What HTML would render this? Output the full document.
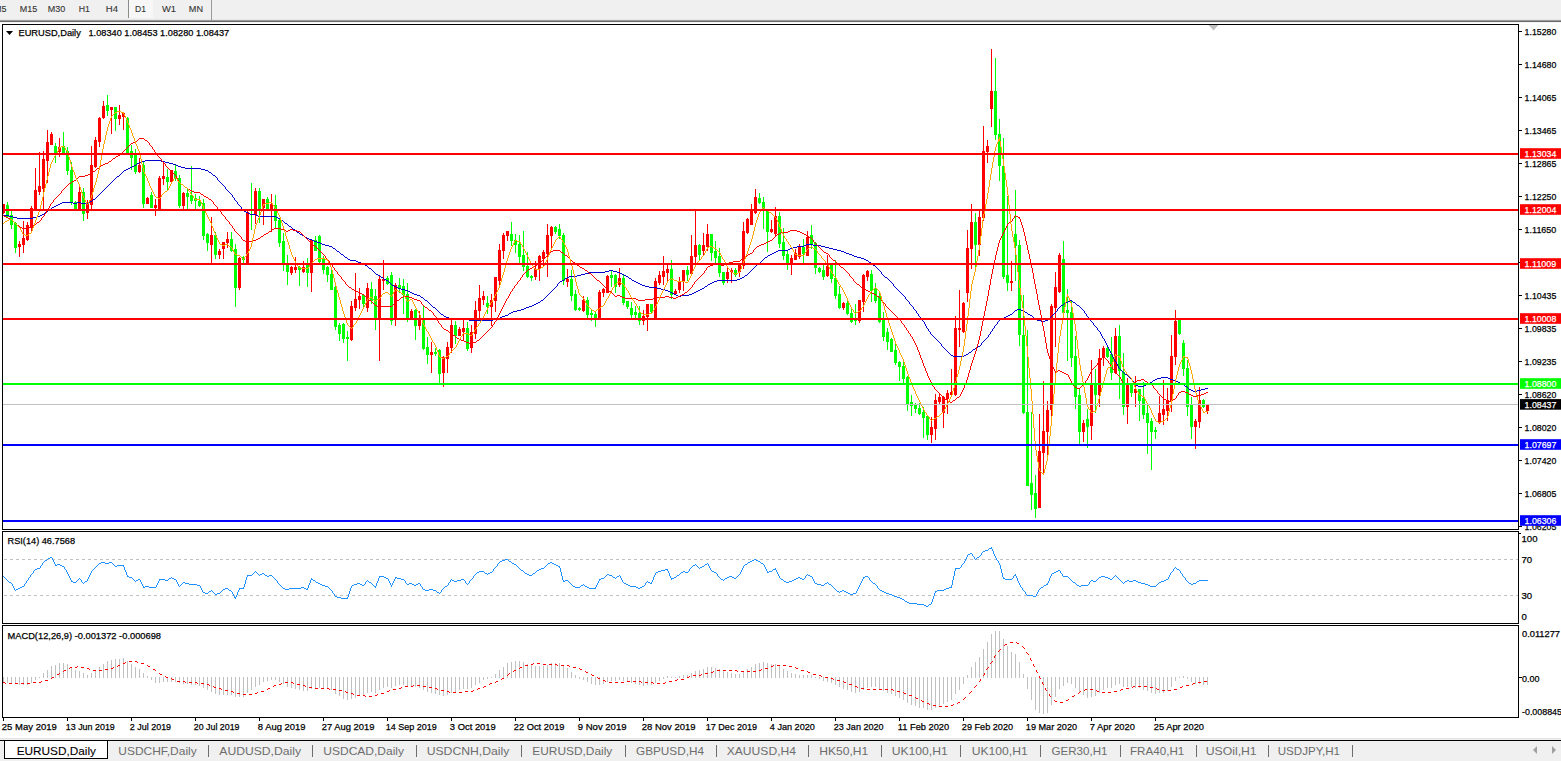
<!DOCTYPE html>
<html><head><meta charset="utf-8"><title>EURUSD,Daily</title>
<style>html,body{margin:0;padding:0;background:#fff;overflow:hidden;}svg{display:block;}text{font-family:"Liberation Sans",sans-serif;}</style>
</head><body>
<svg width="1561" height="761" viewBox="0 0 1561 761" font-family="Liberation Sans, sans-serif"><rect x="0" y="0" width="1561" height="19" fill="#F0F0F0"/>
<rect x="0" y="19" width="1561" height="1" fill="#E6E6E6"/>
<rect x="0" y="20" width="1561" height="1" fill="#9C9C9C"/>
<rect x="0" y="21" width="1561" height="1" fill="#6A6A6A"/>
<rect x="0" y="22" width="1561" height="1" fill="#F4F4F4"/>
<rect x="129" y="0" width="24" height="18" fill="#F7F7F7"/>
<rect x="128" y="0" width="1" height="18" fill="#8A8A8A"/>
<rect x="211" y="0" width="1" height="20" fill="#9A9A9A"/>
<text x="-6" y="12" font-size="9.6" fill="#333" stroke="#333" stroke-width="0.1" textLength="12.5" lengthAdjust="spacingAndGlyphs">M5</text>
<text x="19.8" y="12" font-size="9.6" fill="#333" stroke="#333" stroke-width="0.1" textLength="17.5" lengthAdjust="spacingAndGlyphs">M15</text>
<text x="47.7" y="12" font-size="9.6" fill="#333" stroke="#333" stroke-width="0.1" textLength="17.5" lengthAdjust="spacingAndGlyphs">M30</text>
<text x="78.8" y="12" font-size="9.6" fill="#333" stroke="#333" stroke-width="0.1" textLength="11.2" lengthAdjust="spacingAndGlyphs">H1</text>
<text x="105.8" y="12" font-size="9.6" fill="#333" stroke="#333" stroke-width="0.1" textLength="12.2" lengthAdjust="spacingAndGlyphs">H4</text>
<text x="135" y="12" font-size="9.6" fill="#333" stroke="#333" stroke-width="0.1" textLength="11" lengthAdjust="spacingAndGlyphs">D1</text>
<text x="162" y="12" font-size="9.6" fill="#333" stroke="#333" stroke-width="0.1" textLength="14" lengthAdjust="spacingAndGlyphs">W1</text>
<text x="188.8" y="12" font-size="9.6" fill="#333" stroke="#333" stroke-width="0.1" textLength="14.2" lengthAdjust="spacingAndGlyphs">MN</text>
<rect x="2" y="24" width="1517" height="1" fill="#000"/>
<rect x="2" y="529" width="1517" height="1" fill="#000"/>
<rect x="2" y="24" width="1" height="506" fill="#000"/>
<rect x="1518" y="24" width="1" height="506" fill="#000"/>
<rect x="2" y="531" width="1517" height="1" fill="#000"/>
<rect x="2" y="623" width="1517" height="1" fill="#000"/>
<rect x="2" y="531" width="1" height="93" fill="#000"/>
<rect x="1518" y="531" width="1" height="93" fill="#000"/>
<rect x="2" y="625" width="1517" height="1" fill="#000"/>
<rect x="2" y="717" width="1517" height="1" fill="#000"/>
<rect x="2" y="625" width="1" height="93" fill="#000"/>
<rect x="1518" y="625" width="1" height="93" fill="#000"/>
<defs><clipPath id="cm"><rect x="3" y="25" width="1515" height="504"/></clipPath><clipPath id="cr"><rect x="3" y="532" width="1515" height="91"/></clipPath><clipPath id="cd"><rect x="3" y="626" width="1515" height="91"/></clipPath></defs>
<g clip-path="url(#cm)" shape-rendering="crispEdges">
<rect x="3" y="204" width="1" height="10" fill="#FF0000"/>
<rect x="2" y="204" width="3" height="9" fill="#FF0000"/>
<rect x="7" y="202" width="1" height="15" fill="#00FF00"/>
<rect x="6" y="205" width="3" height="12" fill="#00FF00"/>
<rect x="11" y="211" width="1" height="18" fill="#00FF00"/>
<rect x="10" y="215" width="3" height="10" fill="#00FF00"/>
<rect x="15" y="222" width="1" height="31" fill="#00FF00"/>
<rect x="14" y="223" width="3" height="25" fill="#00FF00"/>
<rect x="19" y="241" width="1" height="16" fill="#FF0000"/>
<rect x="18" y="244" width="3" height="3" fill="#FF0000"/>
<rect x="23" y="221" width="1" height="32" fill="#FF0000"/>
<rect x="22" y="238" width="3" height="7" fill="#FF0000"/>
<rect x="27" y="222" width="1" height="19" fill="#FF0000"/>
<rect x="26" y="225" width="3" height="15" fill="#FF0000"/>
<rect x="31" y="206" width="1" height="26" fill="#FF0000"/>
<rect x="30" y="208" width="3" height="20" fill="#FF0000"/>
<rect x="35" y="168" width="1" height="43" fill="#FF0000"/>
<rect x="34" y="190" width="3" height="21" fill="#FF0000"/>
<rect x="39" y="152" width="1" height="43" fill="#FF0000"/>
<rect x="38" y="186" width="3" height="6" fill="#FF0000"/>
<rect x="43" y="151" width="1" height="60" fill="#FF0000"/>
<rect x="42" y="159" width="3" height="30" fill="#FF0000"/>
<rect x="47" y="130" width="1" height="53" fill="#FF0000"/>
<rect x="46" y="142" width="3" height="19" fill="#FF0000"/>
<rect x="51" y="132" width="1" height="13" fill="#FF0000"/>
<rect x="50" y="134" width="3" height="11" fill="#FF0000"/>
<rect x="55" y="143" width="1" height="20" fill="#00FF00"/>
<rect x="54" y="146" width="3" height="7" fill="#00FF00"/>
<rect x="59" y="138" width="1" height="19" fill="#FF0000"/>
<rect x="58" y="147" width="3" height="5" fill="#FF0000"/>
<rect x="63" y="132" width="1" height="22" fill="#00FF00"/>
<rect x="62" y="146" width="3" height="7" fill="#00FF00"/>
<rect x="67" y="147" width="1" height="28" fill="#00FF00"/>
<rect x="66" y="151" width="3" height="20" fill="#00FF00"/>
<rect x="71" y="162" width="1" height="43" fill="#00FF00"/>
<rect x="70" y="170" width="3" height="33" fill="#00FF00"/>
<rect x="75" y="201" width="1" height="9" fill="#00FF00"/>
<rect x="74" y="202" width="3" height="7" fill="#00FF00"/>
<rect x="79" y="186" width="1" height="24" fill="#FF0000"/>
<rect x="78" y="192" width="3" height="18" fill="#FF0000"/>
<rect x="83" y="188" width="1" height="33" fill="#00FF00"/>
<rect x="82" y="192" width="3" height="22" fill="#00FF00"/>
<rect x="87" y="200" width="1" height="19" fill="#FF0000"/>
<rect x="86" y="203" width="3" height="10" fill="#FF0000"/>
<rect x="91" y="146" width="1" height="64" fill="#FF0000"/>
<rect x="90" y="165" width="3" height="40" fill="#FF0000"/>
<rect x="95" y="137" width="1" height="31" fill="#FF0000"/>
<rect x="94" y="140" width="3" height="27" fill="#FF0000"/>
<rect x="99" y="117" width="1" height="30" fill="#FF0000"/>
<rect x="98" y="118" width="3" height="24" fill="#FF0000"/>
<rect x="103" y="101" width="1" height="18" fill="#FF0000"/>
<rect x="102" y="106" width="3" height="12" fill="#FF0000"/>
<rect x="107" y="95" width="1" height="21" fill="#00FF00"/>
<rect x="106" y="105" width="3" height="6" fill="#00FF00"/>
<rect x="111" y="107" width="1" height="27" fill="#FF0000"/>
<rect x="110" y="107" width="3" height="3" fill="#FF0000"/>
<rect x="115" y="107" width="1" height="24" fill="#00FF00"/>
<rect x="114" y="107" width="3" height="12" fill="#00FF00"/>
<rect x="119" y="105" width="1" height="20" fill="#FF0000"/>
<rect x="118" y="115" width="3" height="4" fill="#FF0000"/>
<rect x="123" y="112" width="1" height="18" fill="#FF0000"/>
<rect x="122" y="113" width="3" height="4" fill="#FF0000"/>
<rect x="127" y="117" width="1" height="38" fill="#00FF00"/>
<rect x="126" y="118" width="3" height="36" fill="#00FF00"/>
<rect x="131" y="145" width="1" height="25" fill="#00FF00"/>
<rect x="130" y="151" width="3" height="7" fill="#00FF00"/>
<rect x="135" y="149" width="1" height="25" fill="#00FF00"/>
<rect x="134" y="154" width="3" height="18" fill="#00FF00"/>
<rect x="139" y="158" width="1" height="15" fill="#FF0000"/>
<rect x="138" y="165" width="3" height="7" fill="#FF0000"/>
<rect x="143" y="162" width="1" height="46" fill="#00FF00"/>
<rect x="142" y="165" width="3" height="39" fill="#00FF00"/>
<rect x="147" y="197" width="1" height="7" fill="#FF0000"/>
<rect x="146" y="198" width="3" height="6" fill="#FF0000"/>
<rect x="151" y="192" width="1" height="16" fill="#00FF00"/>
<rect x="150" y="195" width="3" height="13" fill="#00FF00"/>
<rect x="155" y="199" width="1" height="17" fill="#FF0000"/>
<rect x="154" y="205" width="3" height="3" fill="#FF0000"/>
<rect x="159" y="176" width="1" height="35" fill="#FF0000"/>
<rect x="158" y="178" width="3" height="32" fill="#FF0000"/>
<rect x="163" y="161" width="1" height="24" fill="#FF0000"/>
<rect x="162" y="176" width="3" height="3" fill="#FF0000"/>
<rect x="167" y="169" width="1" height="21" fill="#00FF00"/>
<rect x="166" y="177" width="3" height="5" fill="#00FF00"/>
<rect x="171" y="170" width="1" height="13" fill="#FF0000"/>
<rect x="170" y="170" width="3" height="12" fill="#FF0000"/>
<rect x="175" y="165" width="1" height="16" fill="#00FF00"/>
<rect x="174" y="171" width="3" height="7" fill="#00FF00"/>
<rect x="179" y="175" width="1" height="33" fill="#00FF00"/>
<rect x="178" y="178" width="3" height="28" fill="#00FF00"/>
<rect x="183" y="192" width="1" height="18" fill="#FF0000"/>
<rect x="182" y="193" width="3" height="13" fill="#FF0000"/>
<rect x="187" y="188" width="1" height="21" fill="#00FF00"/>
<rect x="186" y="193" width="3" height="4" fill="#00FF00"/>
<rect x="191" y="166" width="1" height="38" fill="#00FF00"/>
<rect x="190" y="195" width="3" height="6" fill="#00FF00"/>
<rect x="195" y="194" width="1" height="16" fill="#00FF00"/>
<rect x="194" y="198" width="3" height="3" fill="#00FF00"/>
<rect x="199" y="196" width="1" height="11" fill="#00FF00"/>
<rect x="198" y="201" width="3" height="5" fill="#00FF00"/>
<rect x="203" y="199" width="1" height="41" fill="#00FF00"/>
<rect x="202" y="203" width="3" height="33" fill="#00FF00"/>
<rect x="207" y="233" width="1" height="18" fill="#00FF00"/>
<rect x="206" y="234" width="3" height="9" fill="#00FF00"/>
<rect x="211" y="217" width="1" height="48" fill="#FF0000"/>
<rect x="210" y="235" width="3" height="10" fill="#FF0000"/>
<rect x="215" y="232" width="1" height="27" fill="#00FF00"/>
<rect x="214" y="235" width="3" height="20" fill="#00FF00"/>
<rect x="219" y="249" width="1" height="10" fill="#FF0000"/>
<rect x="218" y="251" width="3" height="4" fill="#FF0000"/>
<rect x="223" y="242" width="1" height="17" fill="#FF0000"/>
<rect x="222" y="242" width="3" height="7" fill="#FF0000"/>
<rect x="227" y="232" width="1" height="16" fill="#FF0000"/>
<rect x="226" y="239" width="3" height="4" fill="#FF0000"/>
<rect x="231" y="232" width="1" height="20" fill="#00FF00"/>
<rect x="230" y="239" width="3" height="12" fill="#00FF00"/>
<rect x="235" y="244" width="1" height="63" fill="#00FF00"/>
<rect x="234" y="249" width="3" height="39" fill="#00FF00"/>
<rect x="239" y="257" width="1" height="33" fill="#FF0000"/>
<rect x="238" y="258" width="3" height="30" fill="#FF0000"/>
<rect x="243" y="256" width="1" height="8" fill="#00FF00"/>
<rect x="242" y="257" width="3" height="3" fill="#00FF00"/>
<rect x="247" y="211" width="1" height="54" fill="#FF0000"/>
<rect x="246" y="212" width="3" height="52" fill="#FF0000"/>
<rect x="251" y="183" width="1" height="47" fill="#00FF00"/>
<rect x="250" y="209" width="3" height="2" fill="#00FF00"/>
<rect x="255" y="188" width="1" height="36" fill="#FF0000"/>
<rect x="254" y="191" width="3" height="24" fill="#FF0000"/>
<rect x="259" y="188" width="1" height="35" fill="#00FF00"/>
<rect x="258" y="191" width="3" height="18" fill="#00FF00"/>
<rect x="263" y="199" width="1" height="26" fill="#FF0000"/>
<rect x="262" y="199" width="3" height="9" fill="#FF0000"/>
<rect x="267" y="197" width="1" height="13" fill="#00FF00"/>
<rect x="266" y="199" width="3" height="10" fill="#00FF00"/>
<rect x="271" y="194" width="1" height="38" fill="#FF0000"/>
<rect x="270" y="204" width="3" height="6" fill="#FF0000"/>
<rect x="275" y="195" width="1" height="33" fill="#00FF00"/>
<rect x="274" y="205" width="3" height="16" fill="#00FF00"/>
<rect x="279" y="219" width="1" height="28" fill="#00FF00"/>
<rect x="278" y="220" width="3" height="23" fill="#00FF00"/>
<rect x="283" y="233" width="1" height="38" fill="#00FF00"/>
<rect x="282" y="241" width="3" height="24" fill="#00FF00"/>
<rect x="287" y="255" width="1" height="30" fill="#00FF00"/>
<rect x="286" y="265" width="3" height="7" fill="#00FF00"/>
<rect x="291" y="266" width="1" height="9" fill="#FF0000"/>
<rect x="290" y="267" width="3" height="6" fill="#FF0000"/>
<rect x="295" y="257" width="1" height="16" fill="#FF0000"/>
<rect x="294" y="267" width="3" height="3" fill="#FF0000"/>
<rect x="299" y="266" width="1" height="20" fill="#00FF00"/>
<rect x="298" y="267" width="3" height="3" fill="#00FF00"/>
<rect x="303" y="261" width="1" height="12" fill="#FF0000"/>
<rect x="302" y="267" width="3" height="5" fill="#FF0000"/>
<rect x="307" y="258" width="1" height="29" fill="#00FF00"/>
<rect x="306" y="265" width="3" height="8" fill="#00FF00"/>
<rect x="311" y="239" width="1" height="53" fill="#FF0000"/>
<rect x="310" y="240" width="3" height="33" fill="#FF0000"/>
<rect x="315" y="236" width="1" height="15" fill="#00FF00"/>
<rect x="314" y="240" width="3" height="11" fill="#00FF00"/>
<rect x="319" y="235" width="1" height="28" fill="#00FF00"/>
<rect x="318" y="236" width="3" height="26" fill="#00FF00"/>
<rect x="323" y="256" width="1" height="18" fill="#00FF00"/>
<rect x="322" y="259" width="3" height="11" fill="#00FF00"/>
<rect x="327" y="266" width="1" height="16" fill="#00FF00"/>
<rect x="326" y="267" width="3" height="8" fill="#00FF00"/>
<rect x="331" y="269" width="1" height="21" fill="#00FF00"/>
<rect x="330" y="274" width="3" height="16" fill="#00FF00"/>
<rect x="335" y="286" width="1" height="44" fill="#00FF00"/>
<rect x="334" y="287" width="3" height="40" fill="#00FF00"/>
<rect x="339" y="323" width="1" height="18" fill="#00FF00"/>
<rect x="338" y="325" width="3" height="9" fill="#00FF00"/>
<rect x="343" y="323" width="1" height="20" fill="#00FF00"/>
<rect x="342" y="324" width="3" height="15" fill="#00FF00"/>
<rect x="347" y="331" width="1" height="30" fill="#00FF00"/>
<rect x="346" y="337" width="3" height="2" fill="#00FF00"/>
<rect x="351" y="301" width="1" height="40" fill="#FF0000"/>
<rect x="350" y="306" width="3" height="34" fill="#FF0000"/>
<rect x="355" y="273" width="1" height="38" fill="#FF0000"/>
<rect x="354" y="299" width="3" height="9" fill="#FF0000"/>
<rect x="359" y="288" width="1" height="21" fill="#FF0000"/>
<rect x="358" y="296" width="3" height="4" fill="#FF0000"/>
<rect x="363" y="295" width="1" height="12" fill="#00FF00"/>
<rect x="362" y="295" width="3" height="9" fill="#00FF00"/>
<rect x="367" y="283" width="1" height="29" fill="#FF0000"/>
<rect x="366" y="288" width="3" height="20" fill="#FF0000"/>
<rect x="371" y="282" width="1" height="22" fill="#00FF00"/>
<rect x="370" y="289" width="3" height="12" fill="#00FF00"/>
<rect x="375" y="289" width="1" height="41" fill="#00FF00"/>
<rect x="374" y="296" width="3" height="23" fill="#00FF00"/>
<rect x="379" y="276" width="1" height="85" fill="#FF0000"/>
<rect x="378" y="279" width="3" height="40" fill="#FF0000"/>
<rect x="383" y="260" width="1" height="30" fill="#FF0000"/>
<rect x="382" y="279" width="3" height="2" fill="#FF0000"/>
<rect x="387" y="276" width="1" height="9" fill="#00FF00"/>
<rect x="386" y="278" width="3" height="6" fill="#00FF00"/>
<rect x="391" y="272" width="1" height="53" fill="#00FF00"/>
<rect x="390" y="275" width="3" height="46" fill="#00FF00"/>
<rect x="395" y="283" width="1" height="43" fill="#FF0000"/>
<rect x="394" y="285" width="3" height="33" fill="#FF0000"/>
<rect x="399" y="278" width="1" height="15" fill="#00FF00"/>
<rect x="398" y="285" width="3" height="3" fill="#00FF00"/>
<rect x="403" y="279" width="1" height="35" fill="#00FF00"/>
<rect x="402" y="286" width="3" height="9" fill="#00FF00"/>
<rect x="407" y="283" width="1" height="39" fill="#00FF00"/>
<rect x="406" y="294" width="3" height="25" fill="#00FF00"/>
<rect x="411" y="309" width="1" height="11" fill="#FF0000"/>
<rect x="410" y="311" width="3" height="9" fill="#FF0000"/>
<rect x="415" y="309" width="1" height="31" fill="#00FF00"/>
<rect x="414" y="310" width="3" height="16" fill="#00FF00"/>
<rect x="419" y="311" width="1" height="19" fill="#FF0000"/>
<rect x="418" y="318" width="3" height="8" fill="#FF0000"/>
<rect x="423" y="306" width="1" height="44" fill="#00FF00"/>
<rect x="422" y="320" width="3" height="29" fill="#00FF00"/>
<rect x="427" y="337" width="1" height="27" fill="#00FF00"/>
<rect x="426" y="347" width="3" height="8" fill="#00FF00"/>
<rect x="431" y="342" width="1" height="31" fill="#FF0000"/>
<rect x="430" y="352" width="3" height="3" fill="#FF0000"/>
<rect x="435" y="348" width="1" height="8" fill="#00FF00"/>
<rect x="434" y="352" width="3" height="2" fill="#00FF00"/>
<rect x="439" y="349" width="1" height="35" fill="#00FF00"/>
<rect x="438" y="350" width="3" height="24" fill="#00FF00"/>
<rect x="443" y="356" width="1" height="31" fill="#FF0000"/>
<rect x="442" y="357" width="3" height="16" fill="#FF0000"/>
<rect x="447" y="342" width="1" height="31" fill="#FF0000"/>
<rect x="446" y="347" width="3" height="12" fill="#FF0000"/>
<rect x="451" y="320" width="1" height="33" fill="#FF0000"/>
<rect x="450" y="325" width="3" height="23" fill="#FF0000"/>
<rect x="455" y="321" width="1" height="23" fill="#00FF00"/>
<rect x="454" y="325" width="3" height="11" fill="#00FF00"/>
<rect x="459" y="327" width="1" height="9" fill="#FF0000"/>
<rect x="458" y="329" width="3" height="7" fill="#FF0000"/>
<rect x="463" y="319" width="1" height="21" fill="#FF0000"/>
<rect x="462" y="328" width="3" height="4" fill="#FF0000"/>
<rect x="467" y="322" width="1" height="29" fill="#00FF00"/>
<rect x="466" y="328" width="3" height="21" fill="#00FF00"/>
<rect x="471" y="325" width="1" height="28" fill="#FF0000"/>
<rect x="470" y="332" width="3" height="16" fill="#FF0000"/>
<rect x="475" y="301" width="1" height="38" fill="#FF0000"/>
<rect x="474" y="310" width="3" height="24" fill="#FF0000"/>
<rect x="479" y="285" width="1" height="34" fill="#FF0000"/>
<rect x="478" y="298" width="3" height="13" fill="#FF0000"/>
<rect x="483" y="291" width="1" height="14" fill="#FF0000"/>
<rect x="482" y="296" width="3" height="4" fill="#FF0000"/>
<rect x="487" y="296" width="1" height="18" fill="#00FF00"/>
<rect x="486" y="303" width="3" height="4" fill="#00FF00"/>
<rect x="491" y="294" width="1" height="32" fill="#FF0000"/>
<rect x="490" y="300" width="3" height="7" fill="#FF0000"/>
<rect x="495" y="277" width="1" height="35" fill="#FF0000"/>
<rect x="494" y="277" width="3" height="24" fill="#FF0000"/>
<rect x="499" y="244" width="1" height="42" fill="#FF0000"/>
<rect x="498" y="250" width="3" height="31" fill="#FF0000"/>
<rect x="503" y="233" width="1" height="26" fill="#FF0000"/>
<rect x="502" y="235" width="3" height="16" fill="#FF0000"/>
<rect x="507" y="231" width="1" height="10" fill="#FF0000"/>
<rect x="506" y="231" width="3" height="5" fill="#FF0000"/>
<rect x="511" y="222" width="1" height="24" fill="#00FF00"/>
<rect x="510" y="234" width="3" height="7" fill="#00FF00"/>
<rect x="515" y="234" width="1" height="19" fill="#00FF00"/>
<rect x="514" y="240" width="3" height="5" fill="#00FF00"/>
<rect x="519" y="235" width="1" height="29" fill="#00FF00"/>
<rect x="518" y="244" width="3" height="13" fill="#00FF00"/>
<rect x="523" y="231" width="1" height="40" fill="#00FF00"/>
<rect x="522" y="255" width="3" height="12" fill="#00FF00"/>
<rect x="527" y="252" width="1" height="26" fill="#00FF00"/>
<rect x="526" y="266" width="3" height="11" fill="#00FF00"/>
<rect x="531" y="275" width="1" height="6" fill="#00FF00"/>
<rect x="530" y="276" width="3" height="2" fill="#00FF00"/>
<rect x="535" y="261" width="1" height="19" fill="#FF0000"/>
<rect x="534" y="269" width="3" height="8" fill="#FF0000"/>
<rect x="539" y="255" width="1" height="26" fill="#FF0000"/>
<rect x="538" y="256" width="3" height="13" fill="#FF0000"/>
<rect x="543" y="250" width="1" height="17" fill="#FF0000"/>
<rect x="542" y="252" width="3" height="7" fill="#FF0000"/>
<rect x="547" y="224" width="1" height="53" fill="#FF0000"/>
<rect x="546" y="235" width="3" height="19" fill="#FF0000"/>
<rect x="551" y="226" width="1" height="22" fill="#FF0000"/>
<rect x="550" y="227" width="3" height="9" fill="#FF0000"/>
<rect x="555" y="226" width="1" height="8" fill="#00FF00"/>
<rect x="554" y="227" width="3" height="5" fill="#00FF00"/>
<rect x="559" y="224" width="1" height="15" fill="#00FF00"/>
<rect x="558" y="229" width="3" height="7" fill="#00FF00"/>
<rect x="563" y="233" width="1" height="52" fill="#00FF00"/>
<rect x="562" y="235" width="3" height="46" fill="#00FF00"/>
<rect x="567" y="269" width="1" height="18" fill="#FF0000"/>
<rect x="566" y="279" width="3" height="3" fill="#FF0000"/>
<rect x="571" y="270" width="1" height="31" fill="#00FF00"/>
<rect x="570" y="279" width="3" height="17" fill="#00FF00"/>
<rect x="575" y="290" width="1" height="21" fill="#00FF00"/>
<rect x="574" y="294" width="3" height="16" fill="#00FF00"/>
<rect x="579" y="307" width="1" height="4" fill="#00FF00"/>
<rect x="578" y="308" width="3" height="2" fill="#00FF00"/>
<rect x="583" y="296" width="1" height="16" fill="#FF0000"/>
<rect x="582" y="300" width="3" height="11" fill="#FF0000"/>
<rect x="587" y="297" width="1" height="22" fill="#00FF00"/>
<rect x="586" y="300" width="3" height="15" fill="#00FF00"/>
<rect x="591" y="310" width="1" height="11" fill="#00FF00"/>
<rect x="590" y="313" width="3" height="2" fill="#00FF00"/>
<rect x="595" y="311" width="1" height="16" fill="#00FF00"/>
<rect x="594" y="314" width="3" height="5" fill="#00FF00"/>
<rect x="599" y="290" width="1" height="29" fill="#FF0000"/>
<rect x="598" y="292" width="3" height="27" fill="#FF0000"/>
<rect x="603" y="288" width="1" height="9" fill="#FF0000"/>
<rect x="602" y="289" width="3" height="4" fill="#FF0000"/>
<rect x="607" y="275" width="1" height="18" fill="#FF0000"/>
<rect x="606" y="276" width="3" height="17" fill="#FF0000"/>
<rect x="611" y="271" width="1" height="16" fill="#00FF00"/>
<rect x="610" y="275" width="3" height="3" fill="#00FF00"/>
<rect x="615" y="274" width="1" height="19" fill="#00FF00"/>
<rect x="614" y="275" width="3" height="12" fill="#00FF00"/>
<rect x="619" y="268" width="1" height="19" fill="#FF0000"/>
<rect x="618" y="278" width="3" height="7" fill="#FF0000"/>
<rect x="623" y="274" width="1" height="31" fill="#00FF00"/>
<rect x="622" y="278" width="3" height="25" fill="#00FF00"/>
<rect x="627" y="301" width="1" height="8" fill="#00FF00"/>
<rect x="626" y="301" width="3" height="6" fill="#00FF00"/>
<rect x="631" y="302" width="1" height="17" fill="#00FF00"/>
<rect x="630" y="308" width="3" height="7" fill="#00FF00"/>
<rect x="635" y="306" width="1" height="13" fill="#00FF00"/>
<rect x="634" y="312" width="3" height="3" fill="#00FF00"/>
<rect x="639" y="306" width="1" height="19" fill="#00FF00"/>
<rect x="638" y="313" width="3" height="8" fill="#00FF00"/>
<rect x="643" y="310" width="1" height="15" fill="#FF0000"/>
<rect x="642" y="316" width="3" height="5" fill="#FF0000"/>
<rect x="647" y="304" width="1" height="27" fill="#FF0000"/>
<rect x="646" y="304" width="3" height="13" fill="#FF0000"/>
<rect x="651" y="304" width="1" height="9" fill="#00FF00"/>
<rect x="650" y="304" width="3" height="8" fill="#00FF00"/>
<rect x="655" y="278" width="1" height="41" fill="#FF0000"/>
<rect x="654" y="281" width="3" height="38" fill="#FF0000"/>
<rect x="659" y="271" width="1" height="14" fill="#FF0000"/>
<rect x="658" y="275" width="3" height="8" fill="#FF0000"/>
<rect x="663" y="256" width="1" height="29" fill="#FF0000"/>
<rect x="662" y="271" width="3" height="6" fill="#FF0000"/>
<rect x="667" y="265" width="1" height="16" fill="#FF0000"/>
<rect x="666" y="269" width="3" height="4" fill="#FF0000"/>
<rect x="671" y="260" width="1" height="39" fill="#00FF00"/>
<rect x="670" y="269" width="3" height="26" fill="#00FF00"/>
<rect x="675" y="289" width="1" height="6" fill="#FF0000"/>
<rect x="674" y="291" width="3" height="3" fill="#FF0000"/>
<rect x="679" y="277" width="1" height="16" fill="#FF0000"/>
<rect x="678" y="282" width="3" height="8" fill="#FF0000"/>
<rect x="683" y="270" width="1" height="21" fill="#FF0000"/>
<rect x="682" y="270" width="3" height="11" fill="#FF0000"/>
<rect x="687" y="266" width="1" height="15" fill="#00FF00"/>
<rect x="686" y="270" width="3" height="5" fill="#00FF00"/>
<rect x="691" y="235" width="1" height="40" fill="#FF0000"/>
<rect x="690" y="256" width="3" height="18" fill="#FF0000"/>
<rect x="695" y="211" width="1" height="53" fill="#FF0000"/>
<rect x="694" y="245" width="3" height="12" fill="#FF0000"/>
<rect x="699" y="244" width="1" height="16" fill="#00FF00"/>
<rect x="698" y="245" width="3" height="10" fill="#00FF00"/>
<rect x="703" y="233" width="1" height="22" fill="#FF0000"/>
<rect x="702" y="245" width="3" height="6" fill="#FF0000"/>
<rect x="707" y="224" width="1" height="27" fill="#FF0000"/>
<rect x="706" y="234" width="3" height="13" fill="#FF0000"/>
<rect x="711" y="234" width="1" height="27" fill="#00FF00"/>
<rect x="710" y="234" width="3" height="19" fill="#00FF00"/>
<rect x="715" y="241" width="1" height="22" fill="#00FF00"/>
<rect x="714" y="251" width="3" height="7" fill="#00FF00"/>
<rect x="719" y="248" width="1" height="29" fill="#00FF00"/>
<rect x="718" y="256" width="3" height="17" fill="#00FF00"/>
<rect x="723" y="272" width="1" height="13" fill="#00FF00"/>
<rect x="722" y="272" width="3" height="11" fill="#00FF00"/>
<rect x="727" y="268" width="1" height="15" fill="#FF0000"/>
<rect x="726" y="272" width="3" height="7" fill="#FF0000"/>
<rect x="731" y="268" width="1" height="15" fill="#FF0000"/>
<rect x="730" y="270" width="3" height="2" fill="#FF0000"/>
<rect x="735" y="268" width="1" height="9" fill="#00FF00"/>
<rect x="734" y="270" width="3" height="5" fill="#00FF00"/>
<rect x="739" y="263" width="1" height="14" fill="#FF0000"/>
<rect x="738" y="264" width="3" height="8" fill="#FF0000"/>
<rect x="743" y="222" width="1" height="47" fill="#FF0000"/>
<rect x="742" y="231" width="3" height="35" fill="#FF0000"/>
<rect x="747" y="218" width="1" height="16" fill="#FF0000"/>
<rect x="746" y="219" width="3" height="14" fill="#FF0000"/>
<rect x="751" y="204" width="1" height="21" fill="#FF0000"/>
<rect x="750" y="209" width="3" height="16" fill="#FF0000"/>
<rect x="755" y="189" width="1" height="25" fill="#FF0000"/>
<rect x="754" y="197" width="3" height="16" fill="#FF0000"/>
<rect x="759" y="193" width="1" height="11" fill="#00FF00"/>
<rect x="758" y="198" width="3" height="5" fill="#00FF00"/>
<rect x="763" y="197" width="1" height="32" fill="#00FF00"/>
<rect x="762" y="202" width="3" height="7" fill="#00FF00"/>
<rect x="767" y="209" width="1" height="43" fill="#00FF00"/>
<rect x="766" y="210" width="3" height="22" fill="#00FF00"/>
<rect x="771" y="220" width="1" height="13" fill="#FF0000"/>
<rect x="770" y="229" width="3" height="3" fill="#FF0000"/>
<rect x="775" y="207" width="1" height="29" fill="#FF0000"/>
<rect x="774" y="216" width="3" height="18" fill="#FF0000"/>
<rect x="779" y="212" width="1" height="36" fill="#00FF00"/>
<rect x="778" y="216" width="3" height="28" fill="#00FF00"/>
<rect x="783" y="228" width="1" height="32" fill="#00FF00"/>
<rect x="782" y="242" width="3" height="14" fill="#00FF00"/>
<rect x="787" y="251" width="1" height="19" fill="#00FF00"/>
<rect x="786" y="254" width="3" height="10" fill="#00FF00"/>
<rect x="791" y="255" width="1" height="20" fill="#FF0000"/>
<rect x="790" y="258" width="3" height="7" fill="#FF0000"/>
<rect x="795" y="249" width="1" height="11" fill="#FF0000"/>
<rect x="794" y="253" width="3" height="7" fill="#FF0000"/>
<rect x="799" y="244" width="1" height="15" fill="#FF0000"/>
<rect x="798" y="246" width="3" height="11" fill="#FF0000"/>
<rect x="803" y="239" width="1" height="25" fill="#00FF00"/>
<rect x="802" y="247" width="3" height="7" fill="#00FF00"/>
<rect x="807" y="231" width="1" height="25" fill="#FF0000"/>
<rect x="806" y="237" width="3" height="19" fill="#FF0000"/>
<rect x="811" y="225" width="1" height="24" fill="#00FF00"/>
<rect x="810" y="235" width="3" height="9" fill="#00FF00"/>
<rect x="815" y="242" width="1" height="32" fill="#00FF00"/>
<rect x="814" y="243" width="3" height="25" fill="#00FF00"/>
<rect x="819" y="267" width="1" height="6" fill="#00FF00"/>
<rect x="818" y="268" width="3" height="4" fill="#00FF00"/>
<rect x="823" y="265" width="1" height="15" fill="#00FF00"/>
<rect x="822" y="270" width="3" height="7" fill="#00FF00"/>
<rect x="827" y="255" width="1" height="22" fill="#FF0000"/>
<rect x="826" y="266" width="3" height="10" fill="#FF0000"/>
<rect x="831" y="265" width="1" height="18" fill="#00FF00"/>
<rect x="830" y="265" width="3" height="14" fill="#00FF00"/>
<rect x="835" y="260" width="1" height="39" fill="#00FF00"/>
<rect x="834" y="278" width="3" height="18" fill="#00FF00"/>
<rect x="839" y="286" width="1" height="23" fill="#00FF00"/>
<rect x="838" y="294" width="3" height="14" fill="#00FF00"/>
<rect x="843" y="302" width="1" height="8" fill="#FF0000"/>
<rect x="842" y="303" width="3" height="5" fill="#FF0000"/>
<rect x="847" y="301" width="1" height="14" fill="#00FF00"/>
<rect x="846" y="303" width="3" height="11" fill="#00FF00"/>
<rect x="851" y="308" width="1" height="15" fill="#00FF00"/>
<rect x="850" y="313" width="3" height="9" fill="#00FF00"/>
<rect x="855" y="304" width="1" height="21" fill="#00FF00"/>
<rect x="854" y="319" width="3" height="2" fill="#00FF00"/>
<rect x="859" y="300" width="1" height="23" fill="#FF0000"/>
<rect x="858" y="300" width="3" height="21" fill="#FF0000"/>
<rect x="863" y="274" width="1" height="38" fill="#FF0000"/>
<rect x="862" y="275" width="3" height="27" fill="#FF0000"/>
<rect x="867" y="270" width="1" height="11" fill="#FF0000"/>
<rect x="866" y="271" width="3" height="6" fill="#FF0000"/>
<rect x="871" y="270" width="1" height="32" fill="#00FF00"/>
<rect x="870" y="274" width="3" height="17" fill="#00FF00"/>
<rect x="875" y="283" width="1" height="20" fill="#00FF00"/>
<rect x="874" y="288" width="3" height="13" fill="#00FF00"/>
<rect x="879" y="293" width="1" height="30" fill="#00FF00"/>
<rect x="878" y="296" width="3" height="26" fill="#00FF00"/>
<rect x="883" y="312" width="1" height="29" fill="#00FF00"/>
<rect x="882" y="320" width="3" height="17" fill="#00FF00"/>
<rect x="887" y="328" width="1" height="22" fill="#00FF00"/>
<rect x="886" y="332" width="3" height="10" fill="#00FF00"/>
<rect x="891" y="338" width="1" height="14" fill="#00FF00"/>
<rect x="890" y="339" width="3" height="13" fill="#00FF00"/>
<rect x="895" y="343" width="1" height="22" fill="#00FF00"/>
<rect x="894" y="350" width="3" height="13" fill="#00FF00"/>
<rect x="899" y="361" width="1" height="20" fill="#00FF00"/>
<rect x="898" y="362" width="3" height="5" fill="#00FF00"/>
<rect x="903" y="360" width="1" height="24" fill="#00FF00"/>
<rect x="902" y="366" width="3" height="13" fill="#00FF00"/>
<rect x="907" y="376" width="1" height="35" fill="#00FF00"/>
<rect x="906" y="377" width="3" height="27" fill="#00FF00"/>
<rect x="911" y="395" width="1" height="21" fill="#00FF00"/>
<rect x="910" y="402" width="3" height="4" fill="#00FF00"/>
<rect x="915" y="403" width="1" height="10" fill="#00FF00"/>
<rect x="914" y="404" width="3" height="5" fill="#00FF00"/>
<rect x="919" y="403" width="1" height="12" fill="#00FF00"/>
<rect x="918" y="408" width="3" height="6" fill="#00FF00"/>
<rect x="923" y="407" width="1" height="31" fill="#00FF00"/>
<rect x="922" y="412" width="3" height="6" fill="#00FF00"/>
<rect x="927" y="416" width="1" height="24" fill="#00FF00"/>
<rect x="926" y="416" width="3" height="19" fill="#00FF00"/>
<rect x="931" y="417" width="1" height="26" fill="#FF0000"/>
<rect x="930" y="427" width="3" height="8" fill="#FF0000"/>
<rect x="935" y="394" width="1" height="46" fill="#FF0000"/>
<rect x="934" y="400" width="3" height="29" fill="#FF0000"/>
<rect x="939" y="394" width="1" height="10" fill="#FF0000"/>
<rect x="938" y="397" width="3" height="5" fill="#FF0000"/>
<rect x="943" y="396" width="1" height="32" fill="#FF0000"/>
<rect x="942" y="397" width="3" height="16" fill="#FF0000"/>
<rect x="947" y="390" width="1" height="24" fill="#FF0000"/>
<rect x="946" y="393" width="3" height="6" fill="#FF0000"/>
<rect x="951" y="369" width="1" height="27" fill="#FF0000"/>
<rect x="950" y="392" width="3" height="3" fill="#FF0000"/>
<rect x="955" y="316" width="1" height="80" fill="#FF0000"/>
<rect x="954" y="328" width="3" height="67" fill="#FF0000"/>
<rect x="959" y="290" width="1" height="57" fill="#FF0000"/>
<rect x="958" y="328" width="3" height="2" fill="#FF0000"/>
<rect x="963" y="302" width="1" height="31" fill="#FF0000"/>
<rect x="962" y="303" width="3" height="29" fill="#FF0000"/>
<rect x="967" y="230" width="1" height="72" fill="#FF0000"/>
<rect x="966" y="248" width="3" height="45" fill="#FF0000"/>
<rect x="971" y="204" width="1" height="65" fill="#FF0000"/>
<rect x="970" y="222" width="3" height="27" fill="#FF0000"/>
<rect x="975" y="213" width="1" height="55" fill="#00FF00"/>
<rect x="974" y="222" width="3" height="23" fill="#00FF00"/>
<rect x="979" y="211" width="1" height="45" fill="#FF0000"/>
<rect x="978" y="217" width="3" height="28" fill="#FF0000"/>
<rect x="983" y="126" width="1" height="95" fill="#FF0000"/>
<rect x="982" y="151" width="3" height="67" fill="#FF0000"/>
<rect x="987" y="140" width="1" height="23" fill="#FF0000"/>
<rect x="986" y="146" width="3" height="6" fill="#FF0000"/>
<rect x="991" y="49" width="1" height="78" fill="#FF0000"/>
<rect x="990" y="91" width="3" height="18" fill="#FF0000"/>
<rect x="995" y="58" width="1" height="82" fill="#00FF00"/>
<rect x="994" y="91" width="3" height="44" fill="#00FF00"/>
<rect x="999" y="119" width="1" height="62" fill="#00FF00"/>
<rect x="998" y="134" width="3" height="32" fill="#00FF00"/>
<rect x="1003" y="138" width="1" height="141" fill="#00FF00"/>
<rect x="1002" y="166" width="3" height="111" fill="#00FF00"/>
<rect x="1007" y="196" width="1" height="95" fill="#00FF00"/>
<rect x="1006" y="275" width="3" height="8" fill="#00FF00"/>
<rect x="1011" y="261" width="1" height="30" fill="#FF0000"/>
<rect x="1010" y="281" width="3" height="2" fill="#FF0000"/>
<rect x="1015" y="190" width="1" height="91" fill="#00FF00"/>
<rect x="1014" y="234" width="3" height="12" fill="#00FF00"/>
<rect x="1019" y="240" width="1" height="106" fill="#00FF00"/>
<rect x="1018" y="245" width="3" height="90" fill="#00FF00"/>
<rect x="1023" y="295" width="1" height="119" fill="#00FF00"/>
<rect x="1022" y="335" width="3" height="78" fill="#00FF00"/>
<rect x="1027" y="330" width="1" height="156" fill="#00FF00"/>
<rect x="1026" y="412" width="3" height="74" fill="#00FF00"/>
<rect x="1031" y="412" width="1" height="98" fill="#00FF00"/>
<rect x="1030" y="483" width="3" height="12" fill="#00FF00"/>
<rect x="1035" y="475" width="1" height="43" fill="#00FF00"/>
<rect x="1034" y="493" width="3" height="16" fill="#00FF00"/>
<rect x="1039" y="414" width="1" height="94" fill="#FF0000"/>
<rect x="1038" y="451" width="3" height="57" fill="#FF0000"/>
<rect x="1043" y="381" width="1" height="92" fill="#FF0000"/>
<rect x="1042" y="431" width="3" height="22" fill="#FF0000"/>
<rect x="1047" y="401" width="1" height="54" fill="#FF0000"/>
<rect x="1046" y="410" width="3" height="22" fill="#FF0000"/>
<rect x="1051" y="304" width="1" height="112" fill="#FF0000"/>
<rect x="1050" y="306" width="3" height="104" fill="#FF0000"/>
<rect x="1055" y="272" width="1" height="75" fill="#FF0000"/>
<rect x="1054" y="287" width="3" height="21" fill="#FF0000"/>
<rect x="1059" y="253" width="1" height="40" fill="#FF0000"/>
<rect x="1058" y="255" width="3" height="37" fill="#FF0000"/>
<rect x="1063" y="241" width="1" height="72" fill="#00FF00"/>
<rect x="1062" y="259" width="3" height="54" fill="#00FF00"/>
<rect x="1067" y="289" width="1" height="72" fill="#00FF00"/>
<rect x="1066" y="310" width="3" height="3" fill="#00FF00"/>
<rect x="1071" y="300" width="1" height="67" fill="#00FF00"/>
<rect x="1070" y="312" width="3" height="46" fill="#00FF00"/>
<rect x="1075" y="336" width="1" height="73" fill="#00FF00"/>
<rect x="1074" y="356" width="3" height="41" fill="#00FF00"/>
<rect x="1079" y="389" width="1" height="56" fill="#00FF00"/>
<rect x="1078" y="395" width="3" height="37" fill="#00FF00"/>
<rect x="1083" y="420" width="1" height="22" fill="#FF0000"/>
<rect x="1082" y="423" width="3" height="9" fill="#FF0000"/>
<rect x="1087" y="409" width="1" height="39" fill="#00FF00"/>
<rect x="1086" y="419" width="3" height="8" fill="#00FF00"/>
<rect x="1091" y="360" width="1" height="80" fill="#FF0000"/>
<rect x="1090" y="383" width="3" height="43" fill="#FF0000"/>
<rect x="1095" y="369" width="1" height="44" fill="#00FF00"/>
<rect x="1094" y="383" width="3" height="12" fill="#00FF00"/>
<rect x="1099" y="349" width="1" height="58" fill="#FF0000"/>
<rect x="1098" y="358" width="3" height="37" fill="#FF0000"/>
<rect x="1103" y="346" width="1" height="20" fill="#FF0000"/>
<rect x="1102" y="348" width="3" height="10" fill="#FF0000"/>
<rect x="1107" y="346" width="1" height="12" fill="#00FF00"/>
<rect x="1106" y="348" width="3" height="9" fill="#00FF00"/>
<rect x="1111" y="337" width="1" height="43" fill="#00FF00"/>
<rect x="1110" y="354" width="3" height="19" fill="#00FF00"/>
<rect x="1115" y="328" width="1" height="46" fill="#FF0000"/>
<rect x="1114" y="336" width="3" height="37" fill="#FF0000"/>
<rect x="1119" y="325" width="1" height="74" fill="#00FF00"/>
<rect x="1118" y="336" width="3" height="35" fill="#00FF00"/>
<rect x="1123" y="353" width="1" height="62" fill="#00FF00"/>
<rect x="1122" y="372" width="3" height="35" fill="#00FF00"/>
<rect x="1127" y="378" width="1" height="46" fill="#FF0000"/>
<rect x="1126" y="385" width="3" height="22" fill="#FF0000"/>
<rect x="1131" y="383" width="1" height="14" fill="#00FF00"/>
<rect x="1130" y="384" width="3" height="9" fill="#00FF00"/>
<rect x="1135" y="376" width="1" height="31" fill="#FF0000"/>
<rect x="1134" y="389" width="3" height="4" fill="#FF0000"/>
<rect x="1139" y="389" width="1" height="32" fill="#00FF00"/>
<rect x="1138" y="389" width="3" height="12" fill="#00FF00"/>
<rect x="1143" y="382" width="1" height="37" fill="#00FF00"/>
<rect x="1142" y="398" width="3" height="17" fill="#00FF00"/>
<rect x="1147" y="404" width="1" height="50" fill="#00FF00"/>
<rect x="1146" y="413" width="3" height="10" fill="#00FF00"/>
<rect x="1151" y="418" width="1" height="52" fill="#00FF00"/>
<rect x="1150" y="421" width="3" height="11" fill="#00FF00"/>
<rect x="1155" y="427" width="1" height="12" fill="#00FF00"/>
<rect x="1154" y="430" width="3" height="2" fill="#00FF00"/>
<rect x="1159" y="396" width="1" height="28" fill="#FF0000"/>
<rect x="1158" y="413" width="3" height="9" fill="#FF0000"/>
<rect x="1163" y="380" width="1" height="45" fill="#FF0000"/>
<rect x="1162" y="409" width="3" height="6" fill="#FF0000"/>
<rect x="1167" y="388" width="1" height="33" fill="#FF0000"/>
<rect x="1166" y="400" width="3" height="11" fill="#FF0000"/>
<rect x="1171" y="335" width="1" height="77" fill="#FF0000"/>
<rect x="1170" y="356" width="3" height="45" fill="#FF0000"/>
<rect x="1175" y="310" width="1" height="55" fill="#FF0000"/>
<rect x="1174" y="321" width="3" height="36" fill="#FF0000"/>
<rect x="1179" y="320" width="1" height="15" fill="#00FF00"/>
<rect x="1178" y="320" width="3" height="14" fill="#00FF00"/>
<rect x="1183" y="340" width="1" height="36" fill="#00FF00"/>
<rect x="1182" y="343" width="3" height="26" fill="#00FF00"/>
<rect x="1187" y="360" width="1" height="56" fill="#00FF00"/>
<rect x="1186" y="368" width="3" height="39" fill="#00FF00"/>
<rect x="1191" y="397" width="1" height="42" fill="#00FF00"/>
<rect x="1190" y="405" width="3" height="22" fill="#00FF00"/>
<rect x="1195" y="419" width="1" height="30" fill="#FF0000"/>
<rect x="1194" y="421" width="3" height="6" fill="#FF0000"/>
<rect x="1199" y="387" width="1" height="41" fill="#FF0000"/>
<rect x="1198" y="400" width="3" height="22" fill="#FF0000"/>
<rect x="1203" y="399" width="1" height="9" fill="#00FF00"/>
<rect x="1202" y="400" width="3" height="7" fill="#00FF00"/>
<rect x="1207" y="404" width="1" height="10" fill="#FF0000"/>
<rect x="1206" y="404" width="3" height="7" fill="#FF0000"/>
<path d="M145 160h16v1h-16zM141 161h4v1h-4zM161 161h4v1h-4zM139 162h2v1h-2zM165 162h4v1h-4zM137 163h2v1h-2zM169 163h4v1h-4zM136 164h1v1h-1zM173 164h3v1h-3zM134 165h2v1h-2zM176 165h2v1h-2zM132 166h2v1h-2zM178 166h3v1h-3zM130 167h2v1h-2zM181 167h4v1h-4zM128 168h2v1h-2zM185 168h16v1h-16zM126 169h2v1h-2zM201 169h4v1h-4zM124 170h2v1h-2zM205 170h3v1h-3zM123 171h1v1h-1zM208 171h1v1h-1zM122 172h1v1h-1zM209 172h2v1h-2zM121 173h1v1h-1zM211 173h1v1h-1zM120 174h1v1h-1zM212 174h1v1h-1zM119 175h1v1h-1zM213 175h2v1h-2zM117 176h2v1h-2zM215 176h1v1h-1zM116 177h1v1h-1zM216 177h1v1h-1zM115 178h1v1h-1zM217 178h1v1h-1zM114 179h1v1h-1zM217 179h1v1h-1zM113 180h1v1h-1zM218 180h1v1h-1zM112 181h1v1h-1zM219 181h1v1h-1zM111 182h1v1h-1zM220 182h1v1h-1zM110 183h1v1h-1zM221 183h1v1h-1zM109 184h1v1h-1zM222 184h1v1h-1zM108 185h1v1h-1zM223 185h1v1h-1zM107 186h1v1h-1zM224 186h1v1h-1zM106 187h1v1h-1zM225 187h1v1h-1zM105 188h1v1h-1zM225 188h1v1h-1zM104 189h1v1h-1zM226 189h1v1h-1zM103 190h1v1h-1zM227 190h1v1h-1zM102 191h1v1h-1zM228 191h1v1h-1zM101 192h1v1h-1zM229 192h1v1h-1zM100 193h1v1h-1zM230 193h1v1h-1zM99 194h1v1h-1zM231 194h1v1h-1zM98 195h1v1h-1zM232 195h1v1h-1zM97 196h1v1h-1zM232 196h1v1h-1zM96 197h1v1h-1zM233 197h1v1h-1zM95 198h1v1h-1zM234 198h1v1h-1zM93 199h2v1h-2zM234 199h1v1h-1zM92 200h1v1h-1zM235 200h1v1h-1zM90 201h2v1h-2zM236 201h1v1h-1zM62 202h11v1h-11zM77 202h4v1h-4zM88 202h2v1h-2zM237 202h1v1h-1zM60 203h2v1h-2zM73 203h4v1h-4zM81 203h7v1h-7zM237 203h1v1h-1zM58 204h2v1h-2zM238 204h1v1h-1zM56 205h2v1h-2zM239 205h1v1h-1zM54 206h2v1h-2zM240 206h1v1h-1zM52 207h2v1h-2zM241 207h1v1h-1zM51 208h1v1h-1zM241 208h1v1h-1zM49 209h2v1h-2zM242 209h1v1h-1zM48 210h1v1h-1zM243 210h1v1h-1zM47 211h1v1h-1zM244 211h2v1h-2zM45 212h2v1h-2zM246 212h2v1h-2zM44 213h1v1h-1zM248 213h2v1h-2zM42 214h2v1h-2zM250 214h6v1h-6zM3 215h6v1h-6zM40 215h2v1h-2zM256 215h2v1h-2zM9 216h4v1h-4zM37 216h3v1h-3zM258 216h18v1h-18zM13 217h4v1h-4zM33 217h4v1h-4zM276 217h2v1h-2zM17 218h16v1h-16zM278 218h2v1h-2zM280 219h1v1h-1zM281 220h2v1h-2zM283 221h1v1h-1zM284 222h1v1h-1zM285 223h2v1h-2zM287 224h1v1h-1zM288 225h1v1h-1zM289 226h2v1h-2zM291 227h1v1h-1zM292 228h1v1h-1zM293 229h2v1h-2zM295 230h1v1h-1zM296 231h1v1h-1zM297 232h2v1h-2zM299 233h1v1h-1zM300 234h2v1h-2zM302 235h2v1h-2zM304 236h1v1h-1zM305 237h2v1h-2zM307 238h2v1h-2zM309 239h3v1h-3zM312 240h2v1h-2zM314 241h3v1h-3zM317 242h3v1h-3zM320 243h2v1h-2zM322 244h3v1h-3zM806 244h7v1h-7zM325 245h4v1h-4zM804 245h2v1h-2zM813 245h8v1h-8zM329 246h3v1h-3zM797 246h7v1h-7zM821 246h4v1h-4zM332 247h1v1h-1zM793 247h4v1h-4zM825 247h4v1h-4zM333 248h2v1h-2zM790 248h3v1h-3zM829 248h4v1h-4zM335 249h1v1h-1zM788 249h2v1h-2zM833 249h4v1h-4zM336 250h1v1h-1zM778 250h10v1h-10zM837 250h4v1h-4zM337 251h2v1h-2zM776 251h2v1h-2zM841 251h3v1h-3zM339 252h1v1h-1zM774 252h2v1h-2zM844 252h2v1h-2zM340 253h1v1h-1zM772 253h2v1h-2zM846 253h3v1h-3zM341 254h2v1h-2zM770 254h2v1h-2zM849 254h3v1h-3zM343 255h1v1h-1zM768 255h2v1h-2zM852 255h2v1h-2zM344 256h1v1h-1zM767 256h1v1h-1zM854 256h3v1h-3zM345 257h2v1h-2zM765 257h2v1h-2zM857 257h4v1h-4zM347 258h1v1h-1zM764 258h1v1h-1zM861 258h3v1h-3zM348 259h2v1h-2zM763 259h1v1h-1zM864 259h2v1h-2zM350 260h6v1h-6zM762 260h1v1h-1zM866 260h2v1h-2zM356 261h2v1h-2zM761 261h1v1h-1zM868 261h1v1h-1zM358 262h3v1h-3zM760 262h1v1h-1zM869 262h2v1h-2zM361 263h3v1h-3zM759 263h1v1h-1zM871 263h1v1h-1zM364 264h1v1h-1zM757 264h2v1h-2zM872 264h1v1h-1zM365 265h2v1h-2zM756 265h1v1h-1zM873 265h2v1h-2zM367 266h1v1h-1zM755 266h1v1h-1zM875 266h1v1h-1zM368 267h1v1h-1zM754 267h1v1h-1zM876 267h1v1h-1zM369 268h2v1h-2zM753 268h1v1h-1zM877 268h1v1h-1zM371 269h1v1h-1zM752 269h1v1h-1zM878 269h1v1h-1zM372 270h1v1h-1zM609 270h4v1h-4zM751 270h1v1h-1zM879 270h1v1h-1zM373 271h1v1h-1zM605 271h4v1h-4zM613 271h4v1h-4zM750 271h1v1h-1zM880 271h1v1h-1zM374 272h1v1h-1zM589 272h16v1h-16zM617 272h3v1h-3zM749 272h1v1h-1zM881 272h1v1h-1zM375 273h1v1h-1zM585 273h4v1h-4zM620 273h2v1h-2zM748 273h1v1h-1zM881 273h1v1h-1zM376 274h2v1h-2zM581 274h4v1h-4zM622 274h2v1h-2zM747 274h1v1h-1zM882 274h1v1h-1zM378 275h2v1h-2zM577 275h4v1h-4zM624 275h2v1h-2zM745 275h2v1h-2zM883 275h1v1h-1zM380 276h1v1h-1zM569 276h8v1h-8zM626 276h2v1h-2zM744 276h1v1h-1zM884 276h1v1h-1zM381 277h2v1h-2zM567 277h2v1h-2zM628 277h1v1h-1zM742 277h2v1h-2zM885 277h2v1h-2zM383 278h1v1h-1zM565 278h2v1h-2zM629 278h2v1h-2zM740 278h2v1h-2zM887 278h1v1h-1zM384 279h2v1h-2zM564 279h1v1h-1zM631 279h1v1h-1zM737 279h3v1h-3zM888 279h1v1h-1zM386 280h2v1h-2zM562 280h2v1h-2zM632 280h2v1h-2zM717 280h20v1h-20zM889 280h1v1h-1zM388 281h1v1h-1zM560 281h2v1h-2zM634 281h2v1h-2zM714 281h3v1h-3zM890 281h1v1h-1zM389 282h1v1h-1zM559 282h1v1h-1zM636 282h2v1h-2zM712 282h2v1h-2zM891 282h1v1h-1zM390 283h1v1h-1zM558 283h1v1h-1zM638 283h2v1h-2zM710 283h2v1h-2zM892 283h1v1h-1zM391 284h1v1h-1zM557 284h1v1h-1zM640 284h2v1h-2zM708 284h2v1h-2zM893 284h1v1h-1zM392 285h2v1h-2zM557 285h1v1h-1zM642 285h3v1h-3zM707 285h1v1h-1zM893 285h1v1h-1zM394 286h2v1h-2zM556 286h1v1h-1zM645 286h4v1h-4zM705 286h2v1h-2zM894 286h1v1h-1zM396 287h2v1h-2zM555 287h1v1h-1zM649 287h8v1h-8zM704 287h1v1h-1zM895 287h1v1h-1zM398 288h3v1h-3zM554 288h1v1h-1zM657 288h4v1h-4zM702 288h2v1h-2zM896 288h1v1h-1zM401 289h4v1h-4zM553 289h1v1h-1zM661 289h4v1h-4zM700 289h2v1h-2zM897 289h1v1h-1zM405 290h3v1h-3zM552 290h1v1h-1zM665 290h3v1h-3zM698 290h2v1h-2zM898 290h1v1h-1zM408 291h2v1h-2zM551 291h1v1h-1zM668 291h2v1h-2zM696 291h2v1h-2zM899 291h1v1h-1zM410 292h2v1h-2zM550 292h1v1h-1zM670 292h2v1h-2zM694 292h2v1h-2zM900 292h1v1h-1zM412 293h2v1h-2zM549 293h1v1h-1zM672 293h2v1h-2zM692 293h2v1h-2zM901 293h1v1h-1zM414 294h3v1h-3zM548 294h1v1h-1zM674 294h2v1h-2zM689 294h3v1h-3zM902 294h1v1h-1zM417 295h3v1h-3zM547 295h1v1h-1zM676 295h2v1h-2zM681 295h8v1h-8zM903 295h1v1h-1zM420 296h1v1h-1zM546 296h1v1h-1zM678 296h3v1h-3zM904 296h1v1h-1zM421 297h2v1h-2zM545 297h1v1h-1zM905 297h1v1h-1zM423 298h1v1h-1zM544 298h1v1h-1zM905 298h1v1h-1zM424 299h1v1h-1zM543 299h1v1h-1zM906 299h1v1h-1zM425 300h2v1h-2zM541 300h2v1h-2zM907 300h1v1h-1zM1070 300h2v1h-2zM427 301h1v1h-1zM540 301h1v1h-1zM908 301h1v1h-1zM1068 301h2v1h-2zM1072 301h1v1h-1zM428 302h1v1h-1zM538 302h2v1h-2zM909 302h1v1h-1zM1066 302h2v1h-2zM1073 302h2v1h-2zM429 303h1v1h-1zM536 303h2v1h-2zM909 303h1v1h-1zM1064 303h2v1h-2zM1075 303h1v1h-1zM430 304h1v1h-1zM534 304h2v1h-2zM910 304h1v1h-1zM1063 304h1v1h-1zM1076 304h1v1h-1zM431 305h1v1h-1zM532 305h2v1h-2zM911 305h1v1h-1zM1061 305h2v1h-2zM1077 305h2v1h-2zM432 306h1v1h-1zM529 306h3v1h-3zM912 306h1v1h-1zM1060 306h1v1h-1zM1079 306h1v1h-1zM433 307h2v1h-2zM526 307h3v1h-3zM913 307h1v1h-1zM1059 307h1v1h-1zM1080 307h1v1h-1zM435 308h1v1h-1zM524 308h2v1h-2zM913 308h1v1h-1zM1058 308h1v1h-1zM1081 308h1v1h-1zM436 309h1v1h-1zM521 309h3v1h-3zM914 309h1v1h-1zM1017 309h4v1h-4zM1057 309h1v1h-1zM1082 309h1v1h-1zM437 310h1v1h-1zM517 310h4v1h-4zM915 310h1v1h-1zM1015 310h2v1h-2zM1021 310h3v1h-3zM1057 310h1v1h-1zM1083 310h1v1h-1zM438 311h1v1h-1zM513 311h4v1h-4zM916 311h1v1h-1zM1014 311h1v1h-1zM1024 311h1v1h-1zM1056 311h1v1h-1zM1084 311h1v1h-1zM439 312h1v1h-1zM511 312h2v1h-2zM916 312h1v1h-1zM1013 312h1v1h-1zM1025 312h2v1h-2zM1055 312h1v1h-1zM1084 312h1v1h-1zM440 313h1v1h-1zM509 313h2v1h-2zM917 313h1v1h-1zM1012 313h1v1h-1zM1027 313h1v1h-1zM1054 313h1v1h-1zM1085 313h1v1h-1zM441 314h2v1h-2zM508 314h1v1h-1zM918 314h1v1h-1zM1010 314h2v1h-2zM1028 314h2v1h-2zM1053 314h1v1h-1zM1086 314h1v1h-1zM443 315h1v1h-1zM505 315h3v1h-3zM918 315h1v1h-1zM1008 315h2v1h-2zM1030 315h2v1h-2zM1052 315h1v1h-1zM1086 315h1v1h-1zM444 316h2v1h-2zM502 316h3v1h-3zM919 316h1v1h-1zM1006 316h2v1h-2zM1032 316h1v1h-1zM1051 316h1v1h-1zM1087 316h1v1h-1zM446 317h3v1h-3zM500 317h2v1h-2zM920 317h1v1h-1zM1004 317h2v1h-2zM1033 317h1v1h-1zM1050 317h1v1h-1zM1088 317h1v1h-1zM449 318h4v1h-4zM461 318h4v1h-4zM497 318h3v1h-3zM921 318h1v1h-1zM1002 318h2v1h-2zM1034 318h1v1h-1zM1049 318h1v1h-1zM1089 318h1v1h-1zM453 319h8v1h-8zM465 319h4v1h-4zM493 319h4v1h-4zM921 319h1v1h-1zM1000 319h2v1h-2zM1035 319h2v1h-2zM1048 319h1v1h-1zM1089 319h1v1h-1zM469 320h24v1h-24zM922 320h1v1h-1zM999 320h1v1h-1zM1037 320h4v1h-4zM1045 320h3v1h-3zM1090 320h1v1h-1zM923 321h1v1h-1zM998 321h1v1h-1zM1041 321h4v1h-4zM1091 321h1v1h-1zM924 322h1v1h-1zM997 322h1v1h-1zM1092 322h1v1h-1zM924 323h1v1h-1zM997 323h1v1h-1zM1093 323h1v1h-1zM925 324h1v1h-1zM996 324h1v1h-1zM1093 324h1v1h-1zM925 325h1v1h-1zM995 325h1v1h-1zM1094 325h1v1h-1zM926 326h1v1h-1zM994 326h1v1h-1zM1095 326h1v1h-1zM926 327h1v1h-1zM994 327h1v1h-1zM1096 327h1v1h-1zM927 328h1v1h-1zM993 328h1v1h-1zM1097 328h1v1h-1zM928 329h1v1h-1zM992 329h1v1h-1zM1097 329h1v1h-1zM928 330h1v1h-1zM992 330h1v1h-1zM1098 330h1v1h-1zM929 331h1v1h-1zM991 331h1v1h-1zM1099 331h1v1h-1zM930 332h1v1h-1zM990 332h1v1h-1zM1100 332h1v1h-1zM930 333h1v1h-1zM990 333h1v1h-1zM1100 333h1v1h-1zM931 334h1v1h-1zM989 334h1v1h-1zM1101 334h1v1h-1zM932 335h1v1h-1zM988 335h1v1h-1zM1101 335h1v1h-1zM933 336h1v1h-1zM988 336h1v1h-1zM1102 336h1v1h-1zM934 337h1v1h-1zM987 337h1v1h-1zM1102 337h1v1h-1zM935 338h1v1h-1zM986 338h1v1h-1zM1103 338h1v1h-1zM936 339h1v1h-1zM985 339h1v1h-1zM1104 339h1v1h-1zM937 340h1v1h-1zM984 340h1v1h-1zM1104 340h1v1h-1zM938 341h1v1h-1zM983 341h1v1h-1zM1105 341h1v1h-1zM939 342h1v1h-1zM982 342h1v1h-1zM1105 342h1v1h-1zM940 343h1v1h-1zM981 343h1v1h-1zM1106 343h1v1h-1zM941 344h1v1h-1zM981 344h1v1h-1zM1106 344h1v1h-1zM941 345h1v1h-1zM980 345h1v1h-1zM1107 345h1v1h-1zM942 346h1v1h-1zM978 346h2v1h-2zM1107 346h1v1h-1zM943 347h1v1h-1zM976 347h2v1h-2zM1108 347h1v1h-1zM944 348h1v1h-1zM975 348h1v1h-1zM1108 348h1v1h-1zM945 349h1v1h-1zM973 349h2v1h-2zM1109 349h1v1h-1zM946 350h1v1h-1zM972 350h1v1h-1zM1109 350h1v1h-1zM947 351h1v1h-1zM971 351h1v1h-1zM1110 351h1v1h-1zM948 352h1v1h-1zM969 352h2v1h-2zM1110 352h1v1h-1zM949 353h1v1h-1zM968 353h1v1h-1zM1111 353h1v1h-1zM950 354h1v1h-1zM966 354h2v1h-2zM1111 354h1v1h-1zM951 355h2v1h-2zM964 355h2v1h-2zM1112 355h1v1h-1zM953 356h11v1h-11zM1112 356h1v1h-1zM1113 357h1v1h-1zM1113 358h1v1h-1zM1114 359h1v1h-1zM1114 360h1v1h-1zM1115 361h1v1h-1zM1116 362h1v1h-1zM1116 363h1v1h-1zM1117 364h1v1h-1zM1117 365h1v1h-1zM1118 366h1v1h-1zM1118 367h1v1h-1zM1119 368h1v1h-1zM1120 369h1v1h-1zM1121 370h1v1h-1zM1122 371h1v1h-1zM1123 372h1v1h-1zM1124 373h1v1h-1zM1125 374h2v1h-2zM1127 375h1v1h-1zM1128 376h1v1h-1zM1129 377h1v1h-1zM1161 377h7v1h-7zM1130 378h1v1h-1zM1157 378h4v1h-4zM1168 378h2v1h-2zM1131 379h1v1h-1zM1155 379h2v1h-2zM1170 379h3v1h-3zM1132 380h1v1h-1zM1153 380h2v1h-2zM1173 380h3v1h-3zM1133 381h1v1h-1zM1152 381h1v1h-1zM1176 381h2v1h-2zM1133 382h1v1h-1zM1150 382h2v1h-2zM1178 382h2v1h-2zM1134 383h1v1h-1zM1148 383h2v1h-2zM1180 383h2v1h-2zM1135 384h1v1h-1zM1146 384h2v1h-2zM1182 384h2v1h-2zM1136 385h2v1h-2zM1144 385h2v1h-2zM1184 385h1v1h-1zM1138 386h6v1h-6zM1185 386h2v1h-2zM1187 387h1v1h-1zM1188 388h1v1h-1zM1205 388h3v1h-3zM1189 389h2v1h-2zM1201 389h4v1h-4zM1191 390h2v1h-2zM1197 390h4v1h-4zM1193 391h4v1h-4z" fill="#0000CD"/>
<path d="M139 138h5v1h-5zM138 139h1v1h-1zM144 139h1v1h-1zM137 140h1v1h-1zM145 140h2v1h-2zM136 141h1v1h-1zM147 141h1v1h-1zM133 142h3v1h-3zM148 142h1v1h-1zM131 143h2v1h-2zM149 143h1v1h-1zM130 144h1v1h-1zM149 144h1v1h-1zM129 145h1v1h-1zM150 145h1v1h-1zM128 146h1v1h-1zM151 146h1v1h-1zM127 147h1v1h-1zM152 147h1v1h-1zM126 148h1v1h-1zM152 148h1v1h-1zM125 149h1v1h-1zM153 149h1v1h-1zM124 150h1v1h-1zM154 150h1v1h-1zM123 151h1v1h-1zM154 151h1v1h-1zM122 152h1v1h-1zM155 152h1v1h-1zM121 153h1v1h-1zM156 153h1v1h-1zM120 154h1v1h-1zM157 154h1v1h-1zM118 155h2v1h-2zM157 155h1v1h-1zM116 156h2v1h-2zM158 156h1v1h-1zM115 157h1v1h-1zM159 157h1v1h-1zM113 158h2v1h-2zM160 158h1v1h-1zM112 159h1v1h-1zM161 159h1v1h-1zM111 160h1v1h-1zM161 160h1v1h-1zM109 161h2v1h-2zM162 161h1v1h-1zM108 162h1v1h-1zM163 162h1v1h-1zM105 163h3v1h-3zM164 163h1v1h-1zM103 164h2v1h-2zM165 164h1v1h-1zM101 165h2v1h-2zM165 165h1v1h-1zM100 166h1v1h-1zM166 166h1v1h-1zM99 167h1v1h-1zM167 167h1v1h-1zM97 168h2v1h-2zM168 168h1v1h-1zM96 169h1v1h-1zM169 169h1v1h-1zM95 170h1v1h-1zM170 170h1v1h-1zM93 171h2v1h-2zM171 171h1v1h-1zM92 172h1v1h-1zM172 172h1v1h-1zM90 173h2v1h-2zM173 173h1v1h-1zM88 174h2v1h-2zM174 174h1v1h-1zM85 175h3v1h-3zM175 175h1v1h-1zM79 176h6v1h-6zM176 176h1v1h-1zM78 177h1v1h-1zM176 177h1v1h-1zM77 178h1v1h-1zM177 178h1v1h-1zM76 179h1v1h-1zM177 179h1v1h-1zM74 180h2v1h-2zM178 180h1v1h-1zM72 181h2v1h-2zM178 181h1v1h-1zM71 182h1v1h-1zM179 182h1v1h-1zM69 183h2v1h-2zM180 183h1v1h-1zM68 184h1v1h-1zM181 184h2v1h-2zM67 185h1v1h-1zM183 185h1v1h-1zM66 186h1v1h-1zM184 186h1v1h-1zM65 187h1v1h-1zM185 187h2v1h-2zM64 188h1v1h-1zM187 188h1v1h-1zM63 189h1v1h-1zM188 189h2v1h-2zM62 190h1v1h-1zM190 190h2v1h-2zM61 191h1v1h-1zM192 191h2v1h-2zM61 192h1v1h-1zM194 192h6v1h-6zM60 193h1v1h-1zM200 193h1v1h-1zM59 194h1v1h-1zM201 194h2v1h-2zM58 195h1v1h-1zM203 195h1v1h-1zM57 196h1v1h-1zM204 196h2v1h-2zM56 197h1v1h-1zM206 197h2v1h-2zM55 198h1v1h-1zM208 198h1v1h-1zM54 199h1v1h-1zM209 199h2v1h-2zM53 200h1v1h-1zM211 200h1v1h-1zM53 201h1v1h-1zM212 201h1v1h-1zM52 202h1v1h-1zM213 202h1v1h-1zM51 203h1v1h-1zM213 203h1v1h-1zM50 204h1v1h-1zM214 204h1v1h-1zM50 205h1v1h-1zM215 205h1v1h-1zM49 206h1v1h-1zM216 206h1v1h-1zM49 207h1v1h-1zM217 207h1v1h-1zM48 208h1v1h-1zM217 208h1v1h-1zM48 209h1v1h-1zM218 209h1v1h-1zM47 210h1v1h-1zM219 210h1v1h-1zM46 211h1v1h-1zM220 211h1v1h-1zM46 212h1v1h-1zM221 212h1v1h-1zM45 213h1v1h-1zM221 213h1v1h-1zM44 214h1v1h-1zM222 214h1v1h-1zM3 215h1v1h-1zM44 215h1v1h-1zM223 215h1v1h-1zM1015 215h1v1h-1zM4 216h2v1h-2zM43 216h1v1h-1zM224 216h1v1h-1zM1014 216h1v1h-1zM1016 216h2v1h-2zM6 217h2v1h-2zM42 217h1v1h-1zM225 217h1v1h-1zM1014 217h1v1h-1zM1018 217h2v1h-2zM8 218h2v1h-2zM41 218h1v1h-1zM225 218h1v1h-1zM1013 218h1v1h-1zM1019 218h1v1h-1zM10 219h2v1h-2zM41 219h1v1h-1zM226 219h1v1h-1zM1012 219h1v1h-1zM1020 219h1v1h-1zM12 220h1v1h-1zM40 220h1v1h-1zM227 220h1v1h-1zM1012 220h1v1h-1zM1020 220h1v1h-1zM13 221h1v1h-1zM39 221h1v1h-1zM228 221h1v1h-1zM1011 221h1v1h-1zM1020 221h1v1h-1zM14 222h1v1h-1zM37 222h2v1h-2zM229 222h1v1h-1zM1009 222h2v1h-2zM1021 222h1v1h-1zM15 223h1v1h-1zM36 223h1v1h-1zM229 223h1v1h-1zM1008 223h1v1h-1zM1021 223h1v1h-1zM16 224h1v1h-1zM35 224h1v1h-1zM230 224h1v1h-1zM1007 224h1v1h-1zM1021 224h1v1h-1zM17 225h2v1h-2zM33 225h2v1h-2zM231 225h1v1h-1zM1007 225h1v1h-1zM1022 225h1v1h-1zM19 226h1v1h-1zM32 226h1v1h-1zM232 226h1v1h-1zM1006 226h1v1h-1zM1022 226h1v1h-1zM20 227h2v1h-2zM29 227h3v1h-3zM232 227h1v1h-1zM1006 227h1v1h-1zM1022 227h1v1h-1zM22 228h7v1h-7zM233 228h1v1h-1zM274 228h7v1h-7zM1005 228h1v1h-1zM1023 228h1v1h-1zM234 229h1v1h-1zM272 229h2v1h-2zM281 229h3v1h-3zM290 229h3v1h-3zM1005 229h1v1h-1zM1023 229h1v1h-1zM234 230h1v1h-1zM271 230h1v1h-1zM284 230h2v1h-2zM288 230h2v1h-2zM293 230h4v1h-4zM790 230h7v1h-7zM1004 230h1v1h-1zM1023 230h1v1h-1zM235 231h1v1h-1zM269 231h2v1h-2zM286 231h2v1h-2zM297 231h3v1h-3zM788 231h2v1h-2zM797 231h3v1h-3zM1004 231h1v1h-1zM1023 231h1v1h-1zM236 232h1v1h-1zM268 232h1v1h-1zM300 232h1v1h-1zM781 232h7v1h-7zM800 232h2v1h-2zM1003 232h1v1h-1zM1024 232h1v1h-1zM237 233h1v1h-1zM266 233h2v1h-2zM301 233h1v1h-1zM779 233h2v1h-2zM802 233h2v1h-2zM1003 233h1v1h-1zM1024 233h1v1h-1zM238 234h1v1h-1zM264 234h2v1h-2zM302 234h1v1h-1zM777 234h2v1h-2zM804 234h2v1h-2zM1002 234h1v1h-1zM1024 234h1v1h-1zM239 235h1v1h-1zM263 235h1v1h-1zM303 235h1v1h-1zM776 235h1v1h-1zM806 235h2v1h-2zM1002 235h1v1h-1zM1024 235h1v1h-1zM240 236h1v1h-1zM261 236h2v1h-2zM304 236h1v1h-1zM775 236h1v1h-1zM808 236h1v1h-1zM1001 236h1v1h-1zM1025 236h1v1h-1zM241 237h1v1h-1zM260 237h1v1h-1zM305 237h1v1h-1zM774 237h1v1h-1zM809 237h2v1h-2zM1001 237h1v1h-1zM1025 237h1v1h-1zM241 238h1v1h-1zM258 238h2v1h-2zM306 238h1v1h-1zM773 238h1v1h-1zM811 238h1v1h-1zM1000 238h1v1h-1zM1025 238h1v1h-1zM242 239h1v1h-1zM256 239h2v1h-2zM307 239h1v1h-1zM772 239h1v1h-1zM812 239h1v1h-1zM1000 239h1v1h-1zM1025 239h1v1h-1zM243 240h2v1h-2zM253 240h3v1h-3zM308 240h1v1h-1zM770 240h2v1h-2zM813 240h1v1h-1zM999 240h1v1h-1zM1025 240h1v1h-1zM245 241h8v1h-8zM309 241h1v1h-1zM768 241h2v1h-2zM813 241h1v1h-1zM999 241h1v1h-1zM1026 241h1v1h-1zM310 242h1v1h-1zM766 242h2v1h-2zM814 242h1v1h-1zM999 242h1v1h-1zM1026 242h1v1h-1zM311 243h1v1h-1zM764 243h2v1h-2zM815 243h1v1h-1zM998 243h1v1h-1zM1026 243h1v1h-1zM312 244h1v1h-1zM761 244h3v1h-3zM816 244h1v1h-1zM998 244h1v1h-1zM1026 244h1v1h-1zM313 245h2v1h-2zM759 245h2v1h-2zM817 245h1v1h-1zM998 245h1v1h-1zM1027 245h1v1h-1zM315 246h1v1h-1zM757 246h2v1h-2zM818 246h1v1h-1zM998 246h1v1h-1zM1027 246h1v1h-1zM316 247h1v1h-1zM756 247h1v1h-1zM819 247h1v1h-1zM997 247h1v1h-1zM1027 247h1v1h-1zM317 248h1v1h-1zM755 248h1v1h-1zM820 248h1v1h-1zM997 248h1v1h-1zM1027 248h1v1h-1zM318 249h1v1h-1zM754 249h1v1h-1zM821 249h1v1h-1zM997 249h1v1h-1zM1027 249h1v1h-1zM319 250h1v1h-1zM553 250h7v1h-7zM753 250h1v1h-1zM822 250h1v1h-1zM997 250h1v1h-1zM1028 250h1v1h-1zM320 251h1v1h-1zM551 251h2v1h-2zM560 251h1v1h-1zM753 251h1v1h-1zM823 251h1v1h-1zM996 251h1v1h-1zM1028 251h1v1h-1zM321 252h1v1h-1zM550 252h1v1h-1zM561 252h2v1h-2zM752 252h1v1h-1zM824 252h2v1h-2zM996 252h1v1h-1zM1028 252h1v1h-1zM322 253h1v1h-1zM549 253h1v1h-1zM563 253h1v1h-1zM750 253h2v1h-2zM826 253h2v1h-2zM996 253h1v1h-1zM1028 253h1v1h-1zM323 254h1v1h-1zM548 254h1v1h-1zM564 254h1v1h-1zM748 254h2v1h-2zM828 254h1v1h-1zM996 254h1v1h-1zM1029 254h1v1h-1zM324 255h1v1h-1zM547 255h1v1h-1zM565 255h2v1h-2zM747 255h1v1h-1zM829 255h1v1h-1zM995 255h1v1h-1zM1029 255h1v1h-1zM325 256h1v1h-1zM546 256h1v1h-1zM567 256h1v1h-1zM745 256h2v1h-2zM829 256h1v1h-1zM995 256h1v1h-1zM1029 256h1v1h-1zM325 257h1v1h-1zM545 257h1v1h-1zM568 257h1v1h-1zM744 257h1v1h-1zM830 257h1v1h-1zM995 257h1v1h-1zM1029 257h1v1h-1zM326 258h1v1h-1zM544 258h1v1h-1zM569 258h1v1h-1zM743 258h1v1h-1zM831 258h1v1h-1zM995 258h1v1h-1zM1029 258h1v1h-1zM327 259h1v1h-1zM543 259h1v1h-1zM570 259h1v1h-1zM741 259h2v1h-2zM832 259h1v1h-1zM995 259h1v1h-1zM1030 259h1v1h-1zM328 260h1v1h-1zM542 260h1v1h-1zM571 260h1v1h-1zM740 260h1v1h-1zM833 260h2v1h-2zM994 260h1v1h-1zM1030 260h1v1h-1zM329 261h1v1h-1zM541 261h1v1h-1zM572 261h1v1h-1zM733 261h7v1h-7zM835 261h1v1h-1zM994 261h1v1h-1zM1030 261h1v1h-1zM329 262h1v1h-1zM540 262h1v1h-1zM573 262h2v1h-2zM729 262h4v1h-4zM836 262h1v1h-1zM994 262h1v1h-1zM1030 262h1v1h-1zM330 263h1v1h-1zM539 263h1v1h-1zM575 263h1v1h-1zM726 263h3v1h-3zM837 263h1v1h-1zM994 263h1v1h-1zM1031 263h1v1h-1zM331 264h1v1h-1zM537 264h2v1h-2zM576 264h1v1h-1zM713 264h8v1h-8zM724 264h2v1h-2zM838 264h1v1h-1zM994 264h1v1h-1zM1031 264h1v1h-1zM332 265h1v1h-1zM536 265h1v1h-1zM577 265h2v1h-2zM710 265h3v1h-3zM721 265h3v1h-3zM839 265h1v1h-1zM993 265h1v1h-1zM1031 265h1v1h-1zM332 266h1v1h-1zM534 266h2v1h-2zM579 266h1v1h-1zM708 266h2v1h-2zM840 266h1v1h-1zM993 266h1v1h-1zM1031 266h1v1h-1zM333 267h1v1h-1zM532 267h2v1h-2zM580 267h2v1h-2zM707 267h1v1h-1zM841 267h2v1h-2zM993 267h1v1h-1zM1031 267h1v1h-1zM334 268h1v1h-1zM530 268h2v1h-2zM582 268h2v1h-2zM706 268h1v1h-1zM843 268h1v1h-1zM993 268h1v1h-1zM1032 268h1v1h-1zM334 269h1v1h-1zM528 269h2v1h-2zM584 269h1v1h-1zM706 269h1v1h-1zM844 269h1v1h-1zM992 269h1v1h-1zM1032 269h1v1h-1zM335 270h1v1h-1zM527 270h1v1h-1zM585 270h2v1h-2zM705 270h1v1h-1zM845 270h1v1h-1zM992 270h1v1h-1zM1032 270h1v1h-1zM336 271h1v1h-1zM526 271h1v1h-1zM587 271h1v1h-1zM704 271h1v1h-1zM846 271h1v1h-1zM992 271h1v1h-1zM1032 271h1v1h-1zM337 272h1v1h-1zM525 272h1v1h-1zM588 272h1v1h-1zM704 272h1v1h-1zM847 272h1v1h-1zM992 272h1v1h-1zM1032 272h1v1h-1zM337 273h1v1h-1zM524 273h1v1h-1zM589 273h2v1h-2zM703 273h1v1h-1zM848 273h1v1h-1zM992 273h1v1h-1zM1033 273h1v1h-1zM338 274h1v1h-1zM523 274h1v1h-1zM591 274h1v1h-1zM702 274h1v1h-1zM849 274h1v1h-1zM991 274h1v1h-1zM1033 274h1v1h-1zM339 275h1v1h-1zM522 275h1v1h-1zM592 275h1v1h-1zM701 275h1v1h-1zM849 275h1v1h-1zM991 275h1v1h-1zM1033 275h1v1h-1zM340 276h1v1h-1zM522 276h1v1h-1zM593 276h1v1h-1zM700 276h1v1h-1zM850 276h1v1h-1zM991 276h1v1h-1zM1033 276h1v1h-1zM341 277h1v1h-1zM521 277h1v1h-1zM594 277h1v1h-1zM699 277h1v1h-1zM851 277h1v1h-1zM991 277h1v1h-1zM1033 277h1v1h-1zM341 278h1v1h-1zM520 278h1v1h-1zM595 278h1v1h-1zM698 278h1v1h-1zM852 278h1v1h-1zM991 278h1v1h-1zM1033 278h1v1h-1zM342 279h1v1h-1zM520 279h1v1h-1zM596 279h1v1h-1zM697 279h1v1h-1zM853 279h1v1h-1zM990 279h1v1h-1zM1034 279h1v1h-1zM343 280h1v1h-1zM519 280h1v1h-1zM597 280h2v1h-2zM696 280h1v1h-1zM853 280h1v1h-1zM990 280h1v1h-1zM1034 280h1v1h-1zM344 281h1v1h-1zM518 281h1v1h-1zM599 281h1v1h-1zM695 281h1v1h-1zM854 281h1v1h-1zM990 281h1v1h-1zM1034 281h1v1h-1zM345 282h1v1h-1zM517 282h1v1h-1zM600 282h1v1h-1zM694 282h1v1h-1zM855 282h1v1h-1zM990 282h1v1h-1zM1034 282h1v1h-1zM345 283h1v1h-1zM517 283h1v1h-1zM601 283h1v1h-1zM694 283h1v1h-1zM856 283h1v1h-1zM990 283h1v1h-1zM1034 283h1v1h-1zM346 284h1v1h-1zM516 284h1v1h-1zM602 284h1v1h-1zM693 284h1v1h-1zM857 284h2v1h-2zM990 284h1v1h-1zM1035 284h1v1h-1zM347 285h1v1h-1zM515 285h1v1h-1zM603 285h1v1h-1zM692 285h1v1h-1zM859 285h1v1h-1zM989 285h1v1h-1zM1035 285h1v1h-1zM348 286h1v1h-1zM514 286h1v1h-1zM604 286h1v1h-1zM692 286h1v1h-1zM860 286h1v1h-1zM989 286h1v1h-1zM1035 286h1v1h-1zM349 287h2v1h-2zM514 287h1v1h-1zM605 287h1v1h-1zM691 287h1v1h-1zM861 287h2v1h-2zM989 287h1v1h-1zM1035 287h1v1h-1zM351 288h1v1h-1zM513 288h1v1h-1zM606 288h1v1h-1zM690 288h1v1h-1zM863 288h1v1h-1zM989 288h1v1h-1zM1035 288h1v1h-1zM352 289h2v1h-2zM512 289h1v1h-1zM607 289h1v1h-1zM689 289h1v1h-1zM864 289h2v1h-2zM989 289h1v1h-1zM1036 289h1v1h-1zM354 290h2v1h-2zM512 290h1v1h-1zM608 290h1v1h-1zM688 290h1v1h-1zM866 290h2v1h-2zM988 290h1v1h-1zM1036 290h1v1h-1zM356 291h2v1h-2zM511 291h1v1h-1zM609 291h2v1h-2zM687 291h1v1h-1zM868 291h2v1h-2zM988 291h1v1h-1zM1036 291h1v1h-1zM358 292h2v1h-2zM510 292h1v1h-1zM611 292h1v1h-1zM685 292h2v1h-2zM870 292h2v1h-2zM988 292h1v1h-1zM1036 292h1v1h-1zM360 293h2v1h-2zM510 293h1v1h-1zM612 293h1v1h-1zM684 293h1v1h-1zM872 293h2v1h-2zM988 293h1v1h-1zM1036 293h1v1h-1zM362 294h2v1h-2zM509 294h1v1h-1zM613 294h1v1h-1zM682 294h2v1h-2zM874 294h2v1h-2zM988 294h1v1h-1zM1037 294h1v1h-1zM364 295h1v1h-1zM509 295h1v1h-1zM614 295h1v1h-1zM617 295h3v1h-3zM680 295h2v1h-2zM876 295h1v1h-1zM988 295h1v1h-1zM1037 295h1v1h-1zM365 296h1v1h-1zM403 296h6v1h-6zM508 296h1v1h-1zM615 296h2v1h-2zM620 296h2v1h-2zM665 296h4v1h-4zM678 296h2v1h-2zM877 296h2v1h-2zM987 296h1v1h-1zM1037 296h1v1h-1zM366 297h1v1h-1zM401 297h2v1h-2zM409 297h3v1h-3zM508 297h1v1h-1zM622 297h3v1h-3zM657 297h8v1h-8zM669 297h4v1h-4zM676 297h2v1h-2zM879 297h1v1h-1zM987 297h1v1h-1zM1037 297h1v1h-1zM367 298h1v1h-1zM400 298h1v1h-1zM412 298h2v1h-2zM507 298h1v1h-1zM625 298h11v1h-11zM653 298h4v1h-4zM673 298h3v1h-3zM880 298h1v1h-1zM987 298h1v1h-1zM1037 298h1v1h-1zM368 299h1v1h-1zM399 299h1v1h-1zM414 299h3v1h-3zM506 299h1v1h-1zM636 299h2v1h-2zM645 299h8v1h-8zM881 299h1v1h-1zM987 299h1v1h-1zM1037 299h1v1h-1zM369 300h2v1h-2zM397 300h2v1h-2zM417 300h3v1h-3zM506 300h1v1h-1zM638 300h7v1h-7zM881 300h1v1h-1zM987 300h1v1h-1zM1038 300h1v1h-1zM371 301h1v1h-1zM396 301h1v1h-1zM420 301h1v1h-1zM505 301h1v1h-1zM882 301h1v1h-1zM986 301h1v1h-1zM1038 301h1v1h-1zM372 302h1v1h-1zM395 302h1v1h-1zM421 302h1v1h-1zM505 302h1v1h-1zM883 302h1v1h-1zM986 302h1v1h-1zM1038 302h1v1h-1zM373 303h1v1h-1zM394 303h1v1h-1zM421 303h1v1h-1zM504 303h1v1h-1zM884 303h1v1h-1zM986 303h1v1h-1zM1038 303h1v1h-1zM374 304h1v1h-1zM393 304h1v1h-1zM422 304h1v1h-1zM504 304h1v1h-1zM885 304h1v1h-1zM986 304h1v1h-1zM1038 304h1v1h-1zM375 305h2v1h-2zM392 305h1v1h-1zM423 305h1v1h-1zM503 305h1v1h-1zM885 305h1v1h-1zM986 305h1v1h-1zM1039 305h1v1h-1zM377 306h15v1h-15zM424 306h1v1h-1zM503 306h1v1h-1zM886 306h1v1h-1zM985 306h1v1h-1zM1039 306h1v1h-1zM425 307h2v1h-2zM502 307h1v1h-1zM887 307h1v1h-1zM985 307h1v1h-1zM1039 307h1v1h-1zM427 308h1v1h-1zM502 308h1v1h-1zM888 308h1v1h-1zM985 308h1v1h-1zM1039 308h1v1h-1zM428 309h1v1h-1zM501 309h1v1h-1zM889 309h1v1h-1zM985 309h1v1h-1zM1039 309h1v1h-1zM429 310h2v1h-2zM501 310h1v1h-1zM890 310h1v1h-1zM985 310h1v1h-1zM1040 310h1v1h-1zM431 311h1v1h-1zM500 311h1v1h-1zM891 311h1v1h-1zM984 311h1v1h-1zM1040 311h1v1h-1zM432 312h1v1h-1zM500 312h1v1h-1zM892 312h1v1h-1zM984 312h1v1h-1zM1040 312h1v1h-1zM433 313h1v1h-1zM499 313h1v1h-1zM893 313h1v1h-1zM984 313h1v1h-1zM1040 313h1v1h-1zM433 314h1v1h-1zM499 314h1v1h-1zM894 314h1v1h-1zM984 314h1v1h-1zM1040 314h1v1h-1zM434 315h1v1h-1zM498 315h1v1h-1zM895 315h1v1h-1zM984 315h1v1h-1zM1041 315h1v1h-1zM435 316h1v1h-1zM498 316h1v1h-1zM896 316h1v1h-1zM983 316h1v1h-1zM1041 316h1v1h-1zM436 317h1v1h-1zM497 317h1v1h-1zM897 317h1v1h-1zM983 317h1v1h-1zM1041 317h1v1h-1zM436 318h1v1h-1zM497 318h1v1h-1zM898 318h1v1h-1zM983 318h1v1h-1zM1041 318h1v1h-1zM437 319h1v1h-1zM496 319h1v1h-1zM899 319h1v1h-1zM983 319h1v1h-1zM1041 319h1v1h-1zM437 320h1v1h-1zM496 320h1v1h-1zM900 320h1v1h-1zM983 320h1v1h-1zM1041 320h1v1h-1zM438 321h1v1h-1zM495 321h1v1h-1zM901 321h1v1h-1zM982 321h1v1h-1zM1042 321h1v1h-1zM438 322h1v1h-1zM494 322h1v1h-1zM901 322h1v1h-1zM982 322h1v1h-1zM1042 322h1v1h-1zM439 323h1v1h-1zM494 323h1v1h-1zM902 323h1v1h-1zM982 323h1v1h-1zM1042 323h1v1h-1zM440 324h1v1h-1zM493 324h1v1h-1zM903 324h1v1h-1zM982 324h1v1h-1zM1042 324h1v1h-1zM441 325h1v1h-1zM492 325h1v1h-1zM904 325h1v1h-1zM982 325h1v1h-1zM1042 325h1v1h-1zM441 326h1v1h-1zM492 326h1v1h-1zM904 326h1v1h-1zM981 326h1v1h-1zM1043 326h1v1h-1zM442 327h1v1h-1zM491 327h1v1h-1zM905 327h1v1h-1zM981 327h1v1h-1zM1043 327h1v1h-1zM443 328h1v1h-1zM490 328h1v1h-1zM906 328h1v1h-1zM981 328h1v1h-1zM1043 328h1v1h-1zM444 329h2v1h-2zM489 329h1v1h-1zM906 329h1v1h-1zM981 329h1v1h-1zM1043 329h1v1h-1zM446 330h2v1h-2zM488 330h1v1h-1zM907 330h1v1h-1zM981 330h1v1h-1zM1043 330h1v1h-1zM448 331h1v1h-1zM487 331h1v1h-1zM908 331h1v1h-1zM980 331h1v1h-1zM1044 331h1v1h-1zM449 332h2v1h-2zM486 332h1v1h-1zM908 332h1v1h-1zM980 332h1v1h-1zM1044 332h1v1h-1zM451 333h1v1h-1zM485 333h1v1h-1zM909 333h1v1h-1zM980 333h1v1h-1zM1044 333h1v1h-1zM452 334h1v1h-1zM484 334h1v1h-1zM910 334h1v1h-1zM980 334h1v1h-1zM1044 334h1v1h-1zM453 335h2v1h-2zM483 335h1v1h-1zM910 335h1v1h-1zM980 335h1v1h-1zM1044 335h1v1h-1zM455 336h1v1h-1zM482 336h1v1h-1zM911 336h1v1h-1zM979 336h1v1h-1zM1044 336h1v1h-1zM456 337h1v1h-1zM481 337h1v1h-1zM912 337h1v1h-1zM979 337h1v1h-1zM1045 337h1v1h-1zM457 338h2v1h-2zM480 338h1v1h-1zM912 338h1v1h-1zM979 338h1v1h-1zM1045 338h1v1h-1zM459 339h2v1h-2zM479 339h1v1h-1zM913 339h1v1h-1zM979 339h1v1h-1zM1045 339h1v1h-1zM461 340h3v1h-3zM477 340h2v1h-2zM913 340h1v1h-1zM978 340h1v1h-1zM1045 340h1v1h-1zM464 341h2v1h-2zM476 341h1v1h-1zM914 341h1v1h-1zM978 341h1v1h-1zM1045 341h1v1h-1zM466 342h3v1h-3zM473 342h3v1h-3zM914 342h1v1h-1zM978 342h1v1h-1zM1045 342h1v1h-1zM469 343h4v1h-4zM915 343h1v1h-1zM978 343h1v1h-1zM1046 343h1v1h-1zM915 344h1v1h-1zM977 344h1v1h-1zM1046 344h1v1h-1zM916 345h1v1h-1zM977 345h1v1h-1zM1046 345h1v1h-1zM916 346h1v1h-1zM977 346h1v1h-1zM1046 346h1v1h-1zM917 347h1v1h-1zM976 347h1v1h-1zM1046 347h1v1h-1zM917 348h1v1h-1zM976 348h1v1h-1zM1046 348h1v1h-1zM917 349h1v1h-1zM976 349h1v1h-1zM1047 349h1v1h-1zM918 350h1v1h-1zM976 350h1v1h-1zM1047 350h1v1h-1zM918 351h1v1h-1zM975 351h1v1h-1zM1047 351h1v1h-1zM919 352h1v1h-1zM975 352h1v1h-1zM1047 352h1v1h-1zM919 353h1v1h-1zM975 353h1v1h-1zM1048 353h1v1h-1zM919 354h1v1h-1zM974 354h1v1h-1zM1048 354h1v1h-1zM920 355h1v1h-1zM974 355h1v1h-1zM1048 355h1v1h-1zM920 356h1v1h-1zM974 356h1v1h-1zM1049 356h1v1h-1zM1103 356h1v1h-1zM920 357h1v1h-1zM973 357h1v1h-1zM1049 357h1v1h-1zM1102 357h1v1h-1zM1104 357h1v1h-1zM921 358h1v1h-1zM973 358h1v1h-1zM1049 358h1v1h-1zM1101 358h1v1h-1zM1105 358h1v1h-1zM921 359h1v1h-1zM973 359h1v1h-1zM1050 359h1v1h-1zM1101 359h1v1h-1zM1106 359h1v1h-1zM922 360h1v1h-1zM972 360h1v1h-1zM1050 360h1v1h-1zM1100 360h1v1h-1zM1107 360h1v1h-1zM922 361h1v1h-1zM972 361h1v1h-1zM1050 361h1v1h-1zM1099 361h1v1h-1zM1108 361h1v1h-1zM922 362h1v1h-1zM972 362h1v1h-1zM1051 362h1v1h-1zM1098 362h1v1h-1zM1108 362h1v1h-1zM923 363h1v1h-1zM971 363h1v1h-1zM1051 363h1v1h-1zM1097 363h1v1h-1zM1109 363h1v1h-1zM923 364h1v1h-1zM971 364h1v1h-1zM1051 364h1v1h-1zM1097 364h1v1h-1zM1110 364h1v1h-1zM923 365h1v1h-1zM971 365h1v1h-1zM1052 365h1v1h-1zM1096 365h1v1h-1zM1110 365h1v1h-1zM924 366h1v1h-1zM970 366h1v1h-1zM1052 366h1v1h-1zM1095 366h1v1h-1zM1111 366h1v1h-1zM924 367h1v1h-1zM970 367h1v1h-1zM1053 367h1v1h-1zM1094 367h1v1h-1zM1112 367h1v1h-1zM925 368h1v1h-1zM970 368h1v1h-1zM1053 368h1v1h-1zM1093 368h1v1h-1zM1112 368h1v1h-1zM925 369h1v1h-1zM970 369h1v1h-1zM1054 369h1v1h-1zM1092 369h1v1h-1zM1113 369h1v1h-1zM925 370h1v1h-1zM969 370h1v1h-1zM1054 370h1v1h-1zM1058 370h2v1h-2zM1091 370h1v1h-1zM1114 370h1v1h-1zM926 371h1v1h-1zM969 371h1v1h-1zM1055 371h3v1h-3zM1060 371h2v1h-2zM1091 371h1v1h-1zM1114 371h1v1h-1zM926 372h1v1h-1zM969 372h1v1h-1zM1055 372h1v1h-1zM1062 372h2v1h-2zM1090 372h1v1h-1zM1115 372h1v1h-1zM927 373h1v1h-1zM968 373h1v1h-1zM1064 373h2v1h-2zM1090 373h1v1h-1zM1116 373h1v1h-1zM927 374h1v1h-1zM968 374h1v1h-1zM1066 374h2v1h-2zM1089 374h1v1h-1zM1117 374h1v1h-1zM927 375h1v1h-1zM968 375h1v1h-1zM1068 375h1v1h-1zM1089 375h1v1h-1zM1118 375h1v1h-1zM928 376h1v1h-1zM968 376h1v1h-1zM1068 376h1v1h-1zM1088 376h1v1h-1zM1119 376h1v1h-1zM928 377h1v1h-1zM967 377h1v1h-1zM1069 377h1v1h-1zM1088 377h1v1h-1zM1120 377h1v1h-1zM929 378h1v1h-1zM967 378h1v1h-1zM1069 378h1v1h-1zM1087 378h1v1h-1zM1120 378h1v1h-1zM929 379h1v1h-1zM967 379h1v1h-1zM1070 379h1v1h-1zM1087 379h1v1h-1zM1121 379h1v1h-1zM1141 379h3v1h-3zM930 380h1v1h-1zM966 380h1v1h-1zM1070 380h1v1h-1zM1086 380h1v1h-1zM1121 380h1v1h-1zM1137 380h4v1h-4zM1144 380h1v1h-1zM930 381h1v1h-1zM966 381h1v1h-1zM1071 381h1v1h-1zM1085 381h1v1h-1zM1122 381h1v1h-1zM1135 381h2v1h-2zM1145 381h2v1h-2zM931 382h1v1h-1zM966 382h1v1h-1zM1071 382h1v1h-1zM1085 382h1v1h-1zM1122 382h1v1h-1zM1133 382h2v1h-2zM1147 382h1v1h-1zM931 383h1v1h-1zM965 383h1v1h-1zM1072 383h1v1h-1zM1084 383h1v1h-1zM1123 383h1v1h-1zM1132 383h1v1h-1zM1148 383h2v1h-2zM932 384h1v1h-1zM965 384h1v1h-1zM1073 384h1v1h-1zM1083 384h1v1h-1zM1124 384h2v1h-2zM1129 384h3v1h-3zM1150 384h2v1h-2zM932 385h1v1h-1zM964 385h1v1h-1zM1073 385h1v1h-1zM1082 385h1v1h-1zM1126 385h3v1h-3zM1152 385h1v1h-1zM933 386h1v1h-1zM964 386h1v1h-1zM1074 386h1v1h-1zM1081 386h1v1h-1zM1153 386h1v1h-1zM934 387h1v1h-1zM964 387h1v1h-1zM1075 387h2v1h-2zM1080 387h1v1h-1zM1153 387h1v1h-1zM934 388h1v1h-1zM963 388h1v1h-1zM1077 388h3v1h-3zM1154 388h1v1h-1zM935 389h1v1h-1zM963 389h1v1h-1zM1155 389h1v1h-1zM936 390h1v1h-1zM962 390h1v1h-1zM1156 390h1v1h-1zM937 391h1v1h-1zM962 391h1v1h-1zM1157 391h1v1h-1zM1181 391h4v1h-4zM938 392h1v1h-1zM961 392h1v1h-1zM1157 392h1v1h-1zM1179 392h2v1h-2zM1185 392h3v1h-3zM1206 392h2v1h-2zM939 393h1v1h-1zM961 393h1v1h-1zM1158 393h1v1h-1zM1178 393h1v1h-1zM1188 393h1v1h-1zM1204 393h2v1h-2zM940 394h1v1h-1zM960 394h1v1h-1zM1159 394h1v1h-1zM1178 394h1v1h-1zM1189 394h2v1h-2zM1201 394h3v1h-3zM941 395h1v1h-1zM960 395h1v1h-1zM1160 395h1v1h-1zM1177 395h1v1h-1zM1191 395h2v1h-2zM1197 395h4v1h-4zM942 396h1v1h-1zM959 396h1v1h-1zM1161 396h1v1h-1zM1176 396h1v1h-1zM1193 396h4v1h-4zM943 397h1v1h-1zM957 397h2v1h-2zM1162 397h1v1h-1zM1176 397h1v1h-1zM944 398h1v1h-1zM956 398h1v1h-1zM1163 398h1v1h-1zM1175 398h1v1h-1zM945 399h2v1h-2zM955 399h1v1h-1zM1164 399h2v1h-2zM1173 399h2v1h-2zM947 400h1v1h-1zM953 400h2v1h-2zM1166 400h3v1h-3zM1172 400h1v1h-1zM948 401h2v1h-2zM952 401h1v1h-1zM1169 401h3v1h-3zM950 402h2v1h-2z" fill="#FF0000"/>
<path d="M117 111h4v1h-4zM115 112h2v1h-2zM121 112h3v1h-3zM114 113h1v1h-1zM123 113h1v1h-1zM113 114h1v1h-1zM124 114h1v1h-1zM112 115h1v1h-1zM124 115h1v1h-1zM111 116h1v1h-1zM125 116h1v1h-1zM111 117h1v1h-1zM125 117h1v1h-1zM110 118h1v1h-1zM126 118h1v1h-1zM110 119h1v1h-1zM126 119h1v1h-1zM110 120h1v1h-1zM127 120h1v1h-1zM109 121h1v1h-1zM127 121h1v1h-1zM109 122h1v1h-1zM127 122h1v1h-1zM109 123h1v1h-1zM128 123h1v1h-1zM108 124h1v1h-1zM128 124h1v1h-1zM108 125h1v1h-1zM129 125h1v1h-1zM108 126h1v1h-1zM129 126h1v1h-1zM107 127h1v1h-1zM129 127h1v1h-1zM107 128h1v1h-1zM130 128h1v1h-1zM107 129h1v1h-1zM130 129h1v1h-1zM107 130h1v1h-1zM131 130h1v1h-1zM106 131h1v1h-1zM131 131h1v1h-1zM106 132h1v1h-1zM131 132h1v1h-1zM106 133h1v1h-1zM132 133h1v1h-1zM106 134h1v1h-1zM132 134h1v1h-1zM105 135h1v1h-1zM132 135h1v1h-1zM105 136h1v1h-1zM133 136h1v1h-1zM105 137h1v1h-1zM133 137h1v1h-1zM999 137h1v1h-1zM105 138h1v1h-1zM134 138h1v1h-1zM999 138h1v1h-1zM105 139h1v1h-1zM134 139h1v1h-1zM998 139h2v1h-2zM104 140h1v1h-1zM134 140h1v1h-1zM998 140h2v1h-2zM104 141h1v1h-1zM135 141h1v1h-1zM998 141h1v1h-1zM1000 141h1v1h-1zM104 142h1v1h-1zM135 142h1v1h-1zM997 142h1v1h-1zM1000 142h1v1h-1zM104 143h1v1h-1zM135 143h1v1h-1zM997 143h1v1h-1zM1000 143h1v1h-1zM103 144h1v1h-1zM136 144h1v1h-1zM996 144h1v1h-1zM1000 144h1v1h-1zM103 145h1v1h-1zM136 145h1v1h-1zM996 145h1v1h-1zM1000 145h1v1h-1zM61 146h3v1h-3zM103 146h1v1h-1zM137 146h1v1h-1zM996 146h1v1h-1zM1000 146h1v1h-1zM59 147h2v1h-2zM64 147h1v1h-1zM103 147h1v1h-1zM137 147h1v1h-1zM995 147h1v1h-1zM1001 147h1v1h-1zM59 148h1v1h-1zM65 148h1v1h-1zM103 148h1v1h-1zM137 148h1v1h-1zM995 148h1v1h-1zM1001 148h1v1h-1zM58 149h1v1h-1zM65 149h1v1h-1zM102 149h1v1h-1zM138 149h1v1h-1zM995 149h1v1h-1zM1001 149h1v1h-1zM58 150h1v1h-1zM66 150h1v1h-1zM102 150h1v1h-1zM138 150h1v1h-1zM995 150h1v1h-1zM1001 150h1v1h-1zM57 151h1v1h-1zM67 151h1v1h-1zM102 151h1v1h-1zM139 151h1v1h-1zM994 151h1v1h-1zM1001 151h1v1h-1zM57 152h1v1h-1zM67 152h1v1h-1zM102 152h1v1h-1zM139 152h1v1h-1zM994 152h1v1h-1zM1001 152h1v1h-1zM56 153h1v1h-1zM68 153h1v1h-1zM102 153h1v1h-1zM139 153h1v1h-1zM994 153h1v1h-1zM1002 153h1v1h-1zM56 154h1v1h-1zM68 154h1v1h-1zM102 154h1v1h-1zM139 154h1v1h-1zM994 154h1v1h-1zM1002 154h1v1h-1zM55 155h1v1h-1zM68 155h1v1h-1zM101 155h1v1h-1zM140 155h1v1h-1zM994 155h1v1h-1zM1002 155h1v1h-1zM54 156h1v1h-1zM68 156h1v1h-1zM101 156h1v1h-1zM140 156h1v1h-1zM994 156h1v1h-1zM1002 156h1v1h-1zM54 157h1v1h-1zM69 157h1v1h-1zM101 157h1v1h-1zM140 157h1v1h-1zM993 157h1v1h-1zM1002 157h1v1h-1zM53 158h1v1h-1zM69 158h1v1h-1zM101 158h1v1h-1zM140 158h1v1h-1zM993 158h1v1h-1zM1002 158h1v1h-1zM53 159h1v1h-1zM69 159h1v1h-1zM101 159h1v1h-1zM141 159h1v1h-1zM993 159h1v1h-1zM1003 159h1v1h-1zM52 160h1v1h-1zM70 160h1v1h-1zM100 160h1v1h-1zM141 160h1v1h-1zM993 160h1v1h-1zM1003 160h1v1h-1zM52 161h1v1h-1zM70 161h1v1h-1zM100 161h1v1h-1zM141 161h1v1h-1zM993 161h1v1h-1zM1003 161h1v1h-1zM51 162h1v1h-1zM70 162h1v1h-1zM100 162h1v1h-1zM141 162h1v1h-1zM992 162h1v1h-1zM1003 162h1v1h-1zM51 163h1v1h-1zM70 163h1v1h-1zM100 163h1v1h-1zM141 163h1v1h-1zM992 163h1v1h-1zM1003 163h1v1h-1zM50 164h1v1h-1zM71 164h1v1h-1zM100 164h1v1h-1zM142 164h1v1h-1zM992 164h1v1h-1zM1003 164h1v1h-1zM50 165h1v1h-1zM71 165h1v1h-1zM100 165h1v1h-1zM142 165h1v1h-1zM992 165h1v1h-1zM1003 165h1v1h-1zM50 166h1v1h-1zM71 166h1v1h-1zM99 166h1v1h-1zM142 166h1v1h-1zM992 166h1v1h-1zM1004 166h1v1h-1zM50 167h1v1h-1zM72 167h1v1h-1zM99 167h1v1h-1zM142 167h1v1h-1zM992 167h1v1h-1zM1004 167h1v1h-1zM49 168h1v1h-1zM72 168h1v1h-1zM99 168h1v1h-1zM143 168h1v1h-1zM991 168h1v1h-1zM1004 168h1v1h-1zM49 169h1v1h-1zM72 169h1v1h-1zM99 169h1v1h-1zM143 169h1v1h-1zM991 169h1v1h-1zM1004 169h1v1h-1zM49 170h1v1h-1zM73 170h1v1h-1zM98 170h1v1h-1zM143 170h1v1h-1zM991 170h1v1h-1zM1004 170h1v1h-1zM49 171h1v1h-1zM73 171h1v1h-1zM98 171h1v1h-1zM143 171h1v1h-1zM991 171h1v1h-1zM1004 171h1v1h-1zM48 172h1v1h-1zM74 172h1v1h-1zM98 172h1v1h-1zM144 172h1v1h-1zM991 172h1v1h-1zM1004 172h1v1h-1zM48 173h1v1h-1zM74 173h1v1h-1zM98 173h1v1h-1zM144 173h1v1h-1zM991 173h1v1h-1zM1005 173h1v1h-1zM48 174h1v1h-1zM74 174h1v1h-1zM97 174h1v1h-1zM145 174h1v1h-1zM990 174h1v1h-1zM1005 174h1v1h-1zM48 175h1v1h-1zM75 175h1v1h-1zM97 175h1v1h-1zM145 175h1v1h-1zM990 175h1v1h-1zM1005 175h1v1h-1zM47 176h1v1h-1zM75 176h1v1h-1zM97 176h1v1h-1zM146 176h1v1h-1zM990 176h1v1h-1zM1005 176h1v1h-1zM47 177h1v1h-1zM75 177h1v1h-1zM97 177h1v1h-1zM146 177h1v1h-1zM175 177h1v1h-1zM990 177h1v1h-1zM1005 177h1v1h-1zM47 178h1v1h-1zM76 178h1v1h-1zM96 178h1v1h-1zM147 178h1v1h-1zM174 178h1v1h-1zM176 178h1v1h-1zM990 178h1v1h-1zM1005 178h1v1h-1zM47 179h1v1h-1zM76 179h1v1h-1zM96 179h1v1h-1zM147 179h1v1h-1zM173 179h1v1h-1zM177 179h1v1h-1zM990 179h1v1h-1zM1005 179h1v1h-1zM46 180h1v1h-1zM77 180h1v1h-1zM96 180h1v1h-1zM147 180h1v1h-1zM173 180h1v1h-1zM177 180h1v1h-1zM989 180h1v1h-1zM1006 180h1v1h-1zM46 181h1v1h-1zM77 181h1v1h-1zM96 181h1v1h-1zM148 181h1v1h-1zM172 181h1v1h-1zM178 181h1v1h-1zM989 181h1v1h-1zM1006 181h1v1h-1zM46 182h1v1h-1zM78 182h1v1h-1zM95 182h1v1h-1zM148 182h1v1h-1zM171 182h1v1h-1zM179 182h1v1h-1zM989 182h1v1h-1zM1006 182h1v1h-1zM46 183h1v1h-1zM78 183h1v1h-1zM95 183h1v1h-1zM149 183h1v1h-1zM171 183h1v1h-1zM180 183h1v1h-1zM989 183h1v1h-1zM1006 183h1v1h-1zM45 184h1v1h-1zM79 184h1v1h-1zM95 184h1v1h-1zM149 184h1v1h-1zM170 184h1v1h-1zM181 184h2v1h-2zM989 184h1v1h-1zM1006 184h1v1h-1zM45 185h1v1h-1zM79 185h1v1h-1zM94 185h1v1h-1zM149 185h1v1h-1zM170 185h1v1h-1zM183 185h1v1h-1zM989 185h1v1h-1zM1006 185h1v1h-1zM45 186h1v1h-1zM79 186h1v1h-1zM94 186h1v1h-1zM150 186h1v1h-1zM169 186h1v1h-1zM184 186h1v1h-1zM989 186h1v1h-1zM1006 186h1v1h-1zM45 187h1v1h-1zM80 187h1v1h-1zM94 187h1v1h-1zM150 187h1v1h-1zM169 187h1v1h-1zM185 187h2v1h-2zM988 187h1v1h-1zM1007 187h1v1h-1zM44 188h1v1h-1zM80 188h1v1h-1zM93 188h1v1h-1zM151 188h1v1h-1zM168 188h1v1h-1zM187 188h1v1h-1zM988 188h1v1h-1zM1007 188h1v1h-1zM44 189h1v1h-1zM80 189h1v1h-1zM93 189h1v1h-1zM151 189h1v1h-1zM168 189h1v1h-1zM188 189h1v1h-1zM988 189h1v1h-1zM1007 189h1v1h-1zM44 190h1v1h-1zM81 190h1v1h-1zM93 190h1v1h-1zM152 190h1v1h-1zM167 190h1v1h-1zM188 190h1v1h-1zM988 190h1v1h-1zM1007 190h1v1h-1zM44 191h1v1h-1zM81 191h1v1h-1zM93 191h1v1h-1zM152 191h1v1h-1zM165 191h2v1h-2zM189 191h1v1h-1zM988 191h1v1h-1zM1007 191h1v1h-1zM43 192h1v1h-1zM81 192h1v1h-1zM92 192h1v1h-1zM153 192h1v1h-1zM164 192h1v1h-1zM190 192h1v1h-1zM988 192h1v1h-1zM1007 192h1v1h-1zM43 193h1v1h-1zM82 193h1v1h-1zM92 193h1v1h-1zM153 193h1v1h-1zM163 193h1v1h-1zM190 193h1v1h-1zM987 193h1v1h-1zM1007 193h1v1h-1zM43 194h1v1h-1zM82 194h1v1h-1zM92 194h1v1h-1zM154 194h1v1h-1zM162 194h1v1h-1zM191 194h1v1h-1zM987 194h1v1h-1zM1007 194h1v1h-1zM43 195h1v1h-1zM82 195h1v1h-1zM91 195h1v1h-1zM154 195h1v1h-1zM161 195h1v1h-1zM192 195h1v1h-1zM987 195h1v1h-1zM1008 195h1v1h-1zM43 196h1v1h-1zM83 196h1v1h-1zM91 196h1v1h-1zM155 196h1v1h-1zM161 196h1v1h-1zM193 196h1v1h-1zM987 196h1v1h-1zM1008 196h1v1h-1zM42 197h1v1h-1zM83 197h1v1h-1zM91 197h1v1h-1zM156 197h2v1h-2zM160 197h1v1h-1zM193 197h1v1h-1zM987 197h1v1h-1zM1008 197h1v1h-1zM42 198h1v1h-1zM84 198h1v1h-1zM90 198h1v1h-1zM158 198h2v1h-2zM194 198h1v1h-1zM987 198h1v1h-1zM1008 198h1v1h-1zM42 199h1v1h-1zM84 199h1v1h-1zM90 199h1v1h-1zM195 199h5v1h-5zM986 199h1v1h-1zM1008 199h1v1h-1zM42 200h1v1h-1zM85 200h1v1h-1zM89 200h1v1h-1zM200 200h1v1h-1zM986 200h1v1h-1zM1008 200h1v1h-1zM41 201h1v1h-1zM85 201h1v1h-1zM89 201h1v1h-1zM200 201h1v1h-1zM986 201h1v1h-1zM1008 201h1v1h-1zM41 202h1v1h-1zM86 202h1v1h-1zM88 202h1v1h-1zM201 202h1v1h-1zM269 202h3v1h-3zM986 202h1v1h-1zM1008 202h1v1h-1zM41 203h1v1h-1zM86 203h1v1h-1zM88 203h1v1h-1zM201 203h1v1h-1zM265 203h4v1h-4zM272 203h1v1h-1zM986 203h1v1h-1zM1008 203h1v1h-1zM41 204h1v1h-1zM87 204h1v1h-1zM202 204h1v1h-1zM263 204h2v1h-2zM272 204h1v1h-1zM985 204h1v1h-1zM1008 204h1v1h-1zM40 205h1v1h-1zM202 205h1v1h-1zM263 205h1v1h-1zM273 205h1v1h-1zM985 205h1v1h-1zM1009 205h1v1h-1zM40 206h1v1h-1zM203 206h1v1h-1zM262 206h1v1h-1zM274 206h1v1h-1zM985 206h1v1h-1zM1009 206h1v1h-1zM40 207h1v1h-1zM203 207h1v1h-1zM262 207h1v1h-1zM274 207h1v1h-1zM763 207h1v1h-1zM985 207h1v1h-1zM1009 207h1v1h-1zM40 208h1v1h-1zM203 208h1v1h-1zM262 208h1v1h-1zM275 208h1v1h-1zM762 208h1v1h-1zM764 208h1v1h-1zM985 208h1v1h-1zM1009 208h1v1h-1zM39 209h1v1h-1zM204 209h1v1h-1zM261 209h1v1h-1zM276 209h1v1h-1zM761 209h1v1h-1zM765 209h2v1h-2zM984 209h1v1h-1zM1009 209h1v1h-1zM39 210h1v1h-1zM204 210h1v1h-1zM261 210h1v1h-1zM276 210h1v1h-1zM761 210h1v1h-1zM767 210h1v1h-1zM984 210h1v1h-1zM1009 210h1v1h-1zM39 211h1v1h-1zM205 211h1v1h-1zM261 211h1v1h-1zM277 211h1v1h-1zM760 211h1v1h-1zM768 211h1v1h-1zM984 211h1v1h-1zM1009 211h1v1h-1zM38 212h1v1h-1zM205 212h1v1h-1zM260 212h1v1h-1zM277 212h1v1h-1zM759 212h1v1h-1zM769 212h2v1h-2zM984 212h1v1h-1zM1009 212h1v1h-1zM38 213h1v1h-1zM206 213h1v1h-1zM260 213h1v1h-1zM278 213h1v1h-1zM759 213h1v1h-1zM771 213h1v1h-1zM984 213h1v1h-1zM1009 213h1v1h-1zM38 214h1v1h-1zM206 214h1v1h-1zM260 214h1v1h-1zM278 214h1v1h-1zM758 214h1v1h-1zM772 214h1v1h-1zM983 214h1v1h-1zM1010 214h1v1h-1zM37 215h1v1h-1zM207 215h1v1h-1zM259 215h1v1h-1zM279 215h1v1h-1zM758 215h1v1h-1zM773 215h1v1h-1zM983 215h1v1h-1zM1010 215h1v1h-1zM37 216h1v1h-1zM207 216h1v1h-1zM259 216h1v1h-1zM279 216h1v1h-1zM758 216h1v1h-1zM774 216h1v1h-1zM983 216h1v1h-1zM1010 216h1v1h-1zM36 217h1v1h-1zM208 217h1v1h-1zM259 217h1v1h-1zM280 217h1v1h-1zM757 217h1v1h-1zM775 217h1v1h-1zM983 217h1v1h-1zM1010 217h1v1h-1zM36 218h1v1h-1zM208 218h1v1h-1zM258 218h1v1h-1zM280 218h1v1h-1zM757 218h1v1h-1zM776 218h1v1h-1zM983 218h1v1h-1zM1010 218h1v1h-1zM9 219h3v1h-3zM36 219h1v1h-1zM209 219h1v1h-1zM258 219h1v1h-1zM280 219h1v1h-1zM757 219h1v1h-1zM776 219h1v1h-1zM983 219h1v1h-1zM1010 219h1v1h-1zM7 220h2v1h-2zM12 220h1v1h-1zM35 220h1v1h-1zM209 220h1v1h-1zM257 220h1v1h-1zM281 220h1v1h-1zM756 220h1v1h-1zM777 220h1v1h-1zM982 220h1v1h-1zM1010 220h1v1h-1zM5 221h2v1h-2zM13 221h1v1h-1zM35 221h1v1h-1zM210 221h1v1h-1zM257 221h1v1h-1zM281 221h1v1h-1zM756 221h1v1h-1zM777 221h1v1h-1zM982 221h1v1h-1zM1010 221h1v1h-1zM4 222h1v1h-1zM14 222h1v1h-1zM35 222h1v1h-1zM210 222h1v1h-1zM257 222h1v1h-1zM281 222h1v1h-1zM756 222h1v1h-1zM778 222h1v1h-1zM982 222h1v1h-1zM1010 222h1v1h-1zM3 223h1v1h-1zM15 223h1v1h-1zM34 223h1v1h-1zM211 223h1v1h-1zM256 223h1v1h-1zM282 223h1v1h-1zM755 223h1v1h-1zM778 223h1v1h-1zM982 223h1v1h-1zM1010 223h1v1h-1zM16 224h1v1h-1zM34 224h1v1h-1zM211 224h1v1h-1zM256 224h1v1h-1zM282 224h1v1h-1zM755 224h1v1h-1zM779 224h1v1h-1zM982 224h1v1h-1zM1011 224h1v1h-1zM17 225h1v1h-1zM34 225h1v1h-1zM211 225h1v1h-1zM255 225h1v1h-1zM282 225h1v1h-1zM755 225h1v1h-1zM779 225h1v1h-1zM982 225h1v1h-1zM1011 225h1v1h-1zM18 226h1v1h-1zM33 226h1v1h-1zM212 226h1v1h-1zM255 226h1v1h-1zM283 226h1v1h-1zM755 226h1v1h-1zM779 226h1v1h-1zM982 226h1v1h-1zM1011 226h1v1h-1zM19 227h1v1h-1zM33 227h1v1h-1zM212 227h1v1h-1zM255 227h1v1h-1zM283 227h1v1h-1zM754 227h1v1h-1zM780 227h1v1h-1zM982 227h1v1h-1zM1011 227h1v1h-1zM20 228h1v1h-1zM32 228h1v1h-1zM213 228h1v1h-1zM255 228h1v1h-1zM283 228h1v1h-1zM754 228h1v1h-1zM780 228h1v1h-1zM981 228h1v1h-1zM1011 228h1v1h-1zM20 229h1v1h-1zM32 229h1v1h-1zM213 229h1v1h-1zM254 229h1v1h-1zM284 229h1v1h-1zM754 229h1v1h-1zM781 229h1v1h-1zM981 229h1v1h-1zM1011 229h1v1h-1zM21 230h1v1h-1zM32 230h1v1h-1zM213 230h1v1h-1zM254 230h1v1h-1zM284 230h1v1h-1zM754 230h1v1h-1zM781 230h1v1h-1zM981 230h1v1h-1zM1011 230h1v1h-1zM21 231h1v1h-1zM31 231h1v1h-1zM214 231h1v1h-1zM254 231h1v1h-1zM284 231h1v1h-1zM753 231h1v1h-1zM781 231h1v1h-1zM981 231h1v1h-1zM1012 231h1v1h-1zM22 232h1v1h-1zM31 232h1v1h-1zM214 232h1v1h-1zM254 232h1v1h-1zM285 232h1v1h-1zM753 232h1v1h-1zM782 232h1v1h-1zM981 232h1v1h-1zM1012 232h1v1h-1zM22 233h1v1h-1zM29 233h2v1h-2zM215 233h1v1h-1zM254 233h1v1h-1zM285 233h1v1h-1zM753 233h1v1h-1zM782 233h1v1h-1zM981 233h1v1h-1zM1012 233h1v1h-1zM23 234h2v1h-2zM28 234h1v1h-1zM215 234h1v1h-1zM253 234h1v1h-1zM285 234h1v1h-1zM753 234h1v1h-1zM783 234h1v1h-1zM981 234h1v1h-1zM1012 234h1v1h-1zM25 235h3v1h-3zM215 235h1v1h-1zM253 235h1v1h-1zM285 235h1v1h-1zM752 235h1v1h-1zM783 235h1v1h-1zM981 235h1v1h-1zM1012 235h1v1h-1zM216 236h1v1h-1zM253 236h1v1h-1zM286 236h1v1h-1zM559 236h1v1h-1zM752 236h1v1h-1zM784 236h1v1h-1zM980 236h1v1h-1zM1012 236h1v1h-1zM216 237h1v1h-1zM253 237h1v1h-1zM286 237h1v1h-1zM558 237h1v1h-1zM560 237h1v1h-1zM752 237h1v1h-1zM784 237h1v1h-1zM980 237h1v1h-1zM1013 237h1v1h-1zM217 238h1v1h-1zM252 238h1v1h-1zM286 238h1v1h-1zM557 238h1v1h-1zM560 238h1v1h-1zM752 238h1v1h-1zM785 238h1v1h-1zM980 238h1v1h-1zM1013 238h1v1h-1zM217 239h1v1h-1zM252 239h1v1h-1zM287 239h1v1h-1zM556 239h1v1h-1zM561 239h1v1h-1zM751 239h1v1h-1zM786 239h1v1h-1zM980 239h1v1h-1zM1013 239h1v1h-1zM218 240h1v1h-1zM252 240h1v1h-1zM287 240h1v1h-1zM515 240h2v1h-2zM555 240h1v1h-1zM562 240h1v1h-1zM751 240h1v1h-1zM786 240h1v1h-1zM980 240h1v1h-1zM1013 240h1v1h-1zM218 241h1v1h-1zM252 241h1v1h-1zM287 241h1v1h-1zM514 241h1v1h-1zM517 241h3v1h-3zM555 241h1v1h-1zM562 241h1v1h-1zM751 241h1v1h-1zM787 241h1v1h-1zM980 241h1v1h-1zM1013 241h1v1h-1zM219 242h1v1h-1zM252 242h1v1h-1zM288 242h1v1h-1zM514 242h1v1h-1zM520 242h1v1h-1zM554 242h1v1h-1zM563 242h1v1h-1zM750 242h1v1h-1zM788 242h1v1h-1zM980 242h1v1h-1zM1014 242h1v1h-1zM219 243h1v1h-1zM251 243h1v1h-1zM288 243h1v1h-1zM513 243h1v1h-1zM520 243h1v1h-1zM554 243h1v1h-1zM564 243h1v1h-1zM750 243h1v1h-1zM788 243h1v1h-1zM980 243h1v1h-1zM1014 243h1v1h-1zM220 244h2v1h-2zM225 244h3v1h-3zM251 244h1v1h-1zM288 244h1v1h-1zM513 244h1v1h-1zM521 244h1v1h-1zM553 244h1v1h-1zM564 244h1v1h-1zM750 244h1v1h-1zM789 244h1v1h-1zM979 244h1v1h-1zM1014 244h1v1h-1zM222 245h3v1h-3zM228 245h1v1h-1zM251 245h1v1h-1zM289 245h1v1h-1zM512 245h1v1h-1zM522 245h1v1h-1zM553 245h1v1h-1zM565 245h1v1h-1zM749 245h1v1h-1zM790 245h1v1h-1zM979 245h1v1h-1zM1014 245h1v1h-1zM229 246h2v1h-2zM251 246h1v1h-1zM289 246h1v1h-1zM512 246h1v1h-1zM522 246h1v1h-1zM552 246h1v1h-1zM565 246h1v1h-1zM709 246h3v1h-3zM749 246h1v1h-1zM790 246h1v1h-1zM811 246h1v1h-1zM979 246h1v1h-1zM1014 246h1v1h-1zM231 247h1v1h-1zM250 247h1v1h-1zM289 247h1v1h-1zM511 247h1v1h-1zM523 247h1v1h-1zM552 247h1v1h-1zM566 247h1v1h-1zM707 247h2v1h-2zM712 247h2v1h-2zM749 247h1v1h-1zM791 247h1v1h-1zM809 247h2v1h-2zM812 247h1v1h-1zM979 247h1v1h-1zM1014 247h1v1h-1zM232 248h1v1h-1zM250 248h1v1h-1zM289 248h1v1h-1zM511 248h1v1h-1zM523 248h1v1h-1zM551 248h1v1h-1zM566 248h1v1h-1zM707 248h1v1h-1zM714 248h2v1h-2zM748 248h1v1h-1zM792 248h1v1h-1zM808 248h1v1h-1zM813 248h2v1h-2zM979 248h1v1h-1zM1015 248h1v1h-1zM232 249h1v1h-1zM249 249h1v1h-1zM290 249h1v1h-1zM510 249h1v1h-1zM524 249h1v1h-1zM551 249h1v1h-1zM567 249h1v1h-1zM706 249h1v1h-1zM716 249h1v1h-1zM748 249h1v1h-1zM792 249h1v1h-1zM807 249h1v1h-1zM815 249h1v1h-1zM979 249h1v1h-1zM1015 249h1v1h-1zM233 250h1v1h-1zM249 250h1v1h-1zM290 250h1v1h-1zM510 250h1v1h-1zM524 250h1v1h-1zM550 250h1v1h-1zM567 250h1v1h-1zM706 250h1v1h-1zM717 250h1v1h-1zM748 250h1v1h-1zM793 250h1v1h-1zM806 250h1v1h-1zM816 250h1v1h-1zM978 250h1v1h-1zM1015 250h1v1h-1zM233 251h1v1h-1zM248 251h1v1h-1zM290 251h1v1h-1zM510 251h1v1h-1zM525 251h1v1h-1zM550 251h1v1h-1zM567 251h1v1h-1zM705 251h1v1h-1zM718 251h1v1h-1zM747 251h1v1h-1zM793 251h1v1h-1zM806 251h1v1h-1zM817 251h1v1h-1zM978 251h1v1h-1zM1015 251h1v1h-1zM234 252h1v1h-1zM248 252h1v1h-1zM291 252h1v1h-1zM509 252h1v1h-1zM525 252h1v1h-1zM549 252h1v1h-1zM568 252h1v1h-1zM705 252h1v1h-1zM719 252h1v1h-1zM747 252h1v1h-1zM794 252h1v1h-1zM805 252h1v1h-1zM817 252h1v1h-1zM978 252h1v1h-1zM1015 252h1v1h-1zM234 253h1v1h-1zM247 253h1v1h-1zM291 253h1v1h-1zM509 253h1v1h-1zM526 253h1v1h-1zM549 253h1v1h-1zM568 253h1v1h-1zM704 253h1v1h-1zM720 253h1v1h-1zM747 253h1v1h-1zM794 253h1v1h-1zM804 253h1v1h-1zM818 253h1v1h-1zM978 253h1v1h-1zM1015 253h1v1h-1zM235 254h2v1h-2zM246 254h1v1h-1zM291 254h1v1h-1zM509 254h1v1h-1zM526 254h1v1h-1zM549 254h1v1h-1zM568 254h1v1h-1zM704 254h1v1h-1zM720 254h1v1h-1zM746 254h1v1h-1zM795 254h2v1h-2zM804 254h1v1h-1zM819 254h1v1h-1zM978 254h1v1h-1zM1015 254h1v1h-1zM237 255h3v1h-3zM246 255h1v1h-1zM292 255h1v1h-1zM508 255h1v1h-1zM527 255h1v1h-1zM548 255h1v1h-1zM568 255h1v1h-1zM703 255h1v1h-1zM721 255h1v1h-1zM746 255h1v1h-1zM797 255h7v1h-7zM820 255h1v1h-1zM978 255h1v1h-1zM1016 255h1v1h-1zM240 256h1v1h-1zM245 256h1v1h-1zM292 256h1v1h-1zM508 256h1v1h-1zM527 256h1v1h-1zM548 256h1v1h-1zM569 256h1v1h-1zM702 256h1v1h-1zM721 256h1v1h-1zM745 256h1v1h-1zM821 256h1v1h-1zM977 256h1v1h-1zM1016 256h1v1h-1zM241 257h1v1h-1zM244 257h1v1h-1zM293 257h1v1h-1zM508 257h1v1h-1zM528 257h1v1h-1zM547 257h1v1h-1zM569 257h1v1h-1zM701 257h1v1h-1zM722 257h1v1h-1zM745 257h1v1h-1zM821 257h1v1h-1zM977 257h1v1h-1zM1016 257h1v1h-1zM242 258h1v1h-1zM244 258h1v1h-1zM293 258h1v1h-1zM317 258h8v1h-8zM507 258h1v1h-1zM528 258h1v1h-1zM547 258h1v1h-1zM569 258h1v1h-1zM701 258h1v1h-1zM722 258h1v1h-1zM745 258h1v1h-1zM822 258h1v1h-1zM977 258h1v1h-1zM1016 258h1v1h-1zM243 259h1v1h-1zM294 259h1v1h-1zM315 259h2v1h-2zM325 259h3v1h-3zM507 259h1v1h-1zM529 259h1v1h-1zM547 259h1v1h-1zM570 259h1v1h-1zM700 259h1v1h-1zM723 259h1v1h-1zM744 259h1v1h-1zM823 259h1v1h-1zM977 259h1v1h-1zM1016 259h1v1h-1zM294 260h1v1h-1zM314 260h1v1h-1zM327 260h1v1h-1zM507 260h1v1h-1zM529 260h1v1h-1zM546 260h1v1h-1zM570 260h1v1h-1zM699 260h1v1h-1zM724 260h1v1h-1zM744 260h1v1h-1zM824 260h1v1h-1zM977 260h1v1h-1zM1016 260h1v1h-1zM295 261h1v1h-1zM313 261h1v1h-1zM328 261h1v1h-1zM506 261h1v1h-1zM530 261h1v1h-1zM546 261h1v1h-1zM570 261h1v1h-1zM698 261h1v1h-1zM724 261h1v1h-1zM743 261h1v1h-1zM825 261h1v1h-1zM976 261h1v1h-1zM1016 261h1v1h-1zM295 262h1v1h-1zM312 262h1v1h-1zM328 262h1v1h-1zM506 262h1v1h-1zM530 262h1v1h-1zM545 262h1v1h-1zM570 262h1v1h-1zM697 262h1v1h-1zM725 262h1v1h-1zM743 262h1v1h-1zM825 262h1v1h-1zM976 262h1v1h-1zM1016 262h1v1h-1zM296 263h1v1h-1zM311 263h1v1h-1zM329 263h1v1h-1zM506 263h1v1h-1zM531 263h1v1h-1zM545 263h1v1h-1zM571 263h1v1h-1zM697 263h1v1h-1zM725 263h1v1h-1zM743 263h1v1h-1zM826 263h1v1h-1zM976 263h1v1h-1zM1017 263h1v1h-1zM297 264h1v1h-1zM310 264h1v1h-1zM329 264h1v1h-1zM506 264h1v1h-1zM531 264h1v1h-1zM544 264h1v1h-1zM571 264h1v1h-1zM696 264h1v1h-1zM726 264h1v1h-1zM742 264h1v1h-1zM827 264h1v1h-1zM976 264h1v1h-1zM1017 264h1v1h-1zM297 265h1v1h-1zM309 265h1v1h-1zM330 265h1v1h-1zM505 265h1v1h-1zM532 265h1v1h-1zM544 265h1v1h-1zM571 265h1v1h-1zM695 265h1v1h-1zM726 265h1v1h-1zM742 265h1v1h-1zM828 265h1v1h-1zM976 265h1v1h-1zM1017 265h1v1h-1zM298 266h1v1h-1zM309 266h1v1h-1zM330 266h1v1h-1zM505 266h1v1h-1zM533 266h1v1h-1zM543 266h1v1h-1zM572 266h1v1h-1zM695 266h1v1h-1zM727 266h1v1h-1zM741 266h1v1h-1zM828 266h1v1h-1zM976 266h1v1h-1zM1017 266h1v1h-1zM299 267h2v1h-2zM308 267h1v1h-1zM331 267h1v1h-1zM505 267h1v1h-1zM533 267h1v1h-1zM541 267h2v1h-2zM572 267h1v1h-1zM694 267h1v1h-1zM727 267h1v1h-1zM741 267h1v1h-1zM829 267h1v1h-1zM975 267h1v1h-1zM1017 267h1v1h-1zM301 268h7v1h-7zM331 268h1v1h-1zM504 268h1v1h-1zM534 268h1v1h-1zM540 268h1v1h-1zM572 268h1v1h-1zM694 268h1v1h-1zM728 268h1v1h-1zM741 268h1v1h-1zM829 268h1v1h-1zM975 268h1v1h-1zM1017 268h1v1h-1zM331 269h1v1h-1zM504 269h1v1h-1zM535 269h5v1h-5zM572 269h1v1h-1zM693 269h1v1h-1zM729 269h1v1h-1zM740 269h1v1h-1zM830 269h1v1h-1zM975 269h1v1h-1zM1017 269h1v1h-1zM332 270h1v1h-1zM504 270h1v1h-1zM573 270h1v1h-1zM693 270h1v1h-1zM730 270h1v1h-1zM740 270h1v1h-1zM830 270h1v1h-1zM975 270h1v1h-1zM1017 270h1v1h-1zM332 271h1v1h-1zM504 271h1v1h-1zM573 271h1v1h-1zM692 271h1v1h-1zM731 271h1v1h-1zM739 271h1v1h-1zM831 271h1v1h-1zM975 271h1v1h-1zM1017 271h1v1h-1zM332 272h1v1h-1zM503 272h1v1h-1zM573 272h1v1h-1zM692 272h1v1h-1zM732 272h1v1h-1zM738 272h2v1h-2zM831 272h1v1h-1zM974 272h1v1h-1zM1018 272h1v1h-1zM332 273h1v1h-1zM503 273h1v1h-1zM573 273h1v1h-1zM691 273h1v1h-1zM733 273h2v1h-2zM736 273h2v1h-2zM832 273h1v1h-1zM974 273h1v1h-1zM1018 273h1v1h-1zM333 274h1v1h-1zM503 274h1v1h-1zM574 274h1v1h-1zM691 274h1v1h-1zM735 274h1v1h-1zM833 274h1v1h-1zM974 274h1v1h-1zM1018 274h1v1h-1zM333 275h1v1h-1zM502 275h1v1h-1zM574 275h1v1h-1zM691 275h1v1h-1zM833 275h1v1h-1zM974 275h1v1h-1zM1018 275h1v1h-1zM333 276h1v1h-1zM502 276h1v1h-1zM574 276h1v1h-1zM690 276h1v1h-1zM834 276h1v1h-1zM973 276h1v1h-1zM1018 276h1v1h-1zM333 277h1v1h-1zM502 277h1v1h-1zM574 277h1v1h-1zM690 277h1v1h-1zM835 277h1v1h-1zM973 277h1v1h-1zM1018 277h1v1h-1zM334 278h1v1h-1zM501 278h1v1h-1zM575 278h1v1h-1zM671 278h1v1h-1zM689 278h1v1h-1zM836 278h1v1h-1zM973 278h1v1h-1zM1018 278h1v1h-1zM334 279h1v1h-1zM501 279h1v1h-1zM575 279h1v1h-1zM669 279h2v1h-2zM672 279h2v1h-2zM689 279h1v1h-1zM836 279h1v1h-1zM973 279h1v1h-1zM1018 279h1v1h-1zM334 280h1v1h-1zM501 280h1v1h-1zM575 280h1v1h-1zM668 280h1v1h-1zM674 280h3v1h-3zM688 280h1v1h-1zM837 280h1v1h-1zM972 280h1v1h-1zM1019 280h1v1h-1zM334 281h1v1h-1zM501 281h1v1h-1zM575 281h1v1h-1zM619 281h1v1h-1zM667 281h1v1h-1zM677 281h8v1h-8zM688 281h1v1h-1zM837 281h1v1h-1zM972 281h1v1h-1zM1019 281h1v1h-1zM335 282h1v1h-1zM500 282h1v1h-1zM576 282h1v1h-1zM617 282h2v1h-2zM620 282h1v1h-1zM667 282h1v1h-1zM685 282h3v1h-3zM838 282h1v1h-1zM972 282h1v1h-1zM1019 282h1v1h-1zM335 283h1v1h-1zM500 283h1v1h-1zM576 283h1v1h-1zM616 283h1v1h-1zM621 283h2v1h-2zM666 283h1v1h-1zM838 283h1v1h-1zM972 283h1v1h-1zM1019 283h1v1h-1zM335 284h1v1h-1zM500 284h1v1h-1zM576 284h1v1h-1zM615 284h1v1h-1zM623 284h1v1h-1zM666 284h1v1h-1zM839 284h1v1h-1zM971 284h1v1h-1zM1019 284h1v1h-1zM335 285h1v1h-1zM499 285h1v1h-1zM576 285h1v1h-1zM614 285h1v1h-1zM624 285h1v1h-1zM665 285h1v1h-1zM840 285h1v1h-1zM971 285h1v1h-1zM1019 285h1v1h-1zM336 286h1v1h-1zM499 286h1v1h-1zM577 286h1v1h-1zM614 286h1v1h-1zM624 286h1v1h-1zM665 286h1v1h-1zM840 286h1v1h-1zM971 286h1v1h-1zM1019 286h1v1h-1zM336 287h1v1h-1zM499 287h1v1h-1zM577 287h1v1h-1zM613 287h1v1h-1zM625 287h1v1h-1zM664 287h1v1h-1zM841 287h1v1h-1zM875 287h1v1h-1zM971 287h1v1h-1zM1019 287h1v1h-1zM336 288h1v1h-1zM498 288h1v1h-1zM577 288h1v1h-1zM612 288h1v1h-1zM626 288h1v1h-1zM664 288h1v1h-1zM842 288h1v1h-1zM874 288h1v1h-1zM876 288h1v1h-1zM971 288h1v1h-1zM1020 288h1v1h-1zM336 289h1v1h-1zM395 289h1v1h-1zM498 289h1v1h-1zM578 289h1v1h-1zM612 289h1v1h-1zM626 289h1v1h-1zM663 289h1v1h-1zM842 289h1v1h-1zM873 289h1v1h-1zM877 289h1v1h-1zM971 289h1v1h-1zM1020 289h1v1h-1zM337 290h1v1h-1zM394 290h1v1h-1zM396 290h2v1h-2zM497 290h1v1h-1zM578 290h1v1h-1zM611 290h1v1h-1zM627 290h1v1h-1zM663 290h1v1h-1zM843 290h1v1h-1zM872 290h1v1h-1zM878 290h1v1h-1zM971 290h1v1h-1zM1020 290h1v1h-1zM337 291h1v1h-1zM394 291h1v1h-1zM398 291h2v1h-2zM497 291h1v1h-1zM578 291h1v1h-1zM611 291h1v1h-1zM628 291h1v1h-1zM662 291h1v1h-1zM843 291h1v1h-1zM871 291h1v1h-1zM879 291h1v1h-1zM970 291h1v1h-1zM1020 291h1v1h-1zM337 292h1v1h-1zM385 292h3v1h-3zM393 292h1v1h-1zM400 292h1v1h-1zM496 292h1v1h-1zM578 292h1v1h-1zM610 292h1v1h-1zM628 292h1v1h-1zM662 292h1v1h-1zM844 292h1v1h-1zM870 292h1v1h-1zM879 292h1v1h-1zM970 292h1v1h-1zM1020 292h1v1h-1zM338 293h1v1h-1zM383 293h2v1h-2zM388 293h1v1h-1zM393 293h1v1h-1zM401 293h2v1h-2zM496 293h1v1h-1zM579 293h1v1h-1zM610 293h1v1h-1zM629 293h1v1h-1zM661 293h1v1h-1zM844 293h1v1h-1zM870 293h1v1h-1zM880 293h1v1h-1zM970 293h1v1h-1zM1020 293h1v1h-1zM338 294h1v1h-1zM382 294h1v1h-1zM389 294h1v1h-1zM392 294h1v1h-1zM403 294h1v1h-1zM495 294h1v1h-1zM579 294h1v1h-1zM609 294h1v1h-1zM629 294h1v1h-1zM661 294h1v1h-1zM845 294h1v1h-1zM869 294h1v1h-1zM880 294h1v1h-1zM970 294h1v1h-1zM1020 294h1v1h-1zM1067 294h1v1h-1zM338 295h1v1h-1zM381 295h1v1h-1zM390 295h1v1h-1zM392 295h1v1h-1zM404 295h1v1h-1zM495 295h1v1h-1zM580 295h1v1h-1zM609 295h1v1h-1zM630 295h1v1h-1zM660 295h1v1h-1zM845 295h1v1h-1zM868 295h1v1h-1zM880 295h1v1h-1zM970 295h1v1h-1zM1021 295h1v1h-1zM1067 295h1v1h-1zM338 296h1v1h-1zM381 296h1v1h-1zM391 296h1v1h-1zM404 296h1v1h-1zM494 296h1v1h-1zM581 296h1v1h-1zM608 296h1v1h-1zM630 296h1v1h-1zM660 296h1v1h-1zM846 296h1v1h-1zM868 296h1v1h-1zM881 296h1v1h-1zM970 296h1v1h-1zM1021 296h1v1h-1zM1067 296h2v1h-2zM339 297h1v1h-1zM370 297h2v1h-2zM380 297h1v1h-1zM405 297h1v1h-1zM494 297h1v1h-1zM582 297h1v1h-1zM608 297h1v1h-1zM631 297h1v1h-1zM659 297h1v1h-1zM846 297h1v1h-1zM867 297h1v1h-1zM881 297h1v1h-1zM970 297h1v1h-1zM1021 297h1v1h-1zM1066 297h1v1h-1zM1068 297h1v1h-1zM339 298h1v1h-1zM368 298h2v1h-2zM372 298h1v1h-1zM379 298h1v1h-1zM405 298h1v1h-1zM493 298h1v1h-1zM583 298h1v1h-1zM607 298h1v1h-1zM632 298h1v1h-1zM659 298h1v1h-1zM847 298h1v1h-1zM867 298h1v1h-1zM881 298h1v1h-1zM970 298h1v1h-1zM1021 298h1v1h-1zM1066 298h1v1h-1zM1069 298h1v1h-1zM339 299h1v1h-1zM367 299h1v1h-1zM373 299h1v1h-1zM377 299h2v1h-2zM406 299h1v1h-1zM410 299h2v1h-2zM493 299h1v1h-1zM584 299h1v1h-1zM606 299h1v1h-1zM632 299h1v1h-1zM659 299h1v1h-1zM847 299h1v1h-1zM866 299h1v1h-1zM881 299h1v1h-1zM969 299h1v1h-1zM1021 299h1v1h-1zM1066 299h1v1h-1zM1069 299h1v1h-1zM340 300h1v1h-1zM367 300h1v1h-1zM374 300h1v1h-1zM376 300h1v1h-1zM406 300h1v1h-1zM408 300h2v1h-2zM412 300h1v1h-1zM492 300h1v1h-1zM584 300h1v1h-1zM606 300h1v1h-1zM633 300h1v1h-1zM658 300h1v1h-1zM847 300h1v1h-1zM866 300h1v1h-1zM882 300h1v1h-1zM969 300h1v1h-1zM1021 300h1v1h-1zM1066 300h1v1h-1zM1069 300h1v1h-1zM340 301h1v1h-1zM366 301h1v1h-1zM375 301h1v1h-1zM407 301h1v1h-1zM412 301h1v1h-1zM492 301h1v1h-1zM585 301h1v1h-1zM605 301h1v1h-1zM634 301h1v1h-1zM658 301h1v1h-1zM848 301h1v1h-1zM865 301h1v1h-1zM882 301h1v1h-1zM969 301h1v1h-1zM1022 301h1v1h-1zM1066 301h1v1h-1zM1070 301h1v1h-1zM340 302h1v1h-1zM366 302h1v1h-1zM413 302h1v1h-1zM491 302h1v1h-1zM585 302h1v1h-1zM605 302h1v1h-1zM634 302h1v1h-1zM657 302h1v1h-1zM848 302h1v1h-1zM865 302h1v1h-1zM882 302h1v1h-1zM969 302h1v1h-1zM1022 302h1v1h-1zM1065 302h1v1h-1zM1070 302h1v1h-1zM340 303h1v1h-1zM365 303h1v1h-1zM413 303h1v1h-1zM490 303h1v1h-1zM586 303h1v1h-1zM604 303h1v1h-1zM635 303h1v1h-1zM657 303h1v1h-1zM849 303h1v1h-1zM864 303h1v1h-1zM883 303h1v1h-1zM969 303h1v1h-1zM1022 303h1v1h-1zM1065 303h1v1h-1zM1071 303h1v1h-1zM341 304h1v1h-1zM365 304h1v1h-1zM414 304h1v1h-1zM490 304h1v1h-1zM586 304h1v1h-1zM604 304h1v1h-1zM636 304h1v1h-1zM656 304h1v1h-1zM849 304h1v1h-1zM864 304h1v1h-1zM883 304h1v1h-1zM969 304h1v1h-1zM1022 304h1v1h-1zM1065 304h1v1h-1zM1071 304h1v1h-1zM341 305h1v1h-1zM364 305h1v1h-1zM414 305h1v1h-1zM489 305h1v1h-1zM587 305h1v1h-1zM603 305h1v1h-1zM636 305h1v1h-1zM656 305h1v1h-1zM850 305h1v1h-1zM863 305h1v1h-1zM883 305h1v1h-1zM969 305h1v1h-1zM1022 305h1v1h-1zM1065 305h1v1h-1zM1071 305h1v1h-1zM341 306h1v1h-1zM364 306h1v1h-1zM415 306h1v1h-1zM488 306h1v1h-1zM588 306h1v1h-1zM601 306h2v1h-2zM637 306h1v1h-1zM655 306h1v1h-1zM850 306h1v1h-1zM863 306h1v1h-1zM884 306h1v1h-1zM969 306h1v1h-1zM1022 306h1v1h-1zM1065 306h1v1h-1zM1071 306h1v1h-1zM342 307h1v1h-1zM363 307h1v1h-1zM415 307h1v1h-1zM488 307h1v1h-1zM589 307h1v1h-1zM600 307h1v1h-1zM637 307h1v1h-1zM655 307h1v1h-1zM851 307h1v1h-1zM862 307h1v1h-1zM884 307h1v1h-1zM969 307h1v1h-1zM1022 307h1v1h-1zM1064 307h1v1h-1zM1072 307h1v1h-1zM342 308h1v1h-1zM363 308h1v1h-1zM416 308h1v1h-1zM487 308h1v1h-1zM590 308h1v1h-1zM599 308h1v1h-1zM638 308h1v1h-1zM654 308h1v1h-1zM851 308h1v1h-1zM861 308h1v1h-1zM884 308h1v1h-1zM968 308h1v1h-1zM1023 308h1v1h-1zM1064 308h1v1h-1zM1072 308h1v1h-1zM342 309h1v1h-1zM362 309h1v1h-1zM416 309h1v1h-1zM487 309h1v1h-1zM591 309h1v1h-1zM597 309h2v1h-2zM638 309h1v1h-1zM654 309h1v1h-1zM852 309h1v1h-1zM861 309h1v1h-1zM884 309h1v1h-1zM968 309h1v1h-1zM1023 309h1v1h-1zM1064 309h1v1h-1zM1072 309h1v1h-1zM342 310h1v1h-1zM362 310h1v1h-1zM417 310h1v1h-1zM486 310h1v1h-1zM592 310h2v1h-2zM596 310h1v1h-1zM639 310h1v1h-1zM653 310h1v1h-1zM853 310h1v1h-1zM860 310h1v1h-1zM885 310h1v1h-1zM968 310h1v1h-1zM1023 310h1v1h-1zM1064 310h1v1h-1zM1072 310h1v1h-1zM343 311h1v1h-1zM361 311h1v1h-1zM418 311h1v1h-1zM486 311h1v1h-1zM594 311h2v1h-2zM639 311h1v1h-1zM652 311h1v1h-1zM853 311h1v1h-1zM858 311h2v1h-2zM885 311h1v1h-1zM968 311h1v1h-1zM1023 311h1v1h-1zM1064 311h1v1h-1zM1072 311h1v1h-1zM343 312h1v1h-1zM361 312h1v1h-1zM418 312h1v1h-1zM485 312h1v1h-1zM640 312h1v1h-1zM652 312h1v1h-1zM854 312h1v1h-1zM856 312h2v1h-2zM885 312h1v1h-1zM968 312h1v1h-1zM1023 312h1v1h-1zM1063 312h1v1h-1zM1072 312h1v1h-1zM343 313h1v1h-1zM360 313h1v1h-1zM419 313h1v1h-1zM485 313h1v1h-1zM641 313h2v1h-2zM649 313h3v1h-3zM855 313h1v1h-1zM886 313h1v1h-1zM968 313h1v1h-1zM1023 313h1v1h-1zM1063 313h1v1h-1zM1073 313h1v1h-1zM344 314h1v1h-1zM360 314h1v1h-1zM419 314h1v1h-1zM484 314h1v1h-1zM643 314h6v1h-6zM886 314h1v1h-1zM968 314h1v1h-1zM1023 314h1v1h-1zM1063 314h1v1h-1zM1073 314h1v1h-1zM344 315h1v1h-1zM359 315h1v1h-1zM420 315h1v1h-1zM484 315h1v1h-1zM886 315h1v1h-1zM968 315h1v1h-1zM1023 315h1v1h-1zM1063 315h1v1h-1zM1073 315h1v1h-1zM344 316h1v1h-1zM359 316h1v1h-1zM420 316h1v1h-1zM483 316h1v1h-1zM886 316h1v1h-1zM967 316h1v1h-1zM1024 316h1v1h-1zM1063 316h1v1h-1zM1073 316h1v1h-1zM345 317h1v1h-1zM358 317h1v1h-1zM420 317h1v1h-1zM483 317h1v1h-1zM887 317h1v1h-1zM967 317h1v1h-1zM1024 317h1v1h-1zM1063 317h1v1h-1zM1073 317h1v1h-1zM345 318h1v1h-1zM358 318h1v1h-1zM421 318h1v1h-1zM482 318h1v1h-1zM887 318h1v1h-1zM967 318h1v1h-1zM1024 318h1v1h-1zM1062 318h1v1h-1zM1074 318h1v1h-1zM345 319h1v1h-1zM357 319h1v1h-1zM421 319h1v1h-1zM482 319h1v1h-1zM887 319h1v1h-1zM967 319h1v1h-1zM1024 319h1v1h-1zM1062 319h1v1h-1zM1074 319h1v1h-1zM346 320h1v1h-1zM357 320h1v1h-1zM422 320h1v1h-1zM481 320h1v1h-1zM888 320h1v1h-1zM967 320h1v1h-1zM1024 320h1v1h-1zM1062 320h1v1h-1zM1074 320h1v1h-1zM346 321h1v1h-1zM356 321h1v1h-1zM422 321h1v1h-1zM480 321h1v1h-1zM888 321h1v1h-1zM967 321h1v1h-1zM1024 321h1v1h-1zM1062 321h1v1h-1zM1074 321h1v1h-1zM346 322h1v1h-1zM356 322h1v1h-1zM422 322h1v1h-1zM480 322h1v1h-1zM888 322h1v1h-1zM967 322h1v1h-1zM1024 322h1v1h-1zM1062 322h1v1h-1zM1074 322h1v1h-1zM347 323h1v1h-1zM355 323h1v1h-1zM423 323h1v1h-1zM479 323h1v1h-1zM889 323h1v1h-1zM967 323h1v1h-1zM1024 323h1v1h-1zM1062 323h1v1h-1zM1074 323h1v1h-1zM347 324h1v1h-1zM354 324h1v1h-1zM423 324h1v1h-1zM478 324h1v1h-1zM889 324h1v1h-1zM966 324h1v1h-1zM1024 324h1v1h-1zM1061 324h1v1h-1zM1075 324h1v1h-1zM348 325h1v1h-1zM353 325h1v1h-1zM424 325h1v1h-1zM478 325h1v1h-1zM889 325h1v1h-1zM966 325h1v1h-1zM1024 325h1v1h-1zM1061 325h1v1h-1zM1075 325h1v1h-1zM349 326h1v1h-1zM353 326h1v1h-1zM424 326h1v1h-1zM477 326h1v1h-1zM890 326h1v1h-1zM966 326h1v1h-1zM1025 326h1v1h-1zM1061 326h1v1h-1zM1075 326h1v1h-1zM350 327h1v1h-1zM352 327h1v1h-1zM425 327h1v1h-1zM476 327h1v1h-1zM890 327h1v1h-1zM966 327h1v1h-1zM1025 327h1v1h-1zM1061 327h1v1h-1zM1075 327h1v1h-1zM351 328h1v1h-1zM425 328h1v1h-1zM476 328h1v1h-1zM890 328h1v1h-1zM966 328h1v1h-1zM1025 328h1v1h-1zM1061 328h1v1h-1zM1075 328h1v1h-1zM426 329h1v1h-1zM475 329h1v1h-1zM891 329h1v1h-1zM966 329h1v1h-1zM1025 329h1v1h-1zM1061 329h1v1h-1zM1075 329h1v1h-1zM426 330h1v1h-1zM474 330h1v1h-1zM891 330h1v1h-1zM966 330h1v1h-1zM1025 330h1v1h-1zM1060 330h1v1h-1zM1075 330h1v1h-1zM427 331h1v1h-1zM474 331h1v1h-1zM891 331h1v1h-1zM965 331h1v1h-1zM1025 331h1v1h-1zM1060 331h1v1h-1zM1076 331h1v1h-1zM428 332h1v1h-1zM473 332h1v1h-1zM892 332h1v1h-1zM965 332h1v1h-1zM1025 332h1v1h-1zM1060 332h1v1h-1zM1076 332h1v1h-1zM428 333h1v1h-1zM463 333h5v1h-5zM472 333h1v1h-1zM892 333h1v1h-1zM965 333h1v1h-1zM1025 333h1v1h-1zM1060 333h1v1h-1zM1076 333h1v1h-1zM429 334h1v1h-1zM462 334h1v1h-1zM468 334h2v1h-2zM472 334h1v1h-1zM892 334h1v1h-1zM965 334h1v1h-1zM1025 334h1v1h-1zM1060 334h1v1h-1zM1076 334h1v1h-1zM429 335h1v1h-1zM462 335h1v1h-1zM470 335h2v1h-2zM893 335h1v1h-1zM965 335h1v1h-1zM1025 335h1v1h-1zM1060 335h1v1h-1zM1076 335h1v1h-1zM430 336h1v1h-1zM461 336h1v1h-1zM893 336h1v1h-1zM965 336h1v1h-1zM1026 336h1v1h-1zM1059 336h1v1h-1zM1076 336h1v1h-1zM430 337h1v1h-1zM460 337h1v1h-1zM893 337h1v1h-1zM965 337h1v1h-1zM1026 337h1v1h-1zM1059 337h1v1h-1zM1076 337h1v1h-1zM431 338h1v1h-1zM460 338h1v1h-1zM894 338h1v1h-1zM965 338h1v1h-1zM1026 338h1v1h-1zM1059 338h1v1h-1zM1076 338h1v1h-1zM431 339h1v1h-1zM459 339h1v1h-1zM894 339h1v1h-1zM964 339h1v1h-1zM1026 339h1v1h-1zM1059 339h1v1h-1zM1076 339h1v1h-1zM432 340h1v1h-1zM459 340h1v1h-1zM894 340h1v1h-1zM964 340h1v1h-1zM1026 340h1v1h-1zM1059 340h1v1h-1zM1077 340h1v1h-1zM432 341h1v1h-1zM458 341h1v1h-1zM895 341h1v1h-1zM964 341h1v1h-1zM1026 341h1v1h-1zM1059 341h1v1h-1zM1077 341h1v1h-1zM433 342h1v1h-1zM458 342h1v1h-1zM895 342h1v1h-1zM964 342h1v1h-1zM1026 342h1v1h-1zM1059 342h1v1h-1zM1077 342h1v1h-1zM434 343h1v1h-1zM457 343h1v1h-1zM895 343h1v1h-1zM964 343h1v1h-1zM1026 343h1v1h-1zM1058 343h1v1h-1zM1077 343h1v1h-1zM434 344h1v1h-1zM457 344h1v1h-1zM896 344h1v1h-1zM964 344h1v1h-1zM1026 344h1v1h-1zM1058 344h1v1h-1zM1077 344h1v1h-1zM435 345h1v1h-1zM456 345h1v1h-1zM896 345h1v1h-1zM964 345h1v1h-1zM1026 345h1v1h-1zM1058 345h1v1h-1zM1077 345h1v1h-1zM435 346h1v1h-1zM456 346h1v1h-1zM897 346h1v1h-1zM963 346h1v1h-1zM1027 346h1v1h-1zM1058 346h1v1h-1zM1077 346h1v1h-1zM436 347h1v1h-1zM455 347h1v1h-1zM897 347h1v1h-1zM963 347h1v1h-1zM1027 347h1v1h-1zM1058 347h1v1h-1zM1077 347h1v1h-1zM436 348h1v1h-1zM454 348h1v1h-1zM898 348h1v1h-1zM963 348h1v1h-1zM1027 348h1v1h-1zM1058 348h1v1h-1zM1077 348h1v1h-1zM436 349h1v1h-1zM453 349h1v1h-1zM898 349h1v1h-1zM963 349h1v1h-1zM1027 349h1v1h-1zM1058 349h1v1h-1zM1078 349h1v1h-1zM437 350h1v1h-1zM452 350h1v1h-1zM899 350h1v1h-1zM963 350h1v1h-1zM1027 350h1v1h-1zM1058 350h1v1h-1zM1078 350h1v1h-1zM437 351h1v1h-1zM451 351h1v1h-1zM899 351h1v1h-1zM963 351h1v1h-1zM1027 351h1v1h-1zM1058 351h1v1h-1zM1078 351h1v1h-1zM438 352h1v1h-1zM450 352h1v1h-1zM899 352h1v1h-1zM962 352h1v1h-1zM1027 352h1v1h-1zM1058 352h1v1h-1zM1078 352h1v1h-1zM438 353h1v1h-1zM449 353h1v1h-1zM900 353h1v1h-1zM962 353h1v1h-1zM1027 353h1v1h-1zM1057 353h1v1h-1zM1078 353h1v1h-1zM438 354h1v1h-1zM449 354h1v1h-1zM900 354h1v1h-1zM962 354h1v1h-1zM1027 354h1v1h-1zM1057 354h1v1h-1zM1078 354h1v1h-1zM1115 354h1v1h-1zM439 355h1v1h-1zM448 355h1v1h-1zM901 355h1v1h-1zM962 355h1v1h-1zM1027 355h1v1h-1zM1057 355h1v1h-1zM1078 355h1v1h-1zM1115 355h3v1h-3zM439 356h1v1h-1zM446 356h2v1h-2zM901 356h1v1h-1zM962 356h1v1h-1zM1027 356h1v1h-1zM1057 356h1v1h-1zM1078 356h1v1h-1zM1114 356h1v1h-1zM1118 356h2v1h-2zM1183 356h2v1h-2zM440 357h2v1h-2zM444 357h2v1h-2zM902 357h1v1h-1zM961 357h1v1h-1zM1028 357h1v1h-1zM1057 357h1v1h-1zM1078 357h1v1h-1zM1114 357h1v1h-1zM1119 357h1v1h-1zM1183 357h1v1h-1zM1185 357h3v1h-3zM442 358h2v1h-2zM902 358h1v1h-1zM961 358h1v1h-1zM1028 358h1v1h-1zM1057 358h1v1h-1zM1079 358h1v1h-1zM1114 358h1v1h-1zM1120 358h1v1h-1zM1182 358h1v1h-1zM1187 358h1v1h-1zM903 359h1v1h-1zM961 359h1v1h-1zM1028 359h1v1h-1zM1057 359h1v1h-1zM1079 359h1v1h-1zM1113 359h1v1h-1zM1120 359h1v1h-1zM1182 359h1v1h-1zM1188 359h1v1h-1zM903 360h1v1h-1zM961 360h1v1h-1zM1028 360h1v1h-1zM1057 360h1v1h-1zM1079 360h1v1h-1zM1113 360h1v1h-1zM1120 360h1v1h-1zM1181 360h1v1h-1zM1188 360h1v1h-1zM903 361h1v1h-1zM960 361h1v1h-1zM1028 361h1v1h-1zM1057 361h1v1h-1zM1079 361h1v1h-1zM1113 361h1v1h-1zM1121 361h1v1h-1zM1181 361h1v1h-1zM1188 361h1v1h-1zM904 362h1v1h-1zM960 362h1v1h-1zM1028 362h1v1h-1zM1057 362h1v1h-1zM1079 362h1v1h-1zM1112 362h1v1h-1zM1121 362h1v1h-1zM1180 362h1v1h-1zM1188 362h1v1h-1zM904 363h1v1h-1zM960 363h1v1h-1zM1028 363h1v1h-1zM1056 363h1v1h-1zM1079 363h1v1h-1zM1112 363h1v1h-1zM1121 363h1v1h-1zM1180 363h1v1h-1zM1189 363h1v1h-1zM904 364h1v1h-1zM960 364h1v1h-1zM1028 364h1v1h-1zM1056 364h1v1h-1zM1079 364h1v1h-1zM1112 364h1v1h-1zM1122 364h1v1h-1zM1179 364h1v1h-1zM1189 364h1v1h-1zM905 365h1v1h-1zM960 365h1v1h-1zM1028 365h1v1h-1zM1056 365h1v1h-1zM1080 365h1v1h-1zM1111 365h1v1h-1zM1122 365h1v1h-1zM1179 365h1v1h-1zM1189 365h1v1h-1zM905 366h1v1h-1zM959 366h1v1h-1zM1028 366h1v1h-1zM1056 366h1v1h-1zM1080 366h1v1h-1zM1110 366h2v1h-2zM1122 366h1v1h-1zM1179 366h1v1h-1zM1190 366h1v1h-1zM905 367h1v1h-1zM959 367h1v1h-1zM1028 367h1v1h-1zM1056 367h1v1h-1zM1080 367h1v1h-1zM1108 367h2v1h-2zM1123 367h1v1h-1zM1178 367h1v1h-1zM1190 367h1v1h-1zM906 368h1v1h-1zM959 368h1v1h-1zM1029 368h1v1h-1zM1056 368h1v1h-1zM1080 368h1v1h-1zM1107 368h1v1h-1zM1123 368h1v1h-1zM1178 368h1v1h-1zM1190 368h1v1h-1zM906 369h1v1h-1zM959 369h1v1h-1zM1029 369h1v1h-1zM1056 369h1v1h-1zM1080 369h1v1h-1zM1107 369h1v1h-1zM1124 369h1v1h-1zM1178 369h1v1h-1zM1190 369h1v1h-1zM906 370h1v1h-1zM958 370h1v1h-1zM1029 370h1v1h-1zM1056 370h1v1h-1zM1080 370h1v1h-1zM1106 370h1v1h-1zM1124 370h1v1h-1zM1178 370h1v1h-1zM1191 370h1v1h-1zM907 371h1v1h-1zM958 371h1v1h-1zM1029 371h1v1h-1zM1056 371h1v1h-1zM1081 371h1v1h-1zM1106 371h1v1h-1zM1125 371h1v1h-1zM1177 371h1v1h-1zM1191 371h1v1h-1zM907 372h1v1h-1zM958 372h1v1h-1zM1029 372h1v1h-1zM1056 372h1v1h-1zM1081 372h1v1h-1zM1106 372h1v1h-1zM1126 372h1v1h-1zM1177 372h1v1h-1zM1191 372h1v1h-1zM907 373h1v1h-1zM958 373h1v1h-1zM1029 373h1v1h-1zM1055 373h1v1h-1zM1081 373h1v1h-1zM1106 373h1v1h-1zM1126 373h1v1h-1zM1177 373h1v1h-1zM1191 373h1v1h-1zM908 374h1v1h-1zM957 374h1v1h-1zM1029 374h1v1h-1zM1055 374h1v1h-1zM1081 374h1v1h-1zM1105 374h1v1h-1zM1127 374h1v1h-1zM1177 374h1v1h-1zM1192 374h1v1h-1zM908 375h1v1h-1zM957 375h1v1h-1zM1029 375h1v1h-1zM1055 375h1v1h-1zM1081 375h1v1h-1zM1105 375h1v1h-1zM1128 375h1v1h-1zM1176 375h1v1h-1zM1192 375h1v1h-1zM908 376h1v1h-1zM957 376h1v1h-1zM1029 376h1v1h-1zM1055 376h1v1h-1zM1082 376h1v1h-1zM1105 376h1v1h-1zM1129 376h1v1h-1zM1176 376h1v1h-1zM1192 376h1v1h-1zM909 377h1v1h-1zM956 377h1v1h-1zM1029 377h1v1h-1zM1055 377h1v1h-1zM1082 377h1v1h-1zM1104 377h1v1h-1zM1130 377h1v1h-1zM1176 377h1v1h-1zM1192 377h1v1h-1zM909 378h1v1h-1zM956 378h1v1h-1zM1030 378h1v1h-1zM1055 378h1v1h-1zM1082 378h1v1h-1zM1104 378h1v1h-1zM1131 378h1v1h-1zM1176 378h1v1h-1zM1192 378h1v1h-1zM910 379h1v1h-1zM956 379h1v1h-1zM1030 379h1v1h-1zM1055 379h1v1h-1zM1082 379h1v1h-1zM1104 379h1v1h-1zM1131 379h1v1h-1zM1175 379h1v1h-1zM1193 379h1v1h-1zM910 380h1v1h-1zM956 380h1v1h-1zM1030 380h1v1h-1zM1055 380h1v1h-1zM1082 380h1v1h-1zM1104 380h1v1h-1zM1132 380h1v1h-1zM1175 380h1v1h-1zM1193 380h1v1h-1zM910 381h1v1h-1zM955 381h1v1h-1zM1030 381h1v1h-1zM1055 381h1v1h-1zM1082 381h1v1h-1zM1103 381h1v1h-1zM1132 381h1v1h-1zM1175 381h1v1h-1zM1193 381h1v1h-1zM911 382h1v1h-1zM955 382h1v1h-1zM1030 382h1v1h-1zM1055 382h1v1h-1zM1083 382h1v1h-1zM1103 382h1v1h-1zM1133 382h1v1h-1zM1175 382h1v1h-1zM1193 382h1v1h-1zM911 383h1v1h-1zM955 383h1v1h-1zM1030 383h1v1h-1zM1054 383h1v1h-1zM1083 383h1v1h-1zM1103 383h1v1h-1zM1133 383h1v1h-1zM1174 383h1v1h-1zM1193 383h1v1h-1zM911 384h1v1h-1zM954 384h1v1h-1zM1030 384h1v1h-1zM1054 384h1v1h-1zM1083 384h1v1h-1zM1102 384h1v1h-1zM1133 384h1v1h-1zM1174 384h1v1h-1zM1194 384h1v1h-1zM912 385h1v1h-1zM954 385h1v1h-1zM1030 385h1v1h-1zM1054 385h1v1h-1zM1083 385h1v1h-1zM1102 385h1v1h-1zM1134 385h1v1h-1zM1174 385h1v1h-1zM1194 385h1v1h-1zM912 386h1v1h-1zM954 386h1v1h-1zM1030 386h1v1h-1zM1054 386h1v1h-1zM1083 386h1v1h-1zM1102 386h1v1h-1zM1134 386h1v1h-1zM1174 386h1v1h-1zM1194 386h1v1h-1zM913 387h1v1h-1zM954 387h1v1h-1zM1030 387h1v1h-1zM1054 387h1v1h-1zM1084 387h1v1h-1zM1102 387h1v1h-1zM1135 387h1v1h-1zM1174 387h1v1h-1zM1194 387h1v1h-1zM913 388h1v1h-1zM953 388h1v1h-1zM1030 388h1v1h-1zM1054 388h1v1h-1zM1084 388h1v1h-1zM1101 388h1v1h-1zM1135 388h1v1h-1zM1174 388h1v1h-1zM1194 388h1v1h-1zM914 389h1v1h-1zM953 389h1v1h-1zM1031 389h1v1h-1zM1054 389h1v1h-1zM1084 389h1v1h-1zM1101 389h1v1h-1zM1136 389h1v1h-1zM1173 389h1v1h-1zM1195 389h1v1h-1zM914 390h1v1h-1zM953 390h1v1h-1zM1031 390h1v1h-1zM1054 390h1v1h-1zM1084 390h1v1h-1zM1101 390h1v1h-1zM1136 390h1v1h-1zM1173 390h1v1h-1zM1195 390h1v1h-1zM915 391h1v1h-1zM952 391h1v1h-1zM1031 391h1v1h-1zM1054 391h1v1h-1zM1084 391h1v1h-1zM1101 391h1v1h-1zM1137 391h1v1h-1zM1173 391h1v1h-1zM1195 391h1v1h-1zM915 392h1v1h-1zM952 392h1v1h-1zM1031 392h1v1h-1zM1054 392h1v1h-1zM1084 392h1v1h-1zM1100 392h1v1h-1zM1138 392h1v1h-1zM1173 392h1v1h-1zM1195 392h1v1h-1zM915 393h1v1h-1zM952 393h1v1h-1zM1031 393h1v1h-1zM1054 393h1v1h-1zM1085 393h1v1h-1zM1100 393h1v1h-1zM1138 393h1v1h-1zM1173 393h1v1h-1zM1196 393h1v1h-1zM916 394h1v1h-1zM952 394h1v1h-1zM1031 394h1v1h-1zM1053 394h1v1h-1zM1085 394h1v1h-1zM1100 394h1v1h-1zM1139 394h1v1h-1zM1172 394h1v1h-1zM1196 394h1v1h-1zM916 395h1v1h-1zM951 395h1v1h-1zM1031 395h1v1h-1zM1053 395h1v1h-1zM1085 395h1v1h-1zM1100 395h1v1h-1zM1140 395h2v1h-2zM1172 395h1v1h-1zM1196 395h1v1h-1zM917 396h1v1h-1zM951 396h1v1h-1zM1031 396h1v1h-1zM1053 396h1v1h-1zM1085 396h1v1h-1zM1099 396h1v1h-1zM1142 396h2v1h-2zM1172 396h1v1h-1zM1197 396h1v1h-1zM917 397h1v1h-1zM950 397h1v1h-1zM1031 397h1v1h-1zM1053 397h1v1h-1zM1085 397h1v1h-1zM1099 397h1v1h-1zM1144 397h1v1h-1zM1172 397h1v1h-1zM1197 397h1v1h-1zM918 398h1v1h-1zM950 398h1v1h-1zM1031 398h1v1h-1zM1053 398h1v1h-1zM1086 398h1v1h-1zM1099 398h1v1h-1zM1144 398h1v1h-1zM1172 398h1v1h-1zM1197 398h1v1h-1zM918 399h1v1h-1zM949 399h1v1h-1zM1031 399h1v1h-1zM1053 399h1v1h-1zM1086 399h1v1h-1zM1098 399h1v1h-1zM1145 399h1v1h-1zM1172 399h1v1h-1zM1197 399h1v1h-1zM919 400h1v1h-1zM949 400h1v1h-1zM1031 400h1v1h-1zM1053 400h1v1h-1zM1086 400h1v1h-1zM1098 400h1v1h-1zM1145 400h1v1h-1zM1171 400h1v1h-1zM1198 400h1v1h-1zM919 401h1v1h-1zM948 401h1v1h-1zM1032 401h1v1h-1zM1053 401h1v1h-1zM1086 401h1v1h-1zM1098 401h1v1h-1zM1146 401h1v1h-1zM1171 401h1v1h-1zM1198 401h1v1h-1zM920 402h1v1h-1zM948 402h1v1h-1zM1032 402h1v1h-1zM1053 402h1v1h-1zM1086 402h1v1h-1zM1098 402h1v1h-1zM1146 402h1v1h-1zM1171 402h1v1h-1zM1198 402h1v1h-1zM920 403h1v1h-1zM947 403h1v1h-1zM1032 403h1v1h-1zM1053 403h1v1h-1zM1086 403h1v1h-1zM1097 403h1v1h-1zM1147 403h1v1h-1zM1171 403h1v1h-1zM1199 403h1v1h-1zM921 404h1v1h-1zM947 404h1v1h-1zM1032 404h1v1h-1zM1053 404h1v1h-1zM1087 404h1v1h-1zM1097 404h1v1h-1zM1148 404h1v1h-1zM1170 404h1v1h-1zM1199 404h1v1h-1zM921 405h1v1h-1zM946 405h1v1h-1zM1032 405h1v1h-1zM1052 405h1v1h-1zM1087 405h1v1h-1zM1097 405h1v1h-1zM1148 405h1v1h-1zM1170 405h1v1h-1zM1200 405h1v1h-1zM922 406h1v1h-1zM946 406h1v1h-1zM1032 406h1v1h-1zM1052 406h1v1h-1zM1087 406h1v1h-1zM1096 406h1v1h-1zM1149 406h1v1h-1zM1170 406h1v1h-1zM1200 406h1v1h-1zM922 407h1v1h-1zM945 407h1v1h-1zM1032 407h1v1h-1zM1052 407h1v1h-1zM1088 407h1v1h-1zM1096 407h1v1h-1zM1149 407h1v1h-1zM1170 407h1v1h-1zM1201 407h1v1h-1zM923 408h1v1h-1zM945 408h1v1h-1zM1032 408h1v1h-1zM1052 408h1v1h-1zM1088 408h1v1h-1zM1096 408h1v1h-1zM1150 408h1v1h-1zM1169 408h1v1h-1zM1201 408h1v1h-1zM923 409h1v1h-1zM944 409h1v1h-1zM1032 409h1v1h-1zM1052 409h1v1h-1zM1089 409h1v1h-1zM1096 409h1v1h-1zM1150 409h1v1h-1zM1169 409h1v1h-1zM1202 409h1v1h-1zM924 410h1v1h-1zM944 410h1v1h-1zM1032 410h1v1h-1zM1052 410h1v1h-1zM1090 410h1v1h-1zM1095 410h1v1h-1zM1151 410h1v1h-1zM1169 410h1v1h-1zM1202 410h1v1h-1zM924 411h1v1h-1zM943 411h1v1h-1zM1032 411h1v1h-1zM1052 411h1v1h-1zM1090 411h1v1h-1zM1093 411h3v1h-3zM1151 411h1v1h-1zM1169 411h1v1h-1zM1203 411h1v1h-1zM1205 411h3v1h-3zM925 412h1v1h-1zM942 412h1v1h-1zM1032 412h1v1h-1zM1052 412h1v1h-1zM1091 412h2v1h-2zM1151 412h1v1h-1zM1168 412h1v1h-1zM1203 412h2v1h-2zM926 413h1v1h-1zM941 413h1v1h-1zM1032 413h1v1h-1zM1052 413h1v1h-1zM1152 413h1v1h-1zM1168 413h1v1h-1zM926 414h1v1h-1zM940 414h1v1h-1zM1033 414h1v1h-1zM1052 414h1v1h-1zM1152 414h1v1h-1zM1168 414h1v1h-1zM927 415h1v1h-1zM939 415h1v1h-1zM1033 415h1v1h-1zM1052 415h1v1h-1zM1153 415h1v1h-1zM1168 415h1v1h-1zM928 416h1v1h-1zM937 416h2v1h-2zM1033 416h1v1h-1zM1051 416h1v1h-1zM1153 416h1v1h-1zM1167 416h1v1h-1zM929 417h1v1h-1zM936 417h1v1h-1zM1033 417h1v1h-1zM1051 417h1v1h-1zM1154 417h1v1h-1zM1167 417h1v1h-1zM929 418h1v1h-1zM934 418h2v1h-2zM1033 418h1v1h-1zM1051 418h1v1h-1zM1154 418h1v1h-1zM1166 418h1v1h-1zM930 419h1v1h-1zM932 419h2v1h-2zM1033 419h1v1h-1zM1051 419h1v1h-1zM1155 419h1v1h-1zM1165 419h1v1h-1zM931 420h1v1h-1zM1033 420h1v1h-1zM1051 420h1v1h-1zM1155 420h1v1h-1zM1164 420h1v1h-1zM1033 421h1v1h-1zM1051 421h1v1h-1zM1156 421h2v1h-2zM1161 421h3v1h-3zM1033 422h1v1h-1zM1051 422h1v1h-1zM1158 422h3v1h-3zM1033 423h1v1h-1zM1051 423h1v1h-1zM1033 424h1v1h-1zM1051 424h1v1h-1zM1033 425h1v1h-1zM1051 425h1v1h-1zM1033 426h1v1h-1zM1050 426h1v1h-1zM1033 427h1v1h-1zM1050 427h1v1h-1zM1034 428h1v1h-1zM1050 428h1v1h-1zM1034 429h1v1h-1zM1050 429h1v1h-1zM1034 430h1v1h-1zM1050 430h1v1h-1zM1034 431h1v1h-1zM1050 431h1v1h-1zM1034 432h1v1h-1zM1050 432h1v1h-1zM1034 433h1v1h-1zM1050 433h1v1h-1zM1034 434h1v1h-1zM1050 434h1v1h-1zM1034 435h1v1h-1zM1050 435h1v1h-1zM1034 436h1v1h-1zM1049 436h1v1h-1zM1034 437h1v1h-1zM1049 437h1v1h-1zM1034 438h1v1h-1zM1049 438h1v1h-1zM1034 439h1v1h-1zM1049 439h1v1h-1zM1034 440h1v1h-1zM1049 440h1v1h-1zM1035 441h1v1h-1zM1049 441h1v1h-1zM1035 442h1v1h-1zM1049 442h1v1h-1zM1035 443h1v1h-1zM1049 443h1v1h-1zM1035 444h1v1h-1zM1049 444h1v1h-1zM1035 445h1v1h-1zM1048 445h1v1h-1zM1035 446h1v1h-1zM1048 446h1v1h-1zM1035 447h1v1h-1zM1048 447h1v1h-1zM1035 448h1v1h-1zM1048 448h1v1h-1zM1035 449h1v1h-1zM1048 449h1v1h-1zM1036 450h1v1h-1zM1048 450h1v1h-1zM1036 451h1v1h-1zM1048 451h1v1h-1zM1036 452h1v1h-1zM1048 452h1v1h-1zM1036 453h1v1h-1zM1048 453h1v1h-1zM1036 454h1v1h-1zM1048 454h1v1h-1zM1036 455h1v1h-1zM1047 455h1v1h-1zM1037 456h1v1h-1zM1047 456h1v1h-1zM1037 457h1v1h-1zM1047 457h1v1h-1zM1037 458h1v1h-1zM1047 458h1v1h-1zM1037 459h1v1h-1zM1047 459h1v1h-1zM1037 460h1v1h-1zM1047 460h1v1h-1zM1037 461h1v1h-1zM1046 461h1v1h-1zM1038 462h1v1h-1zM1046 462h1v1h-1zM1038 463h1v1h-1zM1046 463h1v1h-1zM1038 464h1v1h-1zM1046 464h1v1h-1zM1038 465h1v1h-1zM1045 465h1v1h-1zM1038 466h1v1h-1zM1045 466h1v1h-1zM1038 467h1v1h-1zM1045 467h1v1h-1zM1039 468h1v1h-1zM1045 468h1v1h-1zM1039 469h1v1h-1zM1044 469h1v1h-1zM1039 470h1v1h-1zM1044 470h1v1h-1zM1040 471h1v1h-1zM1044 471h1v1h-1zM1041 472h1v1h-1zM1044 472h1v1h-1zM1042 473h2v1h-2zM1043 474h1v1h-1z" fill="#FFA500"/>
<rect x="3" y="153" width="1515" height="2" fill="#FF0000"/>
<rect x="3" y="209" width="1515" height="2" fill="#FF0000"/>
<rect x="3" y="263" width="1515" height="2" fill="#FF0000"/>
<rect x="3" y="318" width="1515" height="2" fill="#FF0000"/>
<rect x="3" y="383" width="1515" height="2" fill="#00FF00"/>
<rect x="3" y="444" width="1515" height="2" fill="#0000FF"/>
<rect x="3" y="520" width="1515" height="2" fill="#0000FF"/>
<rect x="3" y="404" width="1515" height="1" fill="#C0C0C0"/>
</g>
<polygon points="1208.5,25 1218.5,25 1213.5,30.5" fill="#C0C0C0"/>
<polygon points="6,31 13,31 9.5,35" fill="#000"/>
<text x="18.5" y="36" font-size="9.6" fill="#000" stroke="#000" stroke-width="0.25" textLength="62.3" lengthAdjust="spacingAndGlyphs">EURUSD,Daily</text>
<text x="88.5" y="36" font-size="9.6" fill="#000" stroke="#000" stroke-width="0.25" textLength="140.7" lengthAdjust="spacingAndGlyphs">1.08340 1.08453 1.08280 1.08437</text>
<rect x="1519" y="31" width="3" height="1" fill="#000"/>
<text x="1524.6" y="35" font-size="9.6" fill="#000" stroke="#000" stroke-width="0.25" textLength="31.7" lengthAdjust="spacingAndGlyphs">1.15280</text>
<rect x="1519" y="64" width="3" height="1" fill="#000"/>
<text x="1524.6" y="68" font-size="9.6" fill="#000" stroke="#000" stroke-width="0.25" textLength="31.7" lengthAdjust="spacingAndGlyphs">1.14680</text>
<rect x="1519" y="97" width="3" height="1" fill="#000"/>
<text x="1524.6" y="101" font-size="9.6" fill="#000" stroke="#000" stroke-width="0.25" textLength="31.7" lengthAdjust="spacingAndGlyphs">1.14065</text>
<rect x="1519" y="130" width="3" height="1" fill="#000"/>
<text x="1524.6" y="134" font-size="9.6" fill="#000" stroke="#000" stroke-width="0.25" textLength="31.7" lengthAdjust="spacingAndGlyphs">1.13465</text>
<rect x="1519" y="163" width="3" height="1" fill="#000"/>
<text x="1524.6" y="167" font-size="9.6" fill="#000" stroke="#000" stroke-width="0.25" textLength="31.7" lengthAdjust="spacingAndGlyphs">1.12865</text>
<rect x="1519" y="196" width="3" height="1" fill="#000"/>
<text x="1524.6" y="200" font-size="9.6" fill="#000" stroke="#000" stroke-width="0.25" textLength="31.7" lengthAdjust="spacingAndGlyphs">1.12250</text>
<rect x="1519" y="229" width="3" height="1" fill="#000"/>
<text x="1524.6" y="233" font-size="9.6" fill="#000" stroke="#000" stroke-width="0.25" textLength="31.7" lengthAdjust="spacingAndGlyphs">1.11650</text>
<rect x="1519" y="262" width="3" height="1" fill="#000"/>
<text x="1524.6" y="266" font-size="9.6" fill="#000" stroke="#000" stroke-width="0.25" textLength="31.7" lengthAdjust="spacingAndGlyphs">1.11035</text>
<rect x="1519" y="295" width="3" height="1" fill="#000"/>
<text x="1524.6" y="299" font-size="9.6" fill="#000" stroke="#000" stroke-width="0.25" textLength="31.7" lengthAdjust="spacingAndGlyphs">1.10435</text>
<rect x="1519" y="328" width="3" height="1" fill="#000"/>
<text x="1524.6" y="332" font-size="9.6" fill="#000" stroke="#000" stroke-width="0.25" textLength="31.7" lengthAdjust="spacingAndGlyphs">1.09835</text>
<rect x="1519" y="361" width="3" height="1" fill="#000"/>
<text x="1524.6" y="365" font-size="9.6" fill="#000" stroke="#000" stroke-width="0.25" textLength="31.7" lengthAdjust="spacingAndGlyphs">1.09235</text>
<rect x="1519" y="394" width="3" height="1" fill="#000"/>
<text x="1524.6" y="398" font-size="9.6" fill="#000" stroke="#000" stroke-width="0.25" textLength="31.7" lengthAdjust="spacingAndGlyphs">1.08620</text>
<rect x="1519" y="427" width="3" height="1" fill="#000"/>
<text x="1524.6" y="431" font-size="9.6" fill="#000" stroke="#000" stroke-width="0.25" textLength="31.7" lengthAdjust="spacingAndGlyphs">1.08020</text>
<rect x="1519" y="460" width="3" height="1" fill="#000"/>
<text x="1524.6" y="464" font-size="9.6" fill="#000" stroke="#000" stroke-width="0.25" textLength="31.7" lengthAdjust="spacingAndGlyphs">1.07420</text>
<rect x="1519" y="493" width="3" height="1" fill="#000"/>
<text x="1524.6" y="497" font-size="9.6" fill="#000" stroke="#000" stroke-width="0.25" textLength="31.7" lengthAdjust="spacingAndGlyphs">1.06805</text>
<rect x="1519" y="526" width="3" height="1" fill="#000"/>
<text x="1524.6" y="530" font-size="9.6" fill="#000" stroke="#000" stroke-width="0.25" textLength="31.7" lengthAdjust="spacingAndGlyphs">1.06205</text>
<rect x="1520" y="148.2" width="41" height="10.6" fill="#FF0000"/>
<text x="1524.6" y="157.1" font-size="9.6" fill="#FFF" stroke="#FFF" stroke-width="0.25" textLength="31.7" lengthAdjust="spacingAndGlyphs">1.13034</text>
<rect x="1520" y="204.2" width="41" height="10.6" fill="#FF0000"/>
<text x="1524.6" y="213.1" font-size="9.6" fill="#FFF" stroke="#FFF" stroke-width="0.25" textLength="31.7" lengthAdjust="spacingAndGlyphs">1.12004</text>
<rect x="1520" y="258.2" width="41" height="10.6" fill="#FF0000"/>
<text x="1524.6" y="267.1" font-size="9.6" fill="#FFF" stroke="#FFF" stroke-width="0.25" textLength="31.7" lengthAdjust="spacingAndGlyphs">1.11009</text>
<rect x="1520" y="313.2" width="41" height="10.6" fill="#FF0000"/>
<text x="1524.6" y="322.1" font-size="9.6" fill="#FFF" stroke="#FFF" stroke-width="0.25" textLength="31.7" lengthAdjust="spacingAndGlyphs">1.10008</text>
<rect x="1520" y="378.2" width="41" height="10.6" fill="#00FF00"/>
<text x="1524.6" y="387.1" font-size="9.6" fill="#FFF" stroke="#FFF" stroke-width="0.25" textLength="31.7" lengthAdjust="spacingAndGlyphs">1.08800</text>
<rect x="1520" y="399.1" width="41" height="10.6" fill="#000000"/>
<text x="1524.6" y="408.0" font-size="9.6" fill="#FFF" stroke="#FFF" stroke-width="0.25" textLength="31.7" lengthAdjust="spacingAndGlyphs">1.08437</text>
<rect x="1520" y="439.2" width="41" height="10.6" fill="#0000FF"/>
<text x="1524.6" y="448.1" font-size="9.6" fill="#FFF" stroke="#FFF" stroke-width="0.25" textLength="31.7" lengthAdjust="spacingAndGlyphs">1.07697</text>
<rect x="1520" y="515.2" width="41" height="10.6" fill="#0000FF"/>
<text x="1524.6" y="524.1" font-size="9.6" fill="#FFF" stroke="#FFF" stroke-width="0.25" textLength="31.7" lengthAdjust="spacingAndGlyphs">1.06306</text>
<g clip-path="url(#cr)">
<line x1="4" y1="559.5" x2="1518" y2="559.5" stroke="#C0C0C0" stroke-dasharray="3,3" shape-rendering="crispEdges"/>
<line x1="4" y1="595.5" x2="1518" y2="595.5" stroke="#C0C0C0" stroke-dasharray="3,3" shape-rendering="crispEdges"/>
<path d="M991 547h1v1h-1zM989 548h3v1h-3zM988 549h1v1h-1zM992 549h1v1h-1zM985 550h3v1h-3zM992 550h1v1h-1zM983 551h2v1h-2zM993 551h1v1h-1zM982 552h1v1h-1zM993 552h1v1h-1zM970 553h2v1h-2zM981 553h1v1h-1zM993 553h1v1h-1zM968 554h2v1h-2zM972 554h1v1h-1zM981 554h1v1h-1zM994 554h1v1h-1zM967 555h1v1h-1zM972 555h1v1h-1zM980 555h1v1h-1zM994 555h1v1h-1zM967 556h1v1h-1zM973 556h1v1h-1zM979 556h1v1h-1zM995 556h1v1h-1zM50 557h2v1h-2zM966 557h1v1h-1zM974 557h1v1h-1zM977 557h2v1h-2zM995 557h1v1h-1zM48 558h2v1h-2zM52 558h1v1h-1zM966 558h1v1h-1zM974 558h1v1h-1zM976 558h1v1h-1zM996 558h1v1h-1zM47 559h1v1h-1zM52 559h1v1h-1zM505 559h3v1h-3zM754 559h2v1h-2zM965 559h1v1h-1zM975 559h1v1h-1zM996 559h1v1h-1zM45 560h2v1h-2zM53 560h1v1h-1zM502 560h3v1h-3zM508 560h1v1h-1zM752 560h2v1h-2zM756 560h2v1h-2zM965 560h1v1h-1zM997 560h1v1h-1zM44 561h1v1h-1zM53 561h1v1h-1zM500 561h2v1h-2zM509 561h2v1h-2zM750 561h2v1h-2zM758 561h2v1h-2zM964 561h1v1h-1zM998 561h1v1h-1zM43 562h1v1h-1zM54 562h1v1h-1zM101 562h4v1h-4zM109 562h3v1h-3zM499 562h1v1h-1zM511 562h1v1h-1zM550 562h2v1h-2zM748 562h2v1h-2zM760 562h1v1h-1zM964 562h1v1h-1zM998 562h1v1h-1zM42 563h1v1h-1zM54 563h1v1h-1zM99 563h2v1h-2zM105 563h4v1h-4zM112 563h1v1h-1zM498 563h1v1h-1zM512 563h2v1h-2zM548 563h2v1h-2zM552 563h2v1h-2zM707 563h1v1h-1zM747 563h1v1h-1zM761 563h2v1h-2zM963 563h1v1h-1zM999 563h1v1h-1zM42 564h1v1h-1zM55 564h1v1h-1zM57 564h3v1h-3zM98 564h1v1h-1zM113 564h1v1h-1zM497 564h1v1h-1zM514 564h2v1h-2zM547 564h1v1h-1zM554 564h2v1h-2zM695 564h1v1h-1zM705 564h2v1h-2zM708 564h1v1h-1zM745 564h2v1h-2zM763 564h1v1h-1zM962 564h1v1h-1zM999 564h1v1h-1zM41 565h1v1h-1zM55 565h2v1h-2zM60 565h2v1h-2zM97 565h1v1h-1zM114 565h1v1h-1zM117 565h7v1h-7zM497 565h1v1h-1zM516 565h1v1h-1zM546 565h1v1h-1zM556 565h2v1h-2zM693 565h2v1h-2zM696 565h1v1h-1zM704 565h1v1h-1zM708 565h1v1h-1zM744 565h1v1h-1zM764 565h1v1h-1zM961 565h1v1h-1zM1000 565h1v1h-1zM40 566h1v1h-1zM62 566h2v1h-2zM96 566h1v1h-1zM115 566h2v1h-2zM123 566h1v1h-1zM496 566h1v1h-1zM517 566h1v1h-1zM545 566h1v1h-1zM558 566h2v1h-2zM692 566h1v1h-1zM697 566h1v1h-1zM702 566h2v1h-2zM709 566h1v1h-1zM743 566h1v1h-1zM764 566h1v1h-1zM961 566h1v1h-1zM1000 566h1v1h-1zM40 567h1v1h-1zM64 567h1v1h-1zM95 567h1v1h-1zM124 567h1v1h-1zM495 567h1v1h-1zM518 567h1v1h-1zM544 567h1v1h-1zM559 567h1v1h-1zM691 567h1v1h-1zM698 567h1v1h-1zM700 567h2v1h-2zM709 567h1v1h-1zM743 567h1v1h-1zM765 567h1v1h-1zM960 567h1v1h-1zM1000 567h1v1h-1zM1175 567h1v1h-1zM37 568h3v1h-3zM64 568h1v1h-1zM94 568h1v1h-1zM124 568h1v1h-1zM494 568h1v1h-1zM519 568h1v1h-1zM541 568h3v1h-3zM560 568h1v1h-1zM690 568h1v1h-1zM699 568h1v1h-1zM710 568h1v1h-1zM742 568h1v1h-1zM765 568h1v1h-1zM775 568h1v1h-1zM955 568h5v1h-5zM1000 568h1v1h-1zM1174 568h1v1h-1zM1176 568h1v1h-1zM35 569h2v1h-2zM65 569h1v1h-1zM93 569h1v1h-1zM124 569h1v1h-1zM493 569h1v1h-1zM520 569h1v1h-1zM539 569h2v1h-2zM560 569h1v1h-1zM665 569h3v1h-3zM689 569h1v1h-1zM710 569h1v1h-1zM742 569h1v1h-1zM766 569h1v1h-1zM773 569h3v1h-3zM955 569h1v1h-1zM1001 569h1v1h-1zM1173 569h1v1h-1zM1177 569h2v1h-2zM34 570h1v1h-1zM66 570h1v1h-1zM92 570h1v1h-1zM125 570h1v1h-1zM493 570h1v1h-1zM521 570h2v1h-2zM537 570h2v1h-2zM560 570h1v1h-1zM661 570h4v1h-4zM667 570h1v1h-1zM689 570h1v1h-1zM711 570h1v1h-1zM741 570h1v1h-1zM766 570h1v1h-1zM772 570h1v1h-1zM776 570h1v1h-1zM955 570h1v1h-1zM1001 570h1v1h-1zM1058 570h2v1h-2zM1173 570h1v1h-1zM1179 570h1v1h-1zM33 571h1v1h-1zM66 571h1v1h-1zM91 571h1v1h-1zM125 571h1v1h-1zM255 571h1v1h-1zM479 571h5v1h-5zM492 571h1v1h-1zM523 571h1v1h-1zM536 571h1v1h-1zM560 571h1v1h-1zM658 571h3v1h-3zM668 571h1v1h-1zM683 571h2v1h-2zM688 571h1v1h-1zM712 571h2v1h-2zM741 571h1v1h-1zM767 571h1v1h-1zM769 571h3v1h-3zM776 571h1v1h-1zM954 571h1v1h-1zM1001 571h1v1h-1zM1056 571h2v1h-2zM1060 571h1v1h-1zM1172 571h1v1h-1zM1180 571h1v1h-1zM33 572h1v1h-1zM67 572h1v1h-1zM91 572h1v1h-1zM126 572h1v1h-1zM254 572h1v1h-1zM256 572h1v1h-1zM477 572h2v1h-2zM484 572h1v1h-1zM490 572h2v1h-2zM524 572h1v1h-1zM535 572h1v1h-1zM561 572h1v1h-1zM656 572h2v1h-2zM668 572h1v1h-1zM681 572h2v1h-2zM685 572h3v1h-3zM714 572h2v1h-2zM740 572h1v1h-1zM767 572h2v1h-2zM777 572h1v1h-1zM954 572h1v1h-1zM1001 572h1v1h-1zM1054 572h2v1h-2zM1060 572h1v1h-1zM1171 572h1v1h-1zM1180 572h1v1h-1zM32 573h1v1h-1zM67 573h1v1h-1zM90 573h1v1h-1zM126 573h1v1h-1zM253 573h1v1h-1zM257 573h1v1h-1zM262 573h2v1h-2zM476 573h1v1h-1zM485 573h2v1h-2zM488 573h2v1h-2zM525 573h2v1h-2zM533 573h2v1h-2zM561 573h1v1h-1zM655 573h1v1h-1zM669 573h1v1h-1zM680 573h1v1h-1zM716 573h1v1h-1zM740 573h1v1h-1zM777 573h1v1h-1zM954 573h1v1h-1zM1002 573h1v1h-1zM1052 573h2v1h-2zM1061 573h1v1h-1zM1170 573h1v1h-1zM1181 573h1v1h-1zM31 574h1v1h-1zM68 574h1v1h-1zM90 574h1v1h-1zM126 574h1v1h-1zM252 574h1v1h-1zM258 574h1v1h-1zM260 574h2v1h-2zM264 574h1v1h-1zM475 574h1v1h-1zM487 574h1v1h-1zM527 574h2v1h-2zM532 574h1v1h-1zM561 574h1v1h-1zM607 574h2v1h-2zM655 574h1v1h-1zM669 574h1v1h-1zM679 574h1v1h-1zM717 574h1v1h-1zM739 574h1v1h-1zM778 574h1v1h-1zM807 574h1v1h-1zM954 574h1v1h-1zM1002 574h1v1h-1zM1015 574h1v1h-1zM1051 574h1v1h-1zM1062 574h1v1h-1zM1170 574h1v1h-1zM1182 574h1v1h-1zM30 575h1v1h-1zM68 575h1v1h-1zM89 575h1v1h-1zM127 575h1v1h-1zM247 575h5v1h-5zM259 575h1v1h-1zM265 575h2v1h-2zM269 575h3v1h-3zM474 575h1v1h-1zM529 575h3v1h-3zM561 575h1v1h-1zM606 575h1v1h-1zM609 575h3v1h-3zM619 575h1v1h-1zM654 575h1v1h-1zM669 575h1v1h-1zM677 575h2v1h-2zM717 575h1v1h-1zM738 575h1v1h-1zM778 575h1v1h-1zM806 575h1v1h-1zM808 575h2v1h-2zM954 575h1v1h-1zM1002 575h1v1h-1zM1014 575h2v1h-2zM1051 575h1v1h-1zM1062 575h1v1h-1zM1115 575h1v1h-1zM1169 575h1v1h-1zM1182 575h1v1h-1zM3 576h1v1h-1zM30 576h1v1h-1zM69 576h1v1h-1zM89 576h1v1h-1zM127 576h2v1h-2zM247 576h1v1h-1zM267 576h2v1h-2zM272 576h1v1h-1zM379 576h5v1h-5zM473 576h1v1h-1zM562 576h1v1h-1zM605 576h1v1h-1zM612 576h1v1h-1zM617 576h2v1h-2zM620 576h1v1h-1zM654 576h1v1h-1zM670 576h1v1h-1zM676 576h1v1h-1zM718 576h1v1h-1zM729 576h3v1h-3zM737 576h1v1h-1zM779 576h1v1h-1zM805 576h1v1h-1zM810 576h2v1h-2zM865 576h3v1h-3zM953 576h1v1h-1zM1002 576h1v1h-1zM1013 576h1v1h-1zM1016 576h1v1h-1zM1050 576h1v1h-1zM1063 576h5v1h-5zM1101 576h4v1h-4zM1114 576h1v1h-1zM1116 576h1v1h-1zM1169 576h1v1h-1zM1183 576h1v1h-1zM4 577h1v1h-1zM29 577h1v1h-1zM69 577h1v1h-1zM88 577h1v1h-1zM129 577h3v1h-3zM171 577h1v1h-1zM246 577h1v1h-1zM273 577h1v1h-1zM379 577h1v1h-1zM384 577h2v1h-2zM395 577h2v1h-2zM473 577h1v1h-1zM562 577h1v1h-1zM604 577h1v1h-1zM613 577h2v1h-2zM616 577h1v1h-1zM620 577h1v1h-1zM653 577h1v1h-1zM670 577h1v1h-1zM674 577h2v1h-2zM719 577h1v1h-1zM727 577h2v1h-2zM732 577h2v1h-2zM736 577h1v1h-1zM779 577h1v1h-1zM798 577h2v1h-2zM805 577h1v1h-1zM812 577h1v1h-1zM863 577h2v1h-2zM868 577h1v1h-1zM953 577h1v1h-1zM1003 577h1v1h-1zM1013 577h1v1h-1zM1016 577h1v1h-1zM1050 577h1v1h-1zM1068 577h1v1h-1zM1099 577h2v1h-2zM1105 577h3v1h-3zM1113 577h1v1h-1zM1117 577h1v1h-1zM1168 577h1v1h-1zM1184 577h1v1h-1zM5 578h1v1h-1zM28 578h1v1h-1zM70 578h1v1h-1zM79 578h1v1h-1zM88 578h1v1h-1zM132 578h1v1h-1zM169 578h2v1h-2zM172 578h2v1h-2zM246 578h1v1h-1zM274 578h1v1h-1zM311 578h1v1h-1zM378 578h1v1h-1zM386 578h2v1h-2zM395 578h1v1h-1zM397 578h4v1h-4zM472 578h1v1h-1zM562 578h1v1h-1zM601 578h3v1h-3zM615 578h1v1h-1zM621 578h1v1h-1zM653 578h1v1h-1zM671 578h3v1h-3zM720 578h1v1h-1zM725 578h2v1h-2zM734 578h2v1h-2zM780 578h1v1h-1zM796 578h2v1h-2zM800 578h2v1h-2zM804 578h1v1h-1zM812 578h1v1h-1zM863 578h1v1h-1zM869 578h1v1h-1zM953 578h1v1h-1zM1003 578h2v1h-2zM1012 578h1v1h-1zM1017 578h1v1h-1zM1049 578h1v1h-1zM1069 578h1v1h-1zM1098 578h1v1h-1zM1108 578h2v1h-2zM1112 578h1v1h-1zM1118 578h1v1h-1zM1168 578h1v1h-1zM1185 578h1v1h-1zM6 579h1v1h-1zM28 579h1v1h-1zM70 579h1v1h-1zM78 579h1v1h-1zM80 579h1v1h-1zM87 579h1v1h-1zM133 579h1v1h-1zM138 579h2v1h-2zM159 579h6v1h-6zM168 579h1v1h-1zM174 579h2v1h-2zM246 579h1v1h-1zM275 579h1v1h-1zM311 579h2v1h-2zM378 579h1v1h-1zM388 579h1v1h-1zM394 579h1v1h-1zM401 579h3v1h-3zM451 579h1v1h-1zM461 579h3v1h-3zM471 579h1v1h-1zM562 579h1v1h-1zM599 579h2v1h-2zM621 579h1v1h-1zM653 579h1v1h-1zM671 579h1v1h-1zM721 579h2v1h-2zM724 579h1v1h-1zM781 579h2v1h-2zM794 579h2v1h-2zM802 579h2v1h-2zM813 579h1v1h-1zM862 579h1v1h-1zM869 579h1v1h-1zM953 579h1v1h-1zM1005 579h7v1h-7zM1017 579h1v1h-1zM1049 579h1v1h-1zM1070 579h1v1h-1zM1097 579h1v1h-1zM1110 579h2v1h-2zM1119 579h1v1h-1zM1166 579h2v1h-2zM1185 579h1v1h-1zM7 580h1v1h-1zM27 580h1v1h-1zM71 580h1v1h-1zM77 580h1v1h-1zM81 580h1v1h-1zM87 580h1v1h-1zM134 580h1v1h-1zM136 580h2v1h-2zM140 580h1v1h-1zM159 580h1v1h-1zM165 580h3v1h-3zM176 580h1v1h-1zM245 580h1v1h-1zM276 580h1v1h-1zM310 580h1v1h-1zM313 580h2v1h-2zM367 580h1v1h-1zM378 580h1v1h-1zM388 580h1v1h-1zM394 580h1v1h-1zM404 580h1v1h-1zM450 580h1v1h-1zM452 580h2v1h-2zM457 580h4v1h-4zM464 580h1v1h-1zM470 580h1v1h-1zM563 580h1v1h-1zM565 580h3v1h-3zM599 580h1v1h-1zM622 580h1v1h-1zM652 580h1v1h-1zM723 580h1v1h-1zM783 580h1v1h-1zM792 580h2v1h-2zM813 580h1v1h-1zM862 580h1v1h-1zM870 580h1v1h-1zM952 580h1v1h-1zM1017 580h1v1h-1zM1049 580h1v1h-1zM1071 580h1v1h-1zM1091 580h2v1h-2zM1096 580h1v1h-1zM1120 580h1v1h-1zM1127 580h2v1h-2zM1133 580h3v1h-3zM1164 580h2v1h-2zM1186 580h1v1h-1zM1199 580h9v1h-9zM8 581h1v1h-1zM26 581h1v1h-1zM71 581h2v1h-2zM76 581h1v1h-1zM81 581h1v1h-1zM85 581h2v1h-2zM135 581h1v1h-1zM140 581h1v1h-1zM158 581h1v1h-1zM176 581h1v1h-1zM245 581h1v1h-1zM277 581h1v1h-1zM310 581h1v1h-1zM315 581h1v1h-1zM366 581h1v1h-1zM368 581h1v1h-1zM377 581h1v1h-1zM389 581h1v1h-1zM393 581h1v1h-1zM405 581h1v1h-1zM450 581h1v1h-1zM454 581h3v1h-3zM465 581h1v1h-1zM469 581h1v1h-1zM563 581h2v1h-2zM568 581h1v1h-1zM598 581h1v1h-1zM622 581h1v1h-1zM647 581h1v1h-1zM652 581h1v1h-1zM784 581h2v1h-2zM789 581h3v1h-3zM814 581h1v1h-1zM861 581h1v1h-1zM871 581h1v1h-1zM952 581h1v1h-1zM1018 581h1v1h-1zM1048 581h1v1h-1zM1072 581h1v1h-1zM1090 581h1v1h-1zM1093 581h3v1h-3zM1121 581h1v1h-1zM1125 581h2v1h-2zM1129 581h4v1h-4zM1136 581h2v1h-2zM1161 581h3v1h-3zM1187 581h1v1h-1zM1197 581h2v1h-2zM9 582h2v1h-2zM26 582h1v1h-1zM73 582h3v1h-3zM82 582h1v1h-1zM84 582h1v1h-1zM141 582h1v1h-1zM158 582h1v1h-1zM177 582h1v1h-1zM183 582h2v1h-2zM245 582h1v1h-1zM277 582h1v1h-1zM310 582h1v1h-1zM316 582h2v1h-2zM365 582h1v1h-1zM369 582h2v1h-2zM377 582h1v1h-1zM389 582h1v1h-1zM393 582h1v1h-1zM405 582h1v1h-1zM449 582h1v1h-1zM465 582h1v1h-1zM469 582h1v1h-1zM569 582h1v1h-1zM598 582h1v1h-1zM623 582h1v1h-1zM646 582h1v1h-1zM648 582h2v1h-2zM651 582h1v1h-1zM786 582h3v1h-3zM814 582h1v1h-1zM827 582h1v1h-1zM861 582h1v1h-1zM872 582h1v1h-1zM952 582h1v1h-1zM1018 582h1v1h-1zM1048 582h1v1h-1zM1073 582h2v1h-2zM1089 582h1v1h-1zM1122 582h1v1h-1zM1124 582h1v1h-1zM1138 582h3v1h-3zM1159 582h2v1h-2zM1188 582h1v1h-1zM1196 582h1v1h-1zM11 583h1v1h-1zM25 583h1v1h-1zM83 583h1v1h-1zM141 583h1v1h-1zM157 583h1v1h-1zM177 583h1v1h-1zM182 583h1v1h-1zM185 583h4v1h-4zM245 583h1v1h-1zM278 583h1v1h-1zM309 583h1v1h-1zM318 583h2v1h-2zM357 583h3v1h-3zM365 583h1v1h-1zM371 583h1v1h-1zM376 583h1v1h-1zM390 583h1v1h-1zM392 583h1v1h-1zM406 583h1v1h-1zM409 583h3v1h-3zM418 583h2v1h-2zM448 583h1v1h-1zM466 583h1v1h-1zM468 583h1v1h-1zM570 583h1v1h-1zM597 583h1v1h-1zM624 583h2v1h-2zM645 583h1v1h-1zM650 583h2v1h-2zM815 583h2v1h-2zM825 583h2v1h-2zM828 583h1v1h-1zM860 583h1v1h-1zM873 583h2v1h-2zM952 583h1v1h-1zM1019 583h1v1h-1zM1047 583h1v1h-1zM1075 583h1v1h-1zM1089 583h1v1h-1zM1123 583h1v1h-1zM1141 583h4v1h-4zM1158 583h1v1h-1zM1189 583h2v1h-2zM1193 583h3v1h-3zM12 584h1v1h-1zM24 584h1v1h-1zM142 584h1v1h-1zM157 584h1v1h-1zM178 584h1v1h-1zM181 584h1v1h-1zM189 584h8v1h-8zM244 584h1v1h-1zM279 584h1v1h-1zM309 584h1v1h-1zM320 584h2v1h-2zM354 584h3v1h-3zM360 584h2v1h-2zM364 584h1v1h-1zM372 584h1v1h-1zM376 584h1v1h-1zM390 584h1v1h-1zM392 584h1v1h-1zM407 584h2v1h-2zM412 584h2v1h-2zM416 584h2v1h-2zM420 584h1v1h-1zM448 584h1v1h-1zM467 584h1v1h-1zM571 584h1v1h-1zM583 584h1v1h-1zM597 584h1v1h-1zM626 584h2v1h-2zM645 584h1v1h-1zM817 584h4v1h-4zM824 584h1v1h-1zM829 584h2v1h-2zM860 584h1v1h-1zM875 584h1v1h-1zM952 584h1v1h-1zM1019 584h1v1h-1zM1046 584h2v1h-2zM1076 584h1v1h-1zM1088 584h1v1h-1zM1145 584h3v1h-3zM1157 584h1v1h-1zM1191 584h2v1h-2zM12 585h1v1h-1zM24 585h1v1h-1zM142 585h1v1h-1zM156 585h1v1h-1zM178 585h1v1h-1zM180 585h1v1h-1zM197 585h3v1h-3zM244 585h1v1h-1zM280 585h1v1h-1zM308 585h1v1h-1zM322 585h3v1h-3zM352 585h2v1h-2zM362 585h2v1h-2zM373 585h1v1h-1zM376 585h1v1h-1zM391 585h1v1h-1zM414 585h2v1h-2zM420 585h1v1h-1zM447 585h1v1h-1zM572 585h1v1h-1zM581 585h2v1h-2zM584 585h1v1h-1zM596 585h1v1h-1zM628 585h2v1h-2zM644 585h1v1h-1zM821 585h3v1h-3zM831 585h1v1h-1zM859 585h1v1h-1zM876 585h1v1h-1zM951 585h1v1h-1zM1020 585h1v1h-1zM1044 585h2v1h-2zM1077 585h2v1h-2zM1081 585h7v1h-7zM1148 585h2v1h-2zM1156 585h1v1h-1zM13 586h1v1h-1zM22 586h2v1h-2zM143 586h1v1h-1zM145 586h4v1h-4zM156 586h1v1h-1zM179 586h1v1h-1zM200 586h1v1h-1zM244 586h1v1h-1zM281 586h1v1h-1zM308 586h1v1h-1zM325 586h3v1h-3zM351 586h1v1h-1zM374 586h2v1h-2zM391 586h1v1h-1zM421 586h1v1h-1zM445 586h2v1h-2zM573 586h2v1h-2zM580 586h1v1h-1zM585 586h2v1h-2zM596 586h1v1h-1zM630 586h6v1h-6zM642 586h2v1h-2zM832 586h1v1h-1zM859 586h1v1h-1zM877 586h1v1h-1zM951 586h1v1h-1zM1020 586h1v1h-1zM1043 586h1v1h-1zM1079 586h2v1h-2zM1150 586h6v1h-6zM13 587h1v1h-1zM20 587h2v1h-2zM143 587h2v1h-2zM149 587h7v1h-7zM200 587h1v1h-1zM243 587h1v1h-1zM282 587h1v1h-1zM301 587h3v1h-3zM308 587h1v1h-1zM328 587h1v1h-1zM351 587h1v1h-1zM375 587h1v1h-1zM422 587h1v1h-1zM444 587h1v1h-1zM575 587h5v1h-5zM587 587h2v1h-2zM595 587h1v1h-1zM636 587h2v1h-2zM640 587h2v1h-2zM833 587h1v1h-1zM858 587h1v1h-1zM877 587h1v1h-1zM949 587h3v1h-3zM1021 587h1v1h-1zM1041 587h2v1h-2zM14 588h1v1h-1zM18 588h2v1h-2zM201 588h1v1h-1zM225 588h3v1h-3zM239 588h5v1h-5zM283 588h2v1h-2zM289 588h12v1h-12zM304 588h2v1h-2zM307 588h1v1h-1zM329 588h1v1h-1zM350 588h1v1h-1zM422 588h1v1h-1zM443 588h1v1h-1zM589 588h7v1h-7zM638 588h2v1h-2zM834 588h1v1h-1zM858 588h1v1h-1zM878 588h1v1h-1zM946 588h3v1h-3zM1022 588h1v1h-1zM1040 588h1v1h-1zM14 589h1v1h-1zM16 589h2v1h-2zM201 589h1v1h-1zM223 589h2v1h-2zM228 589h1v1h-1zM239 589h1v1h-1zM285 589h4v1h-4zM306 589h2v1h-2zM330 589h1v1h-1zM350 589h1v1h-1zM423 589h2v1h-2zM429 589h4v1h-4zM442 589h1v1h-1zM835 589h1v1h-1zM857 589h1v1h-1zM879 589h1v1h-1zM944 589h2v1h-2zM1022 589h1v1h-1zM1039 589h1v1h-1zM15 590h1v1h-1zM202 590h1v1h-1zM211 590h1v1h-1zM222 590h1v1h-1zM229 590h2v1h-2zM238 590h1v1h-1zM331 590h1v1h-1zM350 590h1v1h-1zM425 590h4v1h-4zM433 590h3v1h-3zM441 590h1v1h-1zM836 590h1v1h-1zM842 590h2v1h-2zM857 590h1v1h-1zM880 590h2v1h-2zM937 590h7v1h-7zM1023 590h1v1h-1zM1038 590h1v1h-1zM202 591h1v1h-1zM209 591h2v1h-2zM212 591h1v1h-1zM221 591h1v1h-1zM231 591h1v1h-1zM238 591h1v1h-1zM332 591h1v1h-1zM349 591h1v1h-1zM436 591h1v1h-1zM441 591h1v1h-1zM837 591h2v1h-2zM840 591h2v1h-2zM844 591h2v1h-2zM856 591h1v1h-1zM882 591h2v1h-2zM935 591h2v1h-2zM1024 591h1v1h-1zM1038 591h1v1h-1zM203 592h2v1h-2zM208 592h1v1h-1zM213 592h1v1h-1zM220 592h1v1h-1zM232 592h1v1h-1zM237 592h1v1h-1zM332 592h1v1h-1zM349 592h1v1h-1zM437 592h2v1h-2zM440 592h1v1h-1zM839 592h1v1h-1zM846 592h2v1h-2zM856 592h1v1h-1zM884 592h2v1h-2zM935 592h1v1h-1zM1025 592h1v1h-1zM1037 592h1v1h-1zM205 593h3v1h-3zM214 593h1v1h-1zM217 593h3v1h-3zM232 593h1v1h-1zM237 593h1v1h-1zM333 593h1v1h-1zM349 593h1v1h-1zM439 593h1v1h-1zM848 593h2v1h-2zM853 593h3v1h-3zM886 593h3v1h-3zM934 593h1v1h-1zM1025 593h1v1h-1zM1037 593h1v1h-1zM215 594h2v1h-2zM233 594h1v1h-1zM237 594h1v1h-1zM334 594h1v1h-1zM348 594h1v1h-1zM850 594h3v1h-3zM889 594h3v1h-3zM934 594h1v1h-1zM1026 594h1v1h-1zM1036 594h1v1h-1zM233 595h1v1h-1zM236 595h1v1h-1zM334 595h1v1h-1zM348 595h1v1h-1zM892 595h2v1h-2zM934 595h1v1h-1zM1027 595h6v1h-6zM1036 595h1v1h-1zM234 596h1v1h-1zM236 596h1v1h-1zM335 596h2v1h-2zM348 596h1v1h-1zM894 596h3v1h-3zM933 596h1v1h-1zM1033 596h3v1h-3zM234 597h2v1h-2zM337 597h4v1h-4zM347 597h1v1h-1zM897 597h3v1h-3zM933 597h1v1h-1zM235 598h1v1h-1zM341 598h7v1h-7zM900 598h2v1h-2zM933 598h1v1h-1zM902 599h2v1h-2zM932 599h1v1h-1zM904 600h1v1h-1zM932 600h1v1h-1zM905 601h2v1h-2zM932 601h1v1h-1zM907 602h2v1h-2zM931 602h1v1h-1zM909 603h8v1h-8zM931 603h1v1h-1zM917 604h7v1h-7zM929 604h2v1h-2zM924 605h2v1h-2zM928 605h1v1h-1zM926 606h2v1h-2z" fill="#1E90FF"/>
</g>
<text x="7.5" y="544" font-size="9.6" fill="#000" stroke="#000" stroke-width="0.25" textLength="67.5" lengthAdjust="spacingAndGlyphs">RSI(14) 46.7568</text>
<rect x="1519" y="533" width="2" height="1" fill="#000"/>
<text x="1521.5" y="541.7" font-size="9.6" fill="#000" stroke="#000" stroke-width="0.25">100</text>
<text x="1521.5" y="563" font-size="9.6" fill="#000" stroke="#000" stroke-width="0.25">70</text>
<text x="1521.5" y="599" font-size="9.6" fill="#000" stroke="#000" stroke-width="0.25">30</text>
<text x="1521.5" y="620" font-size="9.6" fill="#000" stroke="#000" stroke-width="0.25">0</text>
<g clip-path="url(#cd)" shape-rendering="crispEdges">
<rect x="3" y="677" width="1" height="6" fill="#C0C0C0"/>
<rect x="7" y="677" width="1" height="6" fill="#C0C0C0"/>
<rect x="11" y="677" width="1" height="6" fill="#C0C0C0"/>
<rect x="15" y="677" width="1" height="7" fill="#C0C0C0"/>
<rect x="19" y="677" width="1" height="8" fill="#C0C0C0"/>
<rect x="23" y="677" width="1" height="8" fill="#C0C0C0"/>
<rect x="27" y="677" width="1" height="8" fill="#C0C0C0"/>
<rect x="31" y="677" width="1" height="6" fill="#C0C0C0"/>
<rect x="35" y="677" width="1" height="3" fill="#C0C0C0"/>
<rect x="39" y="677" width="1" height="1" fill="#C0C0C0"/>
<rect x="43" y="673" width="1" height="5" fill="#C0C0C0"/>
<rect x="47" y="670" width="1" height="8" fill="#C0C0C0"/>
<rect x="51" y="666" width="1" height="12" fill="#C0C0C0"/>
<rect x="55" y="665" width="1" height="13" fill="#C0C0C0"/>
<rect x="59" y="663" width="1" height="15" fill="#C0C0C0"/>
<rect x="63" y="663" width="1" height="15" fill="#C0C0C0"/>
<rect x="67" y="664" width="1" height="14" fill="#C0C0C0"/>
<rect x="71" y="667" width="1" height="11" fill="#C0C0C0"/>
<rect x="75" y="670" width="1" height="8" fill="#C0C0C0"/>
<rect x="79" y="671" width="1" height="7" fill="#C0C0C0"/>
<rect x="83" y="673" width="1" height="5" fill="#C0C0C0"/>
<rect x="87" y="675" width="1" height="3" fill="#C0C0C0"/>
<rect x="91" y="673" width="1" height="5" fill="#C0C0C0"/>
<rect x="95" y="671" width="1" height="7" fill="#C0C0C0"/>
<rect x="99" y="667" width="1" height="11" fill="#C0C0C0"/>
<rect x="103" y="664" width="1" height="14" fill="#C0C0C0"/>
<rect x="107" y="661" width="1" height="17" fill="#C0C0C0"/>
<rect x="111" y="660" width="1" height="18" fill="#C0C0C0"/>
<rect x="115" y="659" width="1" height="19" fill="#C0C0C0"/>
<rect x="119" y="659" width="1" height="19" fill="#C0C0C0"/>
<rect x="123" y="658" width="1" height="20" fill="#C0C0C0"/>
<rect x="127" y="661" width="1" height="17" fill="#C0C0C0"/>
<rect x="131" y="664" width="1" height="14" fill="#C0C0C0"/>
<rect x="135" y="667" width="1" height="11" fill="#C0C0C0"/>
<rect x="139" y="669" width="1" height="9" fill="#C0C0C0"/>
<rect x="143" y="673" width="1" height="5" fill="#C0C0C0"/>
<rect x="147" y="676" width="1" height="2" fill="#C0C0C0"/>
<rect x="151" y="677" width="1" height="3" fill="#C0C0C0"/>
<rect x="155" y="677" width="1" height="6" fill="#C0C0C0"/>
<rect x="159" y="677" width="1" height="6" fill="#C0C0C0"/>
<rect x="163" y="677" width="1" height="5" fill="#C0C0C0"/>
<rect x="167" y="677" width="1" height="5" fill="#C0C0C0"/>
<rect x="171" y="677" width="1" height="5" fill="#C0C0C0"/>
<rect x="175" y="677" width="1" height="5" fill="#C0C0C0"/>
<rect x="179" y="677" width="1" height="6" fill="#C0C0C0"/>
<rect x="183" y="677" width="1" height="7" fill="#C0C0C0"/>
<rect x="187" y="677" width="1" height="7" fill="#C0C0C0"/>
<rect x="191" y="677" width="1" height="8" fill="#C0C0C0"/>
<rect x="195" y="677" width="1" height="8" fill="#C0C0C0"/>
<rect x="199" y="677" width="1" height="9" fill="#C0C0C0"/>
<rect x="203" y="677" width="1" height="11" fill="#C0C0C0"/>
<rect x="207" y="677" width="1" height="13" fill="#C0C0C0"/>
<rect x="211" y="677" width="1" height="15" fill="#C0C0C0"/>
<rect x="215" y="677" width="1" height="17" fill="#C0C0C0"/>
<rect x="219" y="677" width="1" height="18" fill="#C0C0C0"/>
<rect x="223" y="677" width="1" height="18" fill="#C0C0C0"/>
<rect x="227" y="677" width="1" height="18" fill="#C0C0C0"/>
<rect x="231" y="677" width="1" height="18" fill="#C0C0C0"/>
<rect x="235" y="677" width="1" height="20" fill="#C0C0C0"/>
<rect x="239" y="677" width="1" height="20" fill="#C0C0C0"/>
<rect x="243" y="677" width="1" height="20" fill="#C0C0C0"/>
<rect x="247" y="677" width="1" height="16" fill="#C0C0C0"/>
<rect x="251" y="677" width="1" height="13" fill="#C0C0C0"/>
<rect x="255" y="677" width="1" height="10" fill="#C0C0C0"/>
<rect x="259" y="677" width="1" height="8" fill="#C0C0C0"/>
<rect x="263" y="677" width="1" height="5" fill="#C0C0C0"/>
<rect x="267" y="677" width="1" height="4" fill="#C0C0C0"/>
<rect x="271" y="677" width="1" height="3" fill="#C0C0C0"/>
<rect x="275" y="677" width="1" height="3" fill="#C0C0C0"/>
<rect x="279" y="677" width="1" height="5" fill="#C0C0C0"/>
<rect x="283" y="677" width="1" height="7" fill="#C0C0C0"/>
<rect x="287" y="677" width="1" height="10" fill="#C0C0C0"/>
<rect x="291" y="677" width="1" height="11" fill="#C0C0C0"/>
<rect x="295" y="677" width="1" height="12" fill="#C0C0C0"/>
<rect x="299" y="677" width="1" height="13" fill="#C0C0C0"/>
<rect x="303" y="677" width="1" height="14" fill="#C0C0C0"/>
<rect x="307" y="677" width="1" height="14" fill="#C0C0C0"/>
<rect x="311" y="677" width="1" height="12" fill="#C0C0C0"/>
<rect x="315" y="677" width="1" height="11" fill="#C0C0C0"/>
<rect x="319" y="677" width="1" height="11" fill="#C0C0C0"/>
<rect x="323" y="677" width="1" height="12" fill="#C0C0C0"/>
<rect x="327" y="677" width="1" height="12" fill="#C0C0C0"/>
<rect x="331" y="677" width="1" height="13" fill="#C0C0C0"/>
<rect x="335" y="677" width="1" height="17" fill="#C0C0C0"/>
<rect x="339" y="677" width="1" height="19" fill="#C0C0C0"/>
<rect x="343" y="677" width="1" height="22" fill="#C0C0C0"/>
<rect x="347" y="677" width="1" height="23" fill="#C0C0C0"/>
<rect x="351" y="677" width="1" height="22" fill="#C0C0C0"/>
<rect x="355" y="677" width="1" height="21" fill="#C0C0C0"/>
<rect x="359" y="677" width="1" height="19" fill="#C0C0C0"/>
<rect x="363" y="677" width="1" height="18" fill="#C0C0C0"/>
<rect x="367" y="677" width="1" height="16" fill="#C0C0C0"/>
<rect x="371" y="677" width="1" height="15" fill="#C0C0C0"/>
<rect x="375" y="677" width="1" height="16" fill="#C0C0C0"/>
<rect x="379" y="677" width="1" height="13" fill="#C0C0C0"/>
<rect x="383" y="677" width="1" height="11" fill="#C0C0C0"/>
<rect x="387" y="677" width="1" height="10" fill="#C0C0C0"/>
<rect x="391" y="677" width="1" height="11" fill="#C0C0C0"/>
<rect x="395" y="677" width="1" height="9" fill="#C0C0C0"/>
<rect x="399" y="677" width="1" height="8" fill="#C0C0C0"/>
<rect x="403" y="677" width="1" height="8" fill="#C0C0C0"/>
<rect x="407" y="677" width="1" height="9" fill="#C0C0C0"/>
<rect x="411" y="677" width="1" height="9" fill="#C0C0C0"/>
<rect x="415" y="677" width="1" height="10" fill="#C0C0C0"/>
<rect x="419" y="677" width="1" height="11" fill="#C0C0C0"/>
<rect x="423" y="677" width="1" height="13" fill="#C0C0C0"/>
<rect x="427" y="677" width="1" height="15" fill="#C0C0C0"/>
<rect x="431" y="677" width="1" height="16" fill="#C0C0C0"/>
<rect x="435" y="677" width="1" height="17" fill="#C0C0C0"/>
<rect x="439" y="677" width="1" height="18" fill="#C0C0C0"/>
<rect x="443" y="677" width="1" height="19" fill="#C0C0C0"/>
<rect x="447" y="677" width="1" height="18" fill="#C0C0C0"/>
<rect x="451" y="677" width="1" height="16" fill="#C0C0C0"/>
<rect x="455" y="677" width="1" height="15" fill="#C0C0C0"/>
<rect x="459" y="677" width="1" height="13" fill="#C0C0C0"/>
<rect x="463" y="677" width="1" height="12" fill="#C0C0C0"/>
<rect x="467" y="677" width="1" height="12" fill="#C0C0C0"/>
<rect x="471" y="677" width="1" height="11" fill="#C0C0C0"/>
<rect x="475" y="677" width="1" height="8" fill="#C0C0C0"/>
<rect x="479" y="677" width="1" height="6" fill="#C0C0C0"/>
<rect x="483" y="677" width="1" height="3" fill="#C0C0C0"/>
<rect x="487" y="677" width="1" height="2" fill="#C0C0C0"/>
<rect x="491" y="677" width="1" height="1" fill="#C0C0C0"/>
<rect x="495" y="674" width="1" height="4" fill="#C0C0C0"/>
<rect x="499" y="670" width="1" height="8" fill="#C0C0C0"/>
<rect x="503" y="667" width="1" height="11" fill="#C0C0C0"/>
<rect x="507" y="663" width="1" height="15" fill="#C0C0C0"/>
<rect x="511" y="662" width="1" height="16" fill="#C0C0C0"/>
<rect x="515" y="661" width="1" height="17" fill="#C0C0C0"/>
<rect x="519" y="661" width="1" height="17" fill="#C0C0C0"/>
<rect x="523" y="662" width="1" height="16" fill="#C0C0C0"/>
<rect x="527" y="664" width="1" height="14" fill="#C0C0C0"/>
<rect x="531" y="665" width="1" height="13" fill="#C0C0C0"/>
<rect x="535" y="666" width="1" height="12" fill="#C0C0C0"/>
<rect x="539" y="666" width="1" height="12" fill="#C0C0C0"/>
<rect x="543" y="666" width="1" height="12" fill="#C0C0C0"/>
<rect x="547" y="665" width="1" height="13" fill="#C0C0C0"/>
<rect x="551" y="663" width="1" height="15" fill="#C0C0C0"/>
<rect x="555" y="663" width="1" height="15" fill="#C0C0C0"/>
<rect x="559" y="663" width="1" height="15" fill="#C0C0C0"/>
<rect x="563" y="666" width="1" height="12" fill="#C0C0C0"/>
<rect x="567" y="668" width="1" height="10" fill="#C0C0C0"/>
<rect x="571" y="672" width="1" height="6" fill="#C0C0C0"/>
<rect x="575" y="675" width="1" height="3" fill="#C0C0C0"/>
<rect x="579" y="677" width="1" height="2" fill="#C0C0C0"/>
<rect x="583" y="677" width="1" height="3" fill="#C0C0C0"/>
<rect x="587" y="677" width="1" height="5" fill="#C0C0C0"/>
<rect x="591" y="677" width="1" height="7" fill="#C0C0C0"/>
<rect x="595" y="677" width="1" height="8" fill="#C0C0C0"/>
<rect x="599" y="677" width="1" height="8" fill="#C0C0C0"/>
<rect x="603" y="677" width="1" height="7" fill="#C0C0C0"/>
<rect x="607" y="677" width="1" height="5" fill="#C0C0C0"/>
<rect x="611" y="677" width="1" height="4" fill="#C0C0C0"/>
<rect x="615" y="677" width="1" height="4" fill="#C0C0C0"/>
<rect x="619" y="677" width="1" height="3" fill="#C0C0C0"/>
<rect x="623" y="677" width="1" height="4" fill="#C0C0C0"/>
<rect x="627" y="677" width="1" height="5" fill="#C0C0C0"/>
<rect x="631" y="677" width="1" height="6" fill="#C0C0C0"/>
<rect x="635" y="677" width="1" height="7" fill="#C0C0C0"/>
<rect x="639" y="677" width="1" height="8" fill="#C0C0C0"/>
<rect x="643" y="677" width="1" height="9" fill="#C0C0C0"/>
<rect x="647" y="677" width="1" height="8" fill="#C0C0C0"/>
<rect x="651" y="677" width="1" height="8" fill="#C0C0C0"/>
<rect x="655" y="677" width="1" height="6" fill="#C0C0C0"/>
<rect x="659" y="677" width="1" height="4" fill="#C0C0C0"/>
<rect x="663" y="677" width="1" height="2" fill="#C0C0C0"/>
<rect x="667" y="676" width="1" height="2" fill="#C0C0C0"/>
<rect x="671" y="677" width="1" height="1" fill="#C0C0C0"/>
<rect x="675" y="677" width="1" height="1" fill="#C0C0C0"/>
<rect x="679" y="676" width="1" height="2" fill="#C0C0C0"/>
<rect x="683" y="675" width="1" height="3" fill="#C0C0C0"/>
<rect x="687" y="675" width="1" height="3" fill="#C0C0C0"/>
<rect x="691" y="673" width="1" height="5" fill="#C0C0C0"/>
<rect x="695" y="671" width="1" height="7" fill="#C0C0C0"/>
<rect x="699" y="670" width="1" height="8" fill="#C0C0C0"/>
<rect x="703" y="669" width="1" height="9" fill="#C0C0C0"/>
<rect x="707" y="667" width="1" height="11" fill="#C0C0C0"/>
<rect x="711" y="667" width="1" height="11" fill="#C0C0C0"/>
<rect x="715" y="668" width="1" height="10" fill="#C0C0C0"/>
<rect x="719" y="669" width="1" height="9" fill="#C0C0C0"/>
<rect x="723" y="671" width="1" height="7" fill="#C0C0C0"/>
<rect x="727" y="672" width="1" height="6" fill="#C0C0C0"/>
<rect x="731" y="673" width="1" height="5" fill="#C0C0C0"/>
<rect x="735" y="674" width="1" height="4" fill="#C0C0C0"/>
<rect x="739" y="674" width="1" height="4" fill="#C0C0C0"/>
<rect x="743" y="672" width="1" height="6" fill="#C0C0C0"/>
<rect x="747" y="669" width="1" height="9" fill="#C0C0C0"/>
<rect x="751" y="667" width="1" height="11" fill="#C0C0C0"/>
<rect x="755" y="664" width="1" height="14" fill="#C0C0C0"/>
<rect x="759" y="663" width="1" height="15" fill="#C0C0C0"/>
<rect x="763" y="662" width="1" height="16" fill="#C0C0C0"/>
<rect x="767" y="663" width="1" height="15" fill="#C0C0C0"/>
<rect x="771" y="664" width="1" height="14" fill="#C0C0C0"/>
<rect x="775" y="664" width="1" height="14" fill="#C0C0C0"/>
<rect x="779" y="666" width="1" height="12" fill="#C0C0C0"/>
<rect x="783" y="669" width="1" height="9" fill="#C0C0C0"/>
<rect x="787" y="671" width="1" height="7" fill="#C0C0C0"/>
<rect x="791" y="673" width="1" height="5" fill="#C0C0C0"/>
<rect x="795" y="674" width="1" height="4" fill="#C0C0C0"/>
<rect x="799" y="675" width="1" height="3" fill="#C0C0C0"/>
<rect x="803" y="675" width="1" height="3" fill="#C0C0C0"/>
<rect x="807" y="675" width="1" height="3" fill="#C0C0C0"/>
<rect x="811" y="675" width="1" height="3" fill="#C0C0C0"/>
<rect x="815" y="677" width="1" height="1" fill="#C0C0C0"/>
<rect x="819" y="677" width="1" height="2" fill="#C0C0C0"/>
<rect x="823" y="677" width="1" height="4" fill="#C0C0C0"/>
<rect x="827" y="677" width="1" height="5" fill="#C0C0C0"/>
<rect x="831" y="677" width="1" height="6" fill="#C0C0C0"/>
<rect x="835" y="677" width="1" height="8" fill="#C0C0C0"/>
<rect x="839" y="677" width="1" height="10" fill="#C0C0C0"/>
<rect x="843" y="677" width="1" height="12" fill="#C0C0C0"/>
<rect x="847" y="677" width="1" height="13" fill="#C0C0C0"/>
<rect x="851" y="677" width="1" height="15" fill="#C0C0C0"/>
<rect x="855" y="677" width="1" height="16" fill="#C0C0C0"/>
<rect x="859" y="677" width="1" height="15" fill="#C0C0C0"/>
<rect x="863" y="677" width="1" height="13" fill="#C0C0C0"/>
<rect x="867" y="677" width="1" height="11" fill="#C0C0C0"/>
<rect x="871" y="677" width="1" height="10" fill="#C0C0C0"/>
<rect x="875" y="677" width="1" height="10" fill="#C0C0C0"/>
<rect x="879" y="677" width="1" height="12" fill="#C0C0C0"/>
<rect x="883" y="677" width="1" height="14" fill="#C0C0C0"/>
<rect x="887" y="677" width="1" height="16" fill="#C0C0C0"/>
<rect x="891" y="677" width="1" height="17" fill="#C0C0C0"/>
<rect x="895" y="677" width="1" height="19" fill="#C0C0C0"/>
<rect x="899" y="677" width="1" height="21" fill="#C0C0C0"/>
<rect x="903" y="677" width="1" height="23" fill="#C0C0C0"/>
<rect x="907" y="677" width="1" height="26" fill="#C0C0C0"/>
<rect x="911" y="677" width="1" height="28" fill="#C0C0C0"/>
<rect x="915" y="677" width="1" height="29" fill="#C0C0C0"/>
<rect x="919" y="677" width="1" height="31" fill="#C0C0C0"/>
<rect x="923" y="677" width="1" height="31" fill="#C0C0C0"/>
<rect x="927" y="677" width="1" height="33" fill="#C0C0C0"/>
<rect x="931" y="677" width="1" height="33" fill="#C0C0C0"/>
<rect x="935" y="677" width="1" height="31" fill="#C0C0C0"/>
<rect x="939" y="677" width="1" height="29" fill="#C0C0C0"/>
<rect x="943" y="677" width="1" height="27" fill="#C0C0C0"/>
<rect x="947" y="677" width="1" height="25" fill="#C0C0C0"/>
<rect x="951" y="677" width="1" height="23" fill="#C0C0C0"/>
<rect x="955" y="677" width="1" height="17" fill="#C0C0C0"/>
<rect x="959" y="677" width="1" height="13" fill="#C0C0C0"/>
<rect x="963" y="677" width="1" height="7" fill="#C0C0C0"/>
<rect x="967" y="675" width="1" height="3" fill="#C0C0C0"/>
<rect x="971" y="667" width="1" height="11" fill="#C0C0C0"/>
<rect x="975" y="662" width="1" height="16" fill="#C0C0C0"/>
<rect x="979" y="657" width="1" height="21" fill="#C0C0C0"/>
<rect x="983" y="649" width="1" height="29" fill="#C0C0C0"/>
<rect x="987" y="642" width="1" height="36" fill="#C0C0C0"/>
<rect x="991" y="634" width="1" height="44" fill="#C0C0C0"/>
<rect x="995" y="631" width="1" height="47" fill="#C0C0C0"/>
<rect x="999" y="631" width="1" height="47" fill="#C0C0C0"/>
<rect x="1003" y="639" width="1" height="39" fill="#C0C0C0"/>
<rect x="1007" y="646" width="1" height="32" fill="#C0C0C0"/>
<rect x="1011" y="652" width="1" height="26" fill="#C0C0C0"/>
<rect x="1015" y="654" width="1" height="24" fill="#C0C0C0"/>
<rect x="1019" y="662" width="1" height="16" fill="#C0C0C0"/>
<rect x="1023" y="674" width="1" height="4" fill="#C0C0C0"/>
<rect x="1027" y="677" width="1" height="12" fill="#C0C0C0"/>
<rect x="1031" y="677" width="1" height="23" fill="#C0C0C0"/>
<rect x="1035" y="677" width="1" height="33" fill="#C0C0C0"/>
<rect x="1039" y="677" width="1" height="36" fill="#C0C0C0"/>
<rect x="1043" y="677" width="1" height="37" fill="#C0C0C0"/>
<rect x="1047" y="677" width="1" height="36" fill="#C0C0C0"/>
<rect x="1051" y="677" width="1" height="28" fill="#C0C0C0"/>
<rect x="1055" y="677" width="1" height="20" fill="#C0C0C0"/>
<rect x="1059" y="677" width="1" height="12" fill="#C0C0C0"/>
<rect x="1063" y="677" width="1" height="9" fill="#C0C0C0"/>
<rect x="1067" y="677" width="1" height="6" fill="#C0C0C0"/>
<rect x="1071" y="677" width="1" height="7" fill="#C0C0C0"/>
<rect x="1075" y="677" width="1" height="11" fill="#C0C0C0"/>
<rect x="1079" y="677" width="1" height="15" fill="#C0C0C0"/>
<rect x="1083" y="677" width="1" height="18" fill="#C0C0C0"/>
<rect x="1087" y="677" width="1" height="21" fill="#C0C0C0"/>
<rect x="1091" y="677" width="1" height="20" fill="#C0C0C0"/>
<rect x="1095" y="677" width="1" height="19" fill="#C0C0C0"/>
<rect x="1099" y="677" width="1" height="16" fill="#C0C0C0"/>
<rect x="1103" y="677" width="1" height="13" fill="#C0C0C0"/>
<rect x="1107" y="677" width="1" height="11" fill="#C0C0C0"/>
<rect x="1111" y="677" width="1" height="11" fill="#C0C0C0"/>
<rect x="1115" y="677" width="1" height="8" fill="#C0C0C0"/>
<rect x="1119" y="677" width="1" height="7" fill="#C0C0C0"/>
<rect x="1123" y="677" width="1" height="10" fill="#C0C0C0"/>
<rect x="1127" y="677" width="1" height="10" fill="#C0C0C0"/>
<rect x="1131" y="677" width="1" height="10" fill="#C0C0C0"/>
<rect x="1135" y="677" width="1" height="11" fill="#C0C0C0"/>
<rect x="1139" y="677" width="1" height="11" fill="#C0C0C0"/>
<rect x="1143" y="677" width="1" height="13" fill="#C0C0C0"/>
<rect x="1147" y="677" width="1" height="14" fill="#C0C0C0"/>
<rect x="1151" y="677" width="1" height="16" fill="#C0C0C0"/>
<rect x="1155" y="677" width="1" height="17" fill="#C0C0C0"/>
<rect x="1159" y="677" width="1" height="16" fill="#C0C0C0"/>
<rect x="1163" y="677" width="1" height="16" fill="#C0C0C0"/>
<rect x="1167" y="677" width="1" height="14" fill="#C0C0C0"/>
<rect x="1171" y="677" width="1" height="10" fill="#C0C0C0"/>
<rect x="1175" y="677" width="1" height="4" fill="#C0C0C0"/>
<rect x="1179" y="677" width="1" height="1" fill="#C0C0C0"/>
<rect x="1183" y="676" width="1" height="2" fill="#C0C0C0"/>
<rect x="1187" y="677" width="1" height="2" fill="#C0C0C0"/>
<rect x="1191" y="677" width="1" height="5" fill="#C0C0C0"/>
<rect x="1195" y="677" width="1" height="7" fill="#C0C0C0"/>
<rect x="1199" y="677" width="1" height="7" fill="#C0C0C0"/>
<rect x="1203" y="677" width="1" height="8" fill="#C0C0C0"/>
<rect x="1207" y="677" width="1" height="8" fill="#C0C0C0"/>
<path d="M1010 642h3v1h-3zM1016 642h1v1h-1zM1017 643h2v1h-2zM1005 644h2v1h-2zM1004 645h1v1h-1zM1022 646h1v1h-1zM1023 647h1v1h-1zM1024 648h1v1h-1zM1000 649h1v1h-1zM999 650h1v1h-1zM998 651h1v1h-1zM1026 652h1v1h-1zM1027 653h1v1h-1zM1028 654h1v1h-1zM995 655h1v1h-1zM994 656h1v1h-1zM994 657h1v1h-1zM1030 658h1v1h-1zM1030 659h1v1h-1zM1031 660h1v1h-1zM129 661h3v1h-3zM135 661h2v1h-2zM992 661h1v1h-1zM125 662h1v1h-1zM137 662h1v1h-1zM991 662h1v1h-1zM123 663h2v1h-2zM141 663h3v1h-3zM533 663h1v1h-1zM537 663h3v1h-3zM990 663h1v1h-1zM531 664h2v1h-2zM543 664h3v1h-3zM549 664h3v1h-3zM555 664h2v1h-2zM1033 664h1v1h-1zM118 665h2v1h-2zM147 665h1v1h-1zM525 665h3v1h-3zM557 665h1v1h-1zM561 665h3v1h-3zM567 665h2v1h-2zM773 665h1v1h-1zM777 665h3v1h-3zM783 665h3v1h-3zM1033 665h1v1h-1zM77 666h1v1h-1zM117 666h1v1h-1zM148 666h2v1h-2zM569 666h1v1h-1zM771 666h2v1h-2zM789 666h3v1h-3zM1034 666h1v1h-1zM70 667h2v1h-2zM75 667h2v1h-2zM81 667h3v1h-3zM113 667h1v1h-1zM520 667h2v1h-2zM573 667h3v1h-3zM795 667h1v1h-1zM988 667h1v1h-1zM69 668h1v1h-1zM87 668h2v1h-2zM111 668h2v1h-2zM519 668h1v1h-1zM579 668h1v1h-1zM765 668h3v1h-3zM796 668h2v1h-2zM987 668h1v1h-1zM89 669h1v1h-1zM105 669h3v1h-3zM153 669h2v1h-2zM580 669h2v1h-2zM761 669h1v1h-1zM986 669h1v1h-1zM64 670h2v1h-2zM93 670h3v1h-3zM99 670h3v1h-3zM155 670h1v1h-1zM514 670h2v1h-2zM717 670h3v1h-3zM723 670h3v1h-3zM729 670h3v1h-3zM735 670h2v1h-2zM759 670h2v1h-2zM801 670h3v1h-3zM1036 670h1v1h-1zM63 671h1v1h-1zM513 671h1v1h-1zM585 671h1v1h-1zM713 671h1v1h-1zM737 671h1v1h-1zM741 671h3v1h-3zM747 671h3v1h-3zM753 671h3v1h-3zM807 671h1v1h-1zM1036 671h1v1h-1zM586 672h2v1h-2zM711 672h2v1h-2zM808 672h2v1h-2zM1037 672h1v1h-1zM59 673h1v1h-1zM159 673h1v1h-1zM509 673h1v1h-1zM705 673h3v1h-3zM984 673h1v1h-1zM57 674h2v1h-2zM160 674h2v1h-2zM508 674h1v1h-1zM591 674h1v1h-1zM701 674h1v1h-1zM813 674h3v1h-3zM984 674h1v1h-1zM507 675h1v1h-1zM592 675h2v1h-2zM693 675h3v1h-3zM699 675h2v1h-2zM819 675h2v1h-2zM983 675h1v1h-1zM165 676h1v1h-1zM689 676h1v1h-1zM821 676h1v1h-1zM1039 676h1v1h-1zM52 677h2v1h-2zM166 677h2v1h-2zM597 677h1v1h-1zM687 677h2v1h-2zM825 677h3v1h-3zM1039 677h1v1h-1zM51 678h1v1h-1zM171 678h1v1h-1zM502 678h2v1h-2zM598 678h2v1h-2zM831 678h2v1h-2zM1040 678h1v1h-1zM172 679h2v1h-2zM501 679h1v1h-1zM677 679h1v1h-1zM681 679h3v1h-3zM833 679h1v1h-1zM980 679h1v1h-1zM45 680h3v1h-3zM603 680h2v1h-2zM675 680h2v1h-2zM837 680h3v1h-3zM980 680h1v1h-1zM41 681h1v1h-1zM177 681h3v1h-3zM183 681h2v1h-2zM496 681h2v1h-2zM605 681h1v1h-1zM627 681h3v1h-3zM633 681h3v1h-3zM639 681h2v1h-2zM669 681h3v1h-3zM843 681h1v1h-1zM979 681h1v1h-1zM1204 681h3v1h-3zM3 682h2v1h-2zM33 682h3v1h-3zM39 682h2v1h-2zM185 682h1v1h-1zM189 682h3v1h-3zM195 682h2v1h-2zM285 682h3v1h-3zM291 682h2v1h-2zM495 682h1v1h-1zM609 682h3v1h-3zM615 682h3v1h-3zM621 682h3v1h-3zM641 682h1v1h-1zM645 682h3v1h-3zM651 682h2v1h-2zM665 682h1v1h-1zM844 682h2v1h-2zM1042 682h1v1h-1zM1198 682h3v1h-3zM5 683h1v1h-1zM9 683h3v1h-3zM15 683h3v1h-3zM21 683h3v1h-3zM27 683h3v1h-3zM197 683h1v1h-1zM201 683h3v1h-3zM281 683h1v1h-1zM293 683h1v1h-1zM490 683h2v1h-2zM653 683h1v1h-1zM657 683h3v1h-3zM663 683h2v1h-2zM1042 683h1v1h-1zM1193 683h2v1h-2zM207 684h2v1h-2zM279 684h2v1h-2zM297 684h3v1h-3zM489 684h1v1h-1zM849 684h3v1h-3zM1043 684h1v1h-1zM1192 684h1v1h-1zM209 685h1v1h-1zM274 685h2v1h-2zM303 685h2v1h-2zM413 685h1v1h-1zM417 685h3v1h-3zM976 685h1v1h-1zM1186 685h3v1h-3zM213 686h1v1h-1zM273 686h1v1h-1zM305 686h1v1h-1zM405 686h3v1h-3zM411 686h2v1h-2zM423 686h3v1h-3zM484 686h2v1h-2zM855 686h2v1h-2zM975 686h1v1h-1zM1133 686h2v1h-2zM1138 686h3v1h-3zM1144 686h3v1h-3zM1182 686h1v1h-1zM214 687h2v1h-2zM309 687h3v1h-3zM401 687h1v1h-1zM429 687h3v1h-3zM483 687h1v1h-1zM857 687h1v1h-1zM974 687h1v1h-1zM1132 687h1v1h-1zM1150 687h3v1h-3zM1180 687h2v1h-2zM219 688h2v1h-2zM268 688h2v1h-2zM315 688h3v1h-3zM321 688h3v1h-3zM327 688h2v1h-2zM399 688h2v1h-2zM435 688h2v1h-2zM478 688h2v1h-2zM861 688h3v1h-3zM1045 688h1v1h-1zM1126 688h3v1h-3zM1156 688h1v1h-1zM221 689h1v1h-1zM267 689h1v1h-1zM329 689h1v1h-1zM333 689h3v1h-3zM393 689h3v1h-3zM437 689h1v1h-1zM477 689h1v1h-1zM867 689h3v1h-3zM873 689h3v1h-3zM879 689h3v1h-3zM885 689h3v1h-3zM891 689h2v1h-2zM1045 689h1v1h-1zM1085 689h2v1h-2zM1090 689h3v1h-3zM1121 689h2v1h-2zM1157 689h2v1h-2zM1174 689h3v1h-3zM225 690h3v1h-3zM339 690h3v1h-3zM389 690h1v1h-1zM441 690h3v1h-3zM473 690h1v1h-1zM893 690h1v1h-1zM1046 690h1v1h-1zM1084 690h1v1h-1zM1096 690h1v1h-1zM1120 690h1v1h-1zM1162 690h3v1h-3zM1168 690h3v1h-3zM231 691h2v1h-2zM261 691h3v1h-3zM345 691h1v1h-1zM387 691h2v1h-2zM447 691h2v1h-2zM465 691h3v1h-3zM471 691h2v1h-2zM897 691h3v1h-3zM971 691h1v1h-1zM1080 691h1v1h-1zM1097 691h2v1h-2zM1114 691h3v1h-3zM233 692h1v1h-1zM257 692h1v1h-1zM346 692h2v1h-2zM449 692h1v1h-1zM453 692h3v1h-3zM459 692h3v1h-3zM903 692h1v1h-1zM970 692h1v1h-1zM1079 692h1v1h-1zM1102 692h3v1h-3zM1108 692h3v1h-3zM237 693h3v1h-3zM255 693h2v1h-2zM351 693h2v1h-2zM381 693h3v1h-3zM904 693h2v1h-2zM969 693h1v1h-1zM1078 693h1v1h-1zM243 694h3v1h-3zM249 694h3v1h-3zM353 694h1v1h-1zM377 694h1v1h-1zM1049 694h1v1h-1zM357 695h3v1h-3zM363 695h2v1h-2zM375 695h2v1h-2zM909 695h3v1h-3zM1049 695h1v1h-1zM1074 695h1v1h-1zM365 696h1v1h-1zM369 696h3v1h-3zM1050 696h1v1h-1zM1072 696h2v1h-2zM915 697h1v1h-1zM965 697h1v1h-1zM916 698h2v1h-2zM964 698h1v1h-1zM963 699h1v1h-1zM1068 699h1v1h-1zM921 700h1v1h-1zM1054 700h1v1h-1zM1066 700h2v1h-2zM922 701h2v1h-2zM1055 701h2v1h-2zM958 702h2v1h-2zM1060 702h3v1h-3zM927 703h2v1h-2zM957 703h1v1h-1zM929 704h1v1h-1zM953 704h1v1h-1zM933 705h3v1h-3zM951 705h2v1h-2zM939 706h3v1h-3zM945 706h3v1h-3z" fill="#FF0000"/>
</g>
<text x="7.5" y="638.5" font-size="9.6" fill="#000" stroke="#000" stroke-width="0.25" textLength="153.5" lengthAdjust="spacingAndGlyphs">MACD(12,26,9) -0.001372 -0.000698</text>
<rect x="1519" y="677" width="3" height="1" fill="#000"/>
<text x="1522" y="636.5" font-size="9.6" fill="#000" stroke="#000" stroke-width="0.25" textLength="38" lengthAdjust="spacingAndGlyphs">0.011277</text>
<text x="1522" y="681.5" font-size="9.6" fill="#000" stroke="#000" stroke-width="0.25" textLength="17.5" lengthAdjust="spacingAndGlyphs">0.00</text>
<text x="1522" y="715" font-size="9.6" fill="#000" stroke="#000" stroke-width="0.25" textLength="40" lengthAdjust="spacingAndGlyphs">-0.008845</text>
<rect x="3" y="718" width="1" height="3" fill="#000"/>
<text x="1.8" y="730" font-size="9.6" fill="#000" stroke="#000" stroke-width="0.25" textLength="55" lengthAdjust="spacingAndGlyphs">25 May 2019</text>
<rect x="67" y="718" width="1" height="3" fill="#000"/>
<text x="65.8" y="730" font-size="9.6" fill="#000" stroke="#000" stroke-width="0.25" textLength="49" lengthAdjust="spacingAndGlyphs">13 Jun 2019</text>
<rect x="131" y="718" width="1" height="3" fill="#000"/>
<text x="129.8" y="730" font-size="9.6" fill="#000" stroke="#000" stroke-width="0.25" textLength="41.3" lengthAdjust="spacingAndGlyphs">2 Jul 2019</text>
<rect x="195" y="718" width="1" height="3" fill="#000"/>
<text x="193.8" y="730" font-size="9.6" fill="#000" stroke="#000" stroke-width="0.25" textLength="45.7" lengthAdjust="spacingAndGlyphs">20 Jul 2019</text>
<rect x="259" y="718" width="1" height="3" fill="#000"/>
<text x="257.8" y="730" font-size="9.6" fill="#000" stroke="#000" stroke-width="0.25" textLength="47.7" lengthAdjust="spacingAndGlyphs">8 Aug 2019</text>
<rect x="323" y="718" width="1" height="3" fill="#000"/>
<text x="321.8" y="730" font-size="9.6" fill="#000" stroke="#000" stroke-width="0.25" textLength="52.7" lengthAdjust="spacingAndGlyphs">27 Aug 2019</text>
<rect x="387" y="718" width="1" height="3" fill="#000"/>
<text x="385.8" y="730" font-size="9.6" fill="#000" stroke="#000" stroke-width="0.25" textLength="51" lengthAdjust="spacingAndGlyphs">14 Sep 2019</text>
<rect x="451" y="718" width="1" height="3" fill="#000"/>
<text x="449.8" y="730" font-size="9.6" fill="#000" stroke="#000" stroke-width="0.25" textLength="46" lengthAdjust="spacingAndGlyphs">3 Oct 2019</text>
<rect x="515" y="718" width="1" height="3" fill="#000"/>
<text x="513.8" y="730" font-size="9.6" fill="#000" stroke="#000" stroke-width="0.25" textLength="50.7" lengthAdjust="spacingAndGlyphs">22 Oct 2019</text>
<rect x="579" y="718" width="1" height="3" fill="#000"/>
<text x="577.8" y="730" font-size="9.6" fill="#000" stroke="#000" stroke-width="0.25" textLength="48.7" lengthAdjust="spacingAndGlyphs">9 Nov 2019</text>
<rect x="643" y="718" width="1" height="3" fill="#000"/>
<text x="641.8" y="730" font-size="9.6" fill="#000" stroke="#000" stroke-width="0.25" textLength="53.8" lengthAdjust="spacingAndGlyphs">28 Nov 2019</text>
<rect x="707" y="718" width="1" height="3" fill="#000"/>
<text x="705.8" y="730" font-size="9.6" fill="#000" stroke="#000" stroke-width="0.25" textLength="51.2" lengthAdjust="spacingAndGlyphs">17 Dec 2019</text>
<rect x="771" y="718" width="1" height="3" fill="#000"/>
<text x="769.8" y="730" font-size="9.6" fill="#000" stroke="#000" stroke-width="0.25" textLength="45.1" lengthAdjust="spacingAndGlyphs">4 Jan 2020</text>
<rect x="835" y="718" width="1" height="3" fill="#000"/>
<text x="833.8" y="730" font-size="9.6" fill="#000" stroke="#000" stroke-width="0.25" textLength="49.7" lengthAdjust="spacingAndGlyphs">23 Jan 2020</text>
<rect x="899" y="718" width="1" height="3" fill="#000"/>
<text x="897.8" y="730" font-size="9.6" fill="#000" stroke="#000" stroke-width="0.25" textLength="51.3" lengthAdjust="spacingAndGlyphs">11 Feb 2020</text>
<rect x="963" y="718" width="1" height="3" fill="#000"/>
<text x="961.8" y="730" font-size="9.6" fill="#000" stroke="#000" stroke-width="0.25" textLength="51.3" lengthAdjust="spacingAndGlyphs">29 Feb 2020</text>
<rect x="1027" y="718" width="1" height="3" fill="#000"/>
<text x="1025.8" y="730" font-size="9.6" fill="#000" stroke="#000" stroke-width="0.25" textLength="51.3" lengthAdjust="spacingAndGlyphs">19 Mar 2020</text>
<rect x="1091" y="718" width="1" height="3" fill="#000"/>
<text x="1089.8" y="730" font-size="9.6" fill="#000" stroke="#000" stroke-width="0.25" textLength="45.1" lengthAdjust="spacingAndGlyphs">7 Apr 2020</text>
<rect x="1155" y="718" width="1" height="3" fill="#000"/>
<text x="1153.8" y="730" font-size="9.6" fill="#000" stroke="#000" stroke-width="0.25" textLength="50.2" lengthAdjust="spacingAndGlyphs">25 Apr 2020</text>
<rect x="0" y="738" width="1561" height="1" fill="#E3E3E3"/>
<rect x="0" y="739" width="1561" height="22" fill="#F0F0F0"/>
<rect x="0" y="740" width="1561" height="1" fill="#000"/>
<rect x="4" y="740" width="104" height="19" fill="#FFF"/>
<rect x="4" y="740" width="1" height="19" fill="#000"/>
<rect x="107" y="740" width="1" height="19" fill="#000"/>
<rect x="4" y="758" width="104" height="1" fill="#000"/>
<rect x="0" y="740" width="1561" height="1" fill="#000"/>
<text x="16.7" y="754.5" font-size="11.6" fill="#000" stroke="#000" stroke-width="0.1" textLength="79.3" lengthAdjust="spacingAndGlyphs">EURUSD,Daily</text>
<text x="118.3" y="754.5" font-size="11.6" fill="#6D6D6D" stroke="#6D6D6D" stroke-width="0" textLength="78.4" lengthAdjust="spacingAndGlyphs">USDCHF,Daily</text>
<rect x="208" y="745" width="1" height="12" fill="#6D6D6D"/>
<text x="219.3" y="754.5" font-size="11.6" fill="#6D6D6D" stroke="#6D6D6D" stroke-width="0" textLength="81.7" lengthAdjust="spacingAndGlyphs">AUDUSD,Daily</text>
<rect x="312" y="745" width="1" height="12" fill="#6D6D6D"/>
<text x="323.3" y="754.5" font-size="11.6" fill="#6D6D6D" stroke="#6D6D6D" stroke-width="0" textLength="80.7" lengthAdjust="spacingAndGlyphs">USDCAD,Daily</text>
<rect x="416" y="745" width="1" height="12" fill="#6D6D6D"/>
<text x="426.7" y="754.5" font-size="11.6" fill="#6D6D6D" stroke="#6D6D6D" stroke-width="0" textLength="82.6" lengthAdjust="spacingAndGlyphs">USDCNH,Daily</text>
<rect x="521" y="745" width="1" height="12" fill="#6D6D6D"/>
<text x="532.3" y="754.5" font-size="11.6" fill="#6D6D6D" stroke="#6D6D6D" stroke-width="0" textLength="80.0" lengthAdjust="spacingAndGlyphs">EURUSD,Daily</text>
<rect x="625" y="745" width="1" height="12" fill="#6D6D6D"/>
<text x="636" y="754.5" font-size="11.6" fill="#6D6D6D" stroke="#6D6D6D" stroke-width="0" textLength="68" lengthAdjust="spacingAndGlyphs">GBPUSD,H4</text>
<rect x="716" y="745" width="1" height="12" fill="#6D6D6D"/>
<text x="726.7" y="754.5" font-size="11.6" fill="#6D6D6D" stroke="#6D6D6D" stroke-width="0" textLength="69.3" lengthAdjust="spacingAndGlyphs">XAUUSD,H4</text>
<rect x="808" y="745" width="1" height="12" fill="#6D6D6D"/>
<text x="819.3" y="754.5" font-size="11.6" fill="#6D6D6D" stroke="#6D6D6D" stroke-width="0" textLength="49.0" lengthAdjust="spacingAndGlyphs">HK50,H1</text>
<rect x="881" y="745" width="1" height="12" fill="#6D6D6D"/>
<text x="891.7" y="754.5" font-size="11.6" fill="#6D6D6D" stroke="#6D6D6D" stroke-width="0" textLength="56.0" lengthAdjust="spacingAndGlyphs">UK100,H1</text>
<rect x="960" y="745" width="1" height="12" fill="#6D6D6D"/>
<text x="971.7" y="754.5" font-size="11.6" fill="#6D6D6D" stroke="#6D6D6D" stroke-width="0" textLength="56.0" lengthAdjust="spacingAndGlyphs">UK100,H1</text>
<rect x="1040" y="745" width="1" height="12" fill="#6D6D6D"/>
<text x="1051.5" y="754.5" font-size="11.6" fill="#6D6D6D" stroke="#6D6D6D" stroke-width="0" textLength="56.0" lengthAdjust="spacingAndGlyphs">GER30,H1</text>
<rect x="1120" y="745" width="1" height="12" fill="#6D6D6D"/>
<text x="1130" y="754.5" font-size="11.6" fill="#6D6D6D" stroke="#6D6D6D" stroke-width="0" textLength="54.3" lengthAdjust="spacingAndGlyphs">FRA40,H1</text>
<rect x="1196" y="745" width="1" height="12" fill="#6D6D6D"/>
<text x="1205.7" y="754.5" font-size="11.6" fill="#6D6D6D" stroke="#6D6D6D" stroke-width="0" textLength="51.0" lengthAdjust="spacingAndGlyphs">USOil,H1</text>
<rect x="1268" y="745" width="1" height="12" fill="#6D6D6D"/>
<text x="1277.7" y="754.5" font-size="11.6" fill="#6D6D6D" stroke="#6D6D6D" stroke-width="0" textLength="62.3" lengthAdjust="spacingAndGlyphs">USDJPY,H1</text>
<rect x="1352" y="745" width="1" height="12" fill="#6D6D6D"/>
<polygon points="1537,746 1537,754 1533,750" fill="#A0A0A0"/>
<polygon points="1552,746 1552,754 1556,750" fill="#A0A0A0"/></svg>
</body></html>
